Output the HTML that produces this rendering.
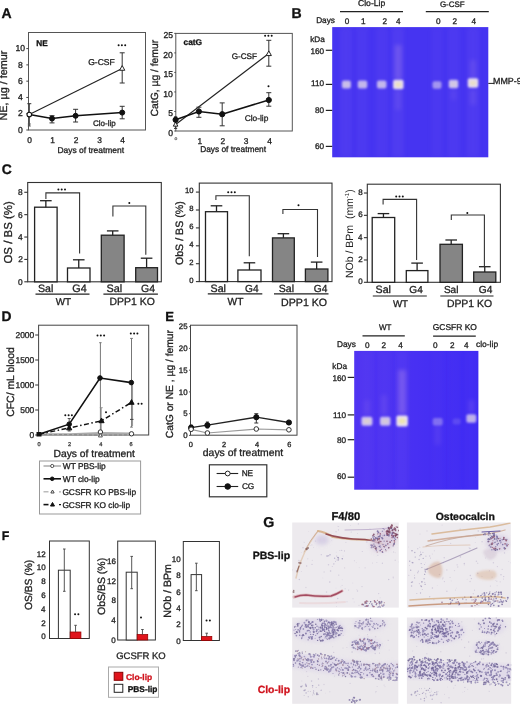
<!DOCTYPE html>
<html><head><meta charset="utf-8"><title>Figure</title>
<style>
html,body{margin:0;padding:0;background:#fff;}
body{width:520px;height:707px;overflow:hidden;}
svg{display:block;font-family:"Liberation Sans", sans-serif;text-rendering:geometricPrecision;will-change:transform;filter:blur(0.35px);}
</style></head><body>
<svg width="520" height="707" viewBox="0 0 520 707">
<defs>
<filter id="blur1" x="-50%" y="-50%" width="200%" height="200%"><feGaussianBlur stdDeviation="1.2"/></filter>
<filter id="blur2" x="-50%" y="-50%" width="200%" height="200%"><feGaussianBlur stdDeviation="2"/></filter>
<filter id="blur05" x="-20%" y="-20%" width="140%" height="140%"><feGaussianBlur stdDeviation="0.5"/></filter>
<filter id="blur06" x="-5%" y="-5%" width="110%" height="110%"><feGaussianBlur stdDeviation="0.45"/></filter>
<linearGradient id="g2grad" x1="0" y1="0" x2="1" y2="0"><stop offset="0" stop-color="#5034f2"/><stop offset="0.5" stop-color="#4830f3"/><stop offset="1" stop-color="#3e2af4"/></linearGradient>
</defs>
<rect width="520" height="707" fill="#fff"/>
<text x="1.45" y="17.94" font-size="14.03" text-anchor="start" font-weight="bold" fill="#111" stroke="#111" stroke-width="0.3">A</text>
<text x="291.48" y="17.86" font-size="14.1" text-anchor="start" font-weight="bold" fill="#111" stroke="#111" stroke-width="0.3">B</text>
<text x="1.85" y="174.49" font-size="13.89" text-anchor="start" font-weight="bold" fill="#111" stroke="#111" stroke-width="0.3">C</text>
<text x="1.5" y="320.57" font-size="13.82" text-anchor="start" font-weight="bold" fill="#111" stroke="#111" stroke-width="0.3">D</text>
<text x="165.35" y="320.62" font-size="13.1" text-anchor="start" font-weight="bold" fill="#111" stroke="#111" stroke-width="0.3">E</text>
<text x="1.8" y="539.66" font-size="12.35" text-anchor="start" font-weight="bold" fill="#111" stroke="#111" stroke-width="0.3">F</text>
<text x="263.23" y="527.41" font-size="14.22" text-anchor="start" font-weight="bold" fill="#111" stroke="#111" stroke-width="0.3">G</text>
<rect x="28.5" y="32.5" width="117" height="97.5" fill="none" stroke="#555" stroke-width="1"/>
<line x1="26.3" y1="130.0" x2="28.5" y2="130.0" stroke="#444" stroke-width="1"/>
<text x="17.99" y="132.67" font-size="8.6" text-anchor="start" font-weight="normal" fill="#222" stroke="#222" stroke-width="0.3">0</text>
<line x1="26.3" y1="113.72" x2="28.5" y2="113.72" stroke="#444" stroke-width="1"/>
<text x="18.01" y="116.43" font-size="8.6" text-anchor="start" font-weight="normal" fill="#222" stroke="#222" stroke-width="0.3">2</text>
<line x1="26.3" y1="97.44" x2="28.5" y2="97.44" stroke="#444" stroke-width="1"/>
<text x="18.06" y="100.11" font-size="8.6" text-anchor="start" font-weight="normal" fill="#222" stroke="#222" stroke-width="0.3">4</text>
<line x1="26.3" y1="81.16" x2="28.5" y2="81.16" stroke="#444" stroke-width="1"/>
<text x="17.97" y="83.83" font-size="8.6" text-anchor="start" font-weight="normal" fill="#222" stroke="#222" stroke-width="0.3">6</text>
<line x1="26.3" y1="64.88" x2="28.5" y2="64.88" stroke="#444" stroke-width="1"/>
<text x="17.99" y="67.55" font-size="8.6" text-anchor="start" font-weight="normal" fill="#222" stroke="#222" stroke-width="0.3">8</text>
<line x1="26.3" y1="48.599999999999994" x2="28.5" y2="48.599999999999994" stroke="#444" stroke-width="1"/>
<text x="15.45" y="51.27" font-size="8.6" text-anchor="start" font-weight="normal" fill="#222" stroke="#222" stroke-width="0.3">10</text>
<text x="27.15" y="142.9" font-size="8.4" text-anchor="start" font-weight="normal" fill="#222" stroke="#222" stroke-width="0.3">0</text>
<text x="50.14" y="142.9" font-size="8.4" text-anchor="start" font-weight="normal" fill="#222" stroke="#222" stroke-width="0.3">1</text>
<text x="73.87" y="142.94" font-size="8.4" text-anchor="start" font-weight="normal" fill="#222" stroke="#222" stroke-width="0.3">2</text>
<text x="97.17" y="142.9" font-size="8.4" text-anchor="start" font-weight="normal" fill="#222" stroke="#222" stroke-width="0.3">3</text>
<text x="120.31" y="142.9" font-size="8.4" text-anchor="start" font-weight="normal" fill="#222" stroke="#222" stroke-width="0.3">4</text>
<text x="57.45" y="152.88" font-size="8.45" text-anchor="start" font-weight="normal" fill="#222" stroke="#222" stroke-width="0.3">Days of treatment</text>
<text x="7.44" y="120.53" font-size="10.82" text-anchor="start" font-weight="normal" fill="#222" stroke="#222" stroke-width="0.3" transform="rotate(-90 7.44 120.53)">NE, µg / femur</text>
<text x="36.29" y="45.98" font-size="8.21" text-anchor="start" font-weight="bold" fill="#111" stroke="#111" stroke-width="0.3">NE</text>
<polyline points="29.3,114.6 122.7,68.2" fill="none" stroke="#222" stroke-width="1.1"/>
<line x1="122.2" y1="52.8" x2="122.2" y2="83" stroke="#333" stroke-width="1"/>
<line x1="119.7" y1="52.8" x2="124.7" y2="52.8" stroke="#333" stroke-width="1"/>
<line x1="119.7" y1="83" x2="124.7" y2="83" stroke="#333" stroke-width="1"/>
<polygon points="122.2,65.592 119.60000000000001,70.272 124.8,70.272" fill="#fff" stroke="#222" stroke-width="1"/>
<text x="88.2" y="64.5" font-size="8.56" text-anchor="start" font-weight="normal" fill="#222" stroke="#222" stroke-width="0.3">G-CSF</text>
<circle cx="118.60" cy="45.2" r="1.0" fill="#111"/>
<circle cx="121.90" cy="45.2" r="1.0" fill="#111"/>
<circle cx="125.20" cy="45.2" r="1.0" fill="#111"/>
<polyline points="29.3,114.6 52.0,118.6 75.6,115.8 122.2,112.6" fill="none" stroke="#111" stroke-width="1.5"/>
<line x1="52" y1="115.7" x2="52" y2="122.9" stroke="#333" stroke-width="1"/>
<line x1="49.5" y1="115.7" x2="54.5" y2="115.7" stroke="#333" stroke-width="1"/>
<line x1="49.5" y1="122.9" x2="54.5" y2="122.9" stroke="#333" stroke-width="1"/>
<line x1="75.6" y1="109.3" x2="75.6" y2="122.0" stroke="#333" stroke-width="1"/>
<line x1="73.1" y1="109.3" x2="78.1" y2="109.3" stroke="#333" stroke-width="1"/>
<line x1="73.1" y1="122.0" x2="78.1" y2="122.0" stroke="#333" stroke-width="1"/>
<line x1="122.2" y1="106.3" x2="122.2" y2="118.8" stroke="#333" stroke-width="1"/>
<line x1="119.7" y1="106.3" x2="124.7" y2="106.3" stroke="#333" stroke-width="1"/>
<line x1="119.7" y1="118.8" x2="124.7" y2="118.8" stroke="#333" stroke-width="1"/>
<line x1="29.3" y1="103.7" x2="29.3" y2="126" stroke="#333" stroke-width="1"/>
<line x1="27.3" y1="103.7" x2="31.3" y2="103.7" stroke="#333" stroke-width="1"/>
<line x1="27.8" y1="124" x2="30.8" y2="124" stroke="#555" stroke-width="1"/>
<line x1="27.8" y1="126" x2="30.8" y2="126" stroke="#555" stroke-width="1"/>
<circle cx="52" cy="118.6" r="2.5" fill="#111" stroke="#111" stroke-width="1"/>
<circle cx="75.6" cy="115.8" r="2.5" fill="#111" stroke="#111" stroke-width="1"/>
<circle cx="122.2" cy="112.6" r="2.5" fill="#111" stroke="#111" stroke-width="1"/>
<circle cx="29.3" cy="114.6" r="2.3" fill="#fff" stroke="#111" stroke-width="1.1"/>
<text x="93.03" y="125.77" font-size="8.03" text-anchor="start" font-weight="normal" fill="#222" stroke="#222" stroke-width="0.3">Clo-lip</text>
<rect x="175.8" y="33.4" width="116.5" height="97.6" fill="none" stroke="#555" stroke-width="1"/>
<line x1="174.3" y1="131.0" x2="175.8" y2="131.0" stroke="#444" stroke-width="1"/>
<line x1="174.3" y1="111.475" x2="175.8" y2="111.475" stroke="#444" stroke-width="1"/>
<line x1="174.3" y1="91.95" x2="175.8" y2="91.95" stroke="#444" stroke-width="1"/>
<line x1="174.3" y1="72.42500000000001" x2="175.8" y2="72.42500000000001" stroke="#444" stroke-width="1"/>
<line x1="174.3" y1="52.900000000000006" x2="175.8" y2="52.900000000000006" stroke="#444" stroke-width="1"/>
<line x1="174.3" y1="33.375" x2="175.8" y2="33.375" stroke="#444" stroke-width="1"/>
<text x="168.13" y="135.77" font-size="8.6" text-anchor="start" font-weight="normal" fill="#222" stroke="#222" stroke-width="0.3">0</text>
<text x="168.17" y="116.2" font-size="8.6" text-anchor="start" font-weight="normal" fill="#222" stroke="#222" stroke-width="0.3">5</text>
<text x="163.35" y="96.72" font-size="8.6" text-anchor="start" font-weight="normal" fill="#222" stroke="#222" stroke-width="0.3">10</text>
<text x="163.4" y="77.15" font-size="8.6" text-anchor="start" font-weight="normal" fill="#222" stroke="#222" stroke-width="0.3">15</text>
<text x="163.35" y="57.67" font-size="8.6" text-anchor="start" font-weight="normal" fill="#222" stroke="#222" stroke-width="0.3">20</text>
<text x="163.4" y="38.14" font-size="8.6" text-anchor="start" font-weight="normal" fill="#222" stroke="#222" stroke-width="0.3">25</text>
<text x="174.51" y="140.32" font-size="5" text-anchor="start" font-weight="normal" fill="#666" stroke="#666" stroke-width="0.3">o</text>
<text x="197.54" y="143.5" font-size="8.4" text-anchor="start" font-weight="normal" fill="#222" stroke="#222" stroke-width="0.3">1</text>
<text x="220.57" y="143.54" font-size="8.4" text-anchor="start" font-weight="normal" fill="#222" stroke="#222" stroke-width="0.3">2</text>
<text x="243.87" y="143.5" font-size="8.4" text-anchor="start" font-weight="normal" fill="#222" stroke="#222" stroke-width="0.3">3</text>
<text x="267.31" y="143.5" font-size="8.4" text-anchor="start" font-weight="normal" fill="#222" stroke="#222" stroke-width="0.3">4</text>
<text x="200.16" y="152.3" font-size="8.36" text-anchor="start" font-weight="normal" fill="#222" stroke="#222" stroke-width="0.3">Days of treatment</text>
<text x="158.16" y="116.39" font-size="10.34" text-anchor="start" font-weight="normal" fill="#222" stroke="#222" stroke-width="0.3" transform="rotate(-90 158.16 116.39)">CatG, µg / femur</text>
<text x="183.49" y="45.39" font-size="8.37" text-anchor="start" font-weight="bold" fill="#111" stroke="#111" stroke-width="0.3">catG</text>
<polyline points="175.6,124.5 268.8,53.5" fill="none" stroke="#222" stroke-width="1.1"/>
<line x1="268.8" y1="40.3" x2="268.8" y2="66.2" stroke="#333" stroke-width="1"/>
<line x1="266.3" y1="40.3" x2="271.3" y2="40.3" stroke="#333" stroke-width="1"/>
<line x1="266.3" y1="66.2" x2="271.3" y2="66.2" stroke="#333" stroke-width="1"/>
<line x1="175.6" y1="116.8" x2="175.6" y2="128.4" stroke="#333" stroke-width="1"/>
<line x1="174" y1="116.8" x2="177.2" y2="116.8" stroke="#333" stroke-width="1"/>
<line x1="174" y1="128.4" x2="177.2" y2="128.4" stroke="#333" stroke-width="1"/>
<polygon points="268.8,50.892 266.2,55.572 271.40000000000003,55.572" fill="#fff" stroke="#222" stroke-width="1"/>
<polygon points="175.6,122.016 173.29999999999998,126.156 177.9,126.156" fill="#fff" stroke="#222" stroke-width="1"/>
<text x="231.72" y="59.2" font-size="8.13" text-anchor="start" font-weight="normal" fill="#222" stroke="#222" stroke-width="0.3">G-CSF</text>
<circle cx="265.10" cy="35.8" r="1.0" fill="#111"/>
<circle cx="268.40" cy="35.8" r="1.0" fill="#111"/>
<circle cx="271.70" cy="35.8" r="1.0" fill="#111"/>
<polyline points="175.6,119.8 198.9,111.5 222.2,114.2 268.8,100.0" fill="none" stroke="#111" stroke-width="1.5"/>
<line x1="198.9" y1="107.2" x2="198.9" y2="117.3" stroke="#333" stroke-width="1"/>
<line x1="196.4" y1="107.2" x2="201.4" y2="107.2" stroke="#333" stroke-width="1"/>
<line x1="196.4" y1="117.3" x2="201.4" y2="117.3" stroke="#333" stroke-width="1"/>
<line x1="222.2" y1="102.9" x2="222.2" y2="125.8" stroke="#333" stroke-width="1"/>
<line x1="219.7" y1="102.9" x2="224.7" y2="102.9" stroke="#333" stroke-width="1"/>
<line x1="219.7" y1="125.8" x2="224.7" y2="125.8" stroke="#333" stroke-width="1"/>
<line x1="268.8" y1="92.7" x2="268.8" y2="106.2" stroke="#333" stroke-width="1"/>
<line x1="266.3" y1="92.7" x2="271.3" y2="92.7" stroke="#333" stroke-width="1"/>
<line x1="266.3" y1="106.2" x2="271.3" y2="106.2" stroke="#333" stroke-width="1"/>
<circle cx="175.6" cy="119.8" r="2.6" fill="#111" stroke="#111" stroke-width="1"/>
<circle cx="198.9" cy="111.5" r="2.6" fill="#111" stroke="#111" stroke-width="1"/>
<circle cx="222.2" cy="114.2" r="2.6" fill="#111" stroke="#111" stroke-width="1"/>
<circle cx="268.8" cy="100.0" r="2.6" fill="#111" stroke="#111" stroke-width="1"/>
<circle cx="268.50" cy="86.2" r="1.0" fill="#111"/>
<text x="244.71" y="120.84" font-size="8.32" text-anchor="start" font-weight="normal" fill="#222" stroke="#222" stroke-width="0.3">Clo-lip</text>
<rect x="332.2" y="27.1" width="156.10000000000002" height="130.20000000000002" fill="#4634f1"/>
<clipPath id="clipb1"><rect x="332.2" y="27.1" width="156.10000000000002" height="130.20000000000002"/></clipPath>
<g clip-path="url(#clipb1)">

<rect x="340.0" y="27.1" width="12" height="130.20000000000002" fill="#8a70f0" opacity="0.12" filter="url(#blur2)"/>
<rect x="356.0" y="27.1" width="12" height="130.20000000000002" fill="#8a70f0" opacity="0.1" filter="url(#blur2)"/>
<rect x="375.6" y="27.1" width="12" height="130.20000000000002" fill="#8a70f0" opacity="0.1" filter="url(#blur2)"/>
<rect x="392.0" y="27.1" width="12" height="130.20000000000002" fill="#8a70f0" opacity="0.14" filter="url(#blur2)"/>
<rect x="431.0" y="27.1" width="12" height="130.20000000000002" fill="#8a70f0" opacity="0.08" filter="url(#blur2)"/>
<rect x="447.5" y="27.1" width="12" height="130.20000000000002" fill="#8a70f0" opacity="0.1" filter="url(#blur2)"/>
<rect x="467.0" y="27.1" width="12" height="130.20000000000002" fill="#8a70f0" opacity="0.12" filter="url(#blur2)"/>
<rect x="394.7" y="45" width="7" height="35" fill="#c9a0e8" opacity="0.25" filter="url(#blur2)"/>
<rect x="470.0" y="60" width="6" height="20" fill="#c9a0e8" opacity="0.15" filter="url(#blur2)"/>
<rect x="395.0" y="90" width="6" height="20" fill="#c9a0e8" opacity="0.12" filter="url(#blur2)"/>
<rect x="470.0" y="90" width="6" height="15" fill="#c9a0e8" opacity="0.12" filter="url(#blur2)"/>
<rect x="451.0" y="90" width="5" height="10" fill="#c9a0e8" opacity="0.1" filter="url(#blur2)"/>
<rect x="341.9" y="80.6" width="9" height="8" rx="2" fill="#ece2f0" opacity="0.75" filter="url(#blur1)"/>
<ellipse cx="346.4" cy="84.6" rx="2.6999999999999997" ry="2.0" fill="#f0e6a0" opacity="0.15" filter="url(#blur1)"/>
<rect x="357.75" y="80.6" width="9.5" height="8" rx="2" fill="#ece2f0" opacity="0.72" filter="url(#blur1)"/>
<ellipse cx="362.5" cy="84.6" rx="2.85" ry="2.0" fill="#f0e6a0" opacity="0.1" filter="url(#blur1)"/>
<rect x="376.95" y="80.6" width="9.5" height="8" rx="2" fill="#ece2f0" opacity="0.72" filter="url(#blur1)"/>
<ellipse cx="381.7" cy="84.6" rx="2.85" ry="2.0" fill="#f0e6a0" opacity="0.1" filter="url(#blur1)"/>
<rect x="393.05" y="79.75" width="10.5" height="9.5" rx="2" fill="#ece2f0" opacity="0.95" filter="url(#blur1)"/>
<ellipse cx="398.3" cy="84.5" rx="3.15" ry="2.375" fill="#f0e6a0" opacity="0.6" filter="url(#blur1)"/>
<rect x="432.5" y="81.25" width="9" height="7.5" rx="2" fill="#ece2f0" opacity="0.55" filter="url(#blur1)"/>
<rect x="448.75" y="79.75" width="9.5" height="8.5" rx="2" fill="#ece2f0" opacity="0.8" filter="url(#blur1)"/>
<ellipse cx="453.5" cy="84" rx="2.85" ry="2.125" fill="#f0e6a0" opacity="0.2" filter="url(#blur1)"/>
<rect x="467.75" y="78.25" width="10.5" height="9.5" rx="2" fill="#ece2f0" opacity="0.95" filter="url(#blur1)"/>
<ellipse cx="473" cy="83" rx="3.15" ry="2.375" fill="#f0e6a0" opacity="0.5" filter="url(#blur1)"/>
</g>
<text x="358.0" y="6.46" font-size="8.6" text-anchor="start" font-weight="normal" fill="#222" stroke="#222" stroke-width="0.3">Clo-Lip</text>
<line x1="340" y1="11.7" x2="403" y2="11.7" stroke="#222" stroke-width="1.2"/>
<text x="439.93" y="6.75" font-size="7.96" text-anchor="start" font-weight="normal" fill="#222" stroke="#222" stroke-width="0.3">G-CSF</text>
<line x1="425.8" y1="11.7" x2="488.8" y2="11.7" stroke="#222" stroke-width="1.2"/>
<text x="316.17" y="23.48" font-size="8.24" text-anchor="start" font-weight="normal" fill="#222" stroke="#222" stroke-width="0.3">Days</text>
<text x="344.7" y="24.03" font-size="8.2" text-anchor="start" font-weight="normal" fill="#222" stroke="#222" stroke-width="0.3">0</text>
<text x="361.1" y="24.03" font-size="8.2" text-anchor="start" font-weight="normal" fill="#222" stroke="#222" stroke-width="0.3">1</text>
<text x="382.42" y="24.07" font-size="8.2" text-anchor="start" font-weight="normal" fill="#222" stroke="#222" stroke-width="0.3">2</text>
<text x="395.97" y="24.03" font-size="8.2" text-anchor="start" font-weight="normal" fill="#222" stroke="#222" stroke-width="0.3">4</text>
<text x="436.1" y="24.03" font-size="8.2" text-anchor="start" font-weight="normal" fill="#222" stroke="#222" stroke-width="0.3">0</text>
<text x="452.42" y="24.07" font-size="8.2" text-anchor="start" font-weight="normal" fill="#222" stroke="#222" stroke-width="0.3">2</text>
<text x="471.47" y="24.03" font-size="8.2" text-anchor="start" font-weight="normal" fill="#222" stroke="#222" stroke-width="0.3">4</text>
<text x="310.19" y="42.12" font-size="8.16" text-anchor="start" font-weight="normal" fill="#222" stroke="#222" stroke-width="0.3">kDa</text>
<text x="310.43" y="53.63" font-size="8.2" text-anchor="start" font-weight="normal" fill="#222" stroke="#222" stroke-width="0.3">160</text>
<line x1="325.8" y1="50.3" x2="332.2" y2="50.3" stroke="#222" stroke-width="1.2"/>
<text x="311.01" y="86.43" font-size="8.2" text-anchor="start" font-weight="normal" fill="#222" stroke="#222" stroke-width="0.3">110</text>
<line x1="325.8" y1="84.4" x2="332.2" y2="84.4" stroke="#222" stroke-width="1.2"/>
<text x="314.98" y="113.33" font-size="8.2" text-anchor="start" font-weight="normal" fill="#222" stroke="#222" stroke-width="0.3">80</text>
<line x1="325.8" y1="110.4" x2="332.2" y2="110.4" stroke="#222" stroke-width="1.2"/>
<text x="314.98" y="149.03" font-size="8.2" text-anchor="start" font-weight="normal" fill="#222" stroke="#222" stroke-width="0.3">60</text>
<line x1="325.8" y1="146.4" x2="332.2" y2="146.4" stroke="#222" stroke-width="1.2"/>
<line x1="488.3" y1="83.4" x2="494" y2="83.4" stroke="#222" stroke-width="1"/>
<text x="493.09" y="84.37" font-size="8.9" text-anchor="start" font-weight="normal" fill="#222" stroke="#222" stroke-width="0.3">MMP-9</text>
<rect x="27.7" y="182.5" width="133.60000000000002" height="99.30000000000001" fill="none" stroke="#333" stroke-width="1.1"/>
<line x1="24.3" y1="281.8" x2="27.7" y2="281.8" stroke="#333" stroke-width="1.1"/>
<text x="18.03" y="284.8" font-size="8.4" text-anchor="start" font-weight="normal" fill="#222" stroke="#222" stroke-width="0.3">0</text>
<line x1="24.3" y1="259.42" x2="27.7" y2="259.42" stroke="#333" stroke-width="1.1"/>
<text x="18.16" y="262.46" font-size="8.4" text-anchor="start" font-weight="normal" fill="#222" stroke="#222" stroke-width="0.3">2</text>
<line x1="24.3" y1="237.04000000000002" x2="27.7" y2="237.04000000000002" stroke="#333" stroke-width="1.1"/>
<text x="17.99" y="240.04" font-size="8.4" text-anchor="start" font-weight="normal" fill="#222" stroke="#222" stroke-width="0.3">4</text>
<line x1="24.3" y1="214.66000000000003" x2="27.7" y2="214.66000000000003" stroke="#333" stroke-width="1.1"/>
<text x="18.07" y="217.66" font-size="8.4" text-anchor="start" font-weight="normal" fill="#222" stroke="#222" stroke-width="0.3">6</text>
<line x1="24.3" y1="192.28000000000003" x2="27.7" y2="192.28000000000003" stroke="#333" stroke-width="1.1"/>
<text x="18.07" y="195.28" font-size="8.4" text-anchor="start" font-weight="normal" fill="#222" stroke="#222" stroke-width="0.3">8</text>
<rect x="34.6" y="207.2" width="22.5" height="74.60000000000002" fill="#fff" stroke="#222" stroke-width="1.3"/>
<line x1="45.85" y1="207.2" x2="45.85" y2="200.7" stroke="#222" stroke-width="1.3"/>
<line x1="40.050000000000004" y1="200.7" x2="51.65" y2="200.7" stroke="#222" stroke-width="1.3"/>
<rect x="67.5" y="268" width="22.5" height="13.800000000000011" fill="#fff" stroke="#222" stroke-width="1.3"/>
<line x1="78.75" y1="268" x2="78.75" y2="259.8" stroke="#222" stroke-width="1.3"/>
<line x1="72.95" y1="259.8" x2="84.55" y2="259.8" stroke="#222" stroke-width="1.3"/>
<rect x="101.3" y="235.2" width="22.799999999999997" height="46.60000000000002" fill="#858585" stroke="#222" stroke-width="1.3"/>
<line x1="112.69999999999999" y1="235.2" x2="112.69999999999999" y2="230.9" stroke="#222" stroke-width="1.3"/>
<line x1="106.89999999999999" y1="230.9" x2="118.49999999999999" y2="230.9" stroke="#222" stroke-width="1.3"/>
<rect x="135.7" y="267.7" width="21.80000000000001" height="14.100000000000023" fill="#858585" stroke="#222" stroke-width="1.3"/>
<line x1="146.6" y1="267.7" x2="146.6" y2="258.2" stroke="#222" stroke-width="1.3"/>
<line x1="140.79999999999998" y1="258.2" x2="152.4" y2="258.2" stroke="#222" stroke-width="1.3"/>
<polyline points="45.9,199 45.9,192.9 79.6,192.9 79.6,253.4" fill="none" stroke="#333" stroke-width="1.1"/>
<circle cx="58.40" cy="189.5" r="1.0" fill="#111"/>
<circle cx="61.70" cy="189.5" r="1.0" fill="#111"/>
<circle cx="65.00" cy="189.5" r="1.0" fill="#111"/>
<polyline points="112.9,216.4 112.9,206 145.8,206 145.8,254.8" fill="none" stroke="#333" stroke-width="1.1"/>
<circle cx="129.30" cy="202.9" r="1.0" fill="#111"/>
<text x="11.9" y="263.59" font-size="11.46" text-anchor="start" font-weight="normal" fill="#222" stroke="#222" stroke-width="0.3" transform="rotate(-90 11.9 263.59)">OS / BS (%)</text>
<text x="38.05" y="292.29" font-size="10.6" text-anchor="start" font-weight="normal" fill="#222" stroke="#222" stroke-width="0.3">Sal</text>
<text x="72.28" y="292.23" font-size="10.8" text-anchor="start" font-weight="normal" fill="#222" stroke="#222" stroke-width="0.3">G4</text>
<text x="106.44" y="292.37" font-size="10.82" text-anchor="start" font-weight="normal" fill="#222" stroke="#222" stroke-width="0.3">Sal</text>
<text x="141.0" y="292.12" font-size="10.48" text-anchor="start" font-weight="normal" fill="#222" stroke="#222" stroke-width="0.3">G4</text>
<line x1="35.5" y1="294.1" x2="89.5" y2="294.1" stroke="#222" stroke-width="1.2"/>
<line x1="103.4" y1="294.1" x2="157.9" y2="294.1" stroke="#222" stroke-width="1.2"/>
<text x="55.77" y="305.24" font-size="9.84" text-anchor="start" font-weight="normal" fill="#222" stroke="#222" stroke-width="0.3">WT</text>
<text x="109.59" y="305.45" font-size="10.43" text-anchor="start" font-weight="normal" fill="#222" stroke="#222" stroke-width="0.3">DPP1 KO</text>
<rect x="199.3" y="183.1" width="132.7" height="98.50000000000003" fill="none" stroke="#333" stroke-width="1.1"/>
<line x1="195.9" y1="281.6" x2="199.3" y2="281.6" stroke="#333" stroke-width="1.1"/>
<text x="189.2" y="282.96" font-size="7.7" text-anchor="start" font-weight="normal" fill="#222" stroke="#222" stroke-width="0.3">0</text>
<line x1="195.9" y1="263.70000000000005" x2="199.3" y2="263.70000000000005" stroke="#333" stroke-width="1.1"/>
<text x="189.31" y="265.1" font-size="7.7" text-anchor="start" font-weight="normal" fill="#222" stroke="#222" stroke-width="0.3">2</text>
<line x1="195.9" y1="245.8" x2="199.3" y2="245.8" stroke="#333" stroke-width="1.1"/>
<text x="189.16" y="247.16" font-size="7.7" text-anchor="start" font-weight="normal" fill="#222" stroke="#222" stroke-width="0.3">4</text>
<line x1="195.9" y1="227.90000000000003" x2="199.3" y2="227.90000000000003" stroke="#333" stroke-width="1.1"/>
<text x="189.23" y="229.26" font-size="7.7" text-anchor="start" font-weight="normal" fill="#222" stroke="#222" stroke-width="0.3">6</text>
<line x1="195.9" y1="210.00000000000003" x2="199.3" y2="210.00000000000003" stroke="#333" stroke-width="1.1"/>
<text x="189.23" y="211.36" font-size="7.7" text-anchor="start" font-weight="normal" fill="#222" stroke="#222" stroke-width="0.3">8</text>
<line x1="195.9" y1="192.10000000000002" x2="199.3" y2="192.10000000000002" stroke="#333" stroke-width="1.1"/>
<text x="184.92" y="193.46" font-size="7.7" text-anchor="start" font-weight="normal" fill="#222" stroke="#222" stroke-width="0.3">10</text>
<rect x="205.5" y="211.7" width="22.0" height="69.90000000000003" fill="#fff" stroke="#222" stroke-width="1.3"/>
<line x1="216.5" y1="211.7" x2="216.5" y2="205.8" stroke="#222" stroke-width="1.3"/>
<line x1="210.7" y1="205.8" x2="222.3" y2="205.8" stroke="#222" stroke-width="1.3"/>
<rect x="237.9" y="270" width="23.099999999999994" height="11.600000000000023" fill="#fff" stroke="#222" stroke-width="1.3"/>
<line x1="249.45" y1="270" x2="249.45" y2="262.8" stroke="#222" stroke-width="1.3"/>
<line x1="243.64999999999998" y1="262.8" x2="255.25" y2="262.8" stroke="#222" stroke-width="1.3"/>
<rect x="272.5" y="237.9" width="21.80000000000001" height="43.70000000000002" fill="#858585" stroke="#222" stroke-width="1.3"/>
<line x1="283.4" y1="237.9" x2="283.4" y2="233.7" stroke="#222" stroke-width="1.3"/>
<line x1="277.59999999999997" y1="233.7" x2="289.2" y2="233.7" stroke="#222" stroke-width="1.3"/>
<rect x="305.4" y="269" width="22.5" height="12.600000000000023" fill="#858585" stroke="#222" stroke-width="1.3"/>
<line x1="316.65" y1="269" x2="316.65" y2="262.1" stroke="#222" stroke-width="1.3"/>
<line x1="310.84999999999997" y1="262.1" x2="322.45" y2="262.1" stroke="#222" stroke-width="1.3"/>
<polyline points="215.9,200 215.9,195.8 249.3,195.8 249.3,256.3" fill="none" stroke="#333" stroke-width="1.1"/>
<circle cx="228.20" cy="192.3" r="1.0" fill="#111"/>
<circle cx="231.50" cy="192.3" r="1.0" fill="#111"/>
<circle cx="234.80" cy="192.3" r="1.0" fill="#111"/>
<polyline points="282.9,214 282.9,209.5 317.5,209.5 317.5,257" fill="none" stroke="#333" stroke-width="1.1"/>
<circle cx="298.50" cy="205.2" r="1.0" fill="#111"/>
<text x="183.29" y="265.06" font-size="10.63" text-anchor="start" font-weight="normal" fill="#222" stroke="#222" stroke-width="0.3" transform="rotate(-90 183.29 265.06)">ObS / BS (%)</text>
<text x="210.55" y="292.01" font-size="10.67" text-anchor="start" font-weight="normal" fill="#222" stroke="#222" stroke-width="0.3">Sal</text>
<text x="245.02" y="291.71" font-size="10.16" text-anchor="start" font-weight="normal" fill="#222" stroke="#222" stroke-width="0.3">G4</text>
<text x="278.85" y="291.96" font-size="10.52" text-anchor="start" font-weight="normal" fill="#222" stroke="#222" stroke-width="0.3">Sal</text>
<text x="313.82" y="291.71" font-size="10.16" text-anchor="start" font-weight="normal" fill="#222" stroke="#222" stroke-width="0.3">G4</text>
<line x1="207.8" y1="293.9" x2="262.3" y2="293.9" stroke="#222" stroke-width="1.2"/>
<line x1="274" y1="293.9" x2="328.5" y2="293.9" stroke="#222" stroke-width="1.2"/>
<text x="227.58" y="305.41" font-size="10.16" text-anchor="start" font-weight="normal" fill="#222" stroke="#222" stroke-width="0.3">WT</text>
<text x="281.07" y="306.41" font-size="10.62" text-anchor="start" font-weight="normal" fill="#222" stroke="#222" stroke-width="0.3">DPP1 KO</text>
<rect x="367.3" y="184.2" width="133.09999999999997" height="98.10000000000002" fill="none" stroke="#333" stroke-width="1.1"/>
<line x1="363.90000000000003" y1="282.3" x2="367.3" y2="282.3" stroke="#333" stroke-width="1.1"/>
<text x="358.14" y="284.26" font-size="8.0" text-anchor="start" font-weight="normal" fill="#222" stroke="#222" stroke-width="0.3">0</text>
<line x1="363.90000000000003" y1="259.98" x2="367.3" y2="259.98" stroke="#333" stroke-width="1.1"/>
<text x="358.26" y="261.98" font-size="8.0" text-anchor="start" font-weight="normal" fill="#222" stroke="#222" stroke-width="0.3">2</text>
<line x1="363.90000000000003" y1="237.66000000000003" x2="367.3" y2="237.66000000000003" stroke="#333" stroke-width="1.1"/>
<text x="358.1" y="239.62" font-size="8.0" text-anchor="start" font-weight="normal" fill="#222" stroke="#222" stroke-width="0.3">4</text>
<line x1="363.90000000000003" y1="215.34" x2="367.3" y2="215.34" stroke="#333" stroke-width="1.1"/>
<text x="358.18" y="217.3" font-size="8.0" text-anchor="start" font-weight="normal" fill="#222" stroke="#222" stroke-width="0.3">6</text>
<line x1="363.90000000000003" y1="193.02" x2="367.3" y2="193.02" stroke="#333" stroke-width="1.1"/>
<text x="358.18" y="194.98" font-size="8.0" text-anchor="start" font-weight="normal" fill="#222" stroke="#222" stroke-width="0.3">8</text>
<rect x="372.2" y="217.5" width="22.5" height="64.80000000000001" fill="#fff" stroke="#222" stroke-width="1.3"/>
<line x1="383.45" y1="217.5" x2="383.45" y2="213.6" stroke="#222" stroke-width="1.3"/>
<line x1="377.65" y1="213.6" x2="389.25" y2="213.6" stroke="#222" stroke-width="1.3"/>
<rect x="406.3" y="270.6" width="21.599999999999966" height="11.699999999999989" fill="#fff" stroke="#222" stroke-width="1.3"/>
<line x1="417.1" y1="270.6" x2="417.1" y2="263.1" stroke="#222" stroke-width="1.3"/>
<line x1="411.3" y1="263.1" x2="422.90000000000003" y2="263.1" stroke="#222" stroke-width="1.3"/>
<rect x="440" y="244.3" width="22.399999999999977" height="38.0" fill="#858585" stroke="#222" stroke-width="1.3"/>
<line x1="451.2" y1="244.3" x2="451.2" y2="240" stroke="#222" stroke-width="1.3"/>
<line x1="445.4" y1="240" x2="457.0" y2="240" stroke="#222" stroke-width="1.3"/>
<rect x="473.7" y="272" width="22.100000000000023" height="10.300000000000011" fill="#858585" stroke="#222" stroke-width="1.3"/>
<line x1="484.75" y1="272" x2="484.75" y2="266.7" stroke="#222" stroke-width="1.3"/>
<line x1="478.95" y1="266.7" x2="490.55" y2="266.7" stroke="#222" stroke-width="1.3"/>
<polyline points="383.1,204.5 383.1,199.4 416.6,199.4 416.6,260" fill="none" stroke="#333" stroke-width="1.1"/>
<circle cx="396.20" cy="196.4" r="1.0" fill="#111"/>
<circle cx="399.50" cy="196.4" r="1.0" fill="#111"/>
<circle cx="402.80" cy="196.4" r="1.0" fill="#111"/>
<polyline points="451.3,220 451.3,215 484.4,215 484.4,266" fill="none" stroke="#333" stroke-width="1.1"/>
<circle cx="467.30" cy="213" r="1.0" fill="#111"/>
<text x="352.90" y="278.04" font-size="10.5" fill="#222" transform="rotate(-90 352.90 278.04)" xml:space="preserve">NOb / BPm  (mm<tspan font-size="6" dy="-3.6">-1</tspan><tspan dy="3.6">)</tspan></text>
<text x="375.55" y="293.16" font-size="10.67" text-anchor="start" font-weight="normal" fill="#222" stroke="#222" stroke-width="0.3">Sal</text>
<text x="409.32" y="292.83" font-size="10.08" text-anchor="start" font-weight="normal" fill="#222" stroke="#222" stroke-width="0.3">G4</text>
<text x="443.88" y="292.95" font-size="10.07" text-anchor="start" font-weight="normal" fill="#222" stroke="#222" stroke-width="0.3">Sal</text>
<text x="478.82" y="292.86" font-size="10.16" text-anchor="start" font-weight="normal" fill="#222" stroke="#222" stroke-width="0.3">G4</text>
<line x1="372.8" y1="296" x2="426.8" y2="296" stroke="#222" stroke-width="1.2"/>
<line x1="440.3" y1="296" x2="493.5" y2="296" stroke="#222" stroke-width="1.2"/>
<text x="392.88" y="307.02" font-size="9.77" text-anchor="start" font-weight="normal" fill="#222" stroke="#222" stroke-width="0.3">WT</text>
<text x="446.89" y="307.35" font-size="10.43" text-anchor="start" font-weight="normal" fill="#222" stroke="#222" stroke-width="0.3">DPP1 KO</text>
<rect x="38.6" y="325.2" width="110.1" height="109.8" fill="none" stroke="#444" stroke-width="1"/>
<line x1="35.2" y1="435.0" x2="38.6" y2="435.0" stroke="#333" stroke-width="1"/>
<text x="29.59" y="437.73" font-size="8.48" text-anchor="start" font-weight="normal" fill="#222" stroke="#222" stroke-width="0.3">0</text>
<line x1="35.2" y1="410.0" x2="38.6" y2="410.0" stroke="#333" stroke-width="1"/>
<text x="20.18" y="412.73" font-size="8.48" text-anchor="start" font-weight="normal" fill="#222" stroke="#222" stroke-width="0.3">500</text>
<line x1="35.2" y1="385.0" x2="38.6" y2="385.0" stroke="#333" stroke-width="1"/>
<text x="15.43" y="387.73" font-size="8.48" text-anchor="start" font-weight="normal" fill="#222" stroke="#222" stroke-width="0.3">1000</text>
<line x1="35.2" y1="360.0" x2="38.6" y2="360.0" stroke="#333" stroke-width="1"/>
<text x="15.43" y="362.73" font-size="8.48" text-anchor="start" font-weight="normal" fill="#222" stroke="#222" stroke-width="0.3">1500</text>
<line x1="35.2" y1="335.0" x2="38.6" y2="335.0" stroke="#333" stroke-width="1"/>
<text x="15.43" y="337.73" font-size="8.48" text-anchor="start" font-weight="normal" fill="#222" stroke="#222" stroke-width="0.3">2000</text>
<text x="37.43" y="445.73" font-size="5.6" text-anchor="start" font-weight="normal" fill="#444" stroke="#444" stroke-width="0.3">0</text>
<text x="68.05" y="445.76" font-size="5.6" text-anchor="start" font-weight="normal" fill="#444" stroke="#444" stroke-width="0.3">2</text>
<text x="99.17" y="445.73" font-size="5.6" text-anchor="start" font-weight="normal" fill="#444" stroke="#444" stroke-width="0.3">4</text>
<text x="129.62" y="445.73" font-size="5.6" text-anchor="start" font-weight="normal" fill="#444" stroke="#444" stroke-width="0.3">6</text>
<text x="53.5" y="456.66" font-size="10.32" text-anchor="start" font-weight="normal" fill="#222" stroke="#222" stroke-width="0.3">Days of treatment</text>
<text x="14.08" y="416.78" font-size="10.43" text-anchor="start" font-weight="normal" fill="#222" stroke="#222" stroke-width="0.3" transform="rotate(-90 14.08 416.78)">CFC/ mL blood</text>
<line x1="100.4" y1="342.7" x2="100.4" y2="432.5" stroke="#777" stroke-width="1"/>
<line x1="99.2" y1="342.7" x2="101.60000000000001" y2="342.7" stroke="#777" stroke-width="1"/>
<line x1="99.2" y1="432.5" x2="101.60000000000001" y2="432.5" stroke="#777" stroke-width="1"/>
<line x1="131.5" y1="338.4" x2="131.5" y2="427.1" stroke="#777" stroke-width="1"/>
<line x1="130.1" y1="338.4" x2="132.9" y2="338.4" stroke="#777" stroke-width="1"/>
<line x1="130.1" y1="427.1" x2="132.9" y2="427.1" stroke="#777" stroke-width="1"/>
<line x1="132.3" y1="383" x2="132.3" y2="426" stroke="#999" stroke-width="1.5"/>
<line x1="69.2" y1="418.5" x2="69.2" y2="431" stroke="#555" stroke-width="1"/>
<line x1="67.7" y1="418.5" x2="70.7" y2="418.5" stroke="#555" stroke-width="1"/>
<line x1="67.7" y1="431" x2="70.7" y2="431" stroke="#555" stroke-width="1"/>
<line x1="101.3" y1="407.7" x2="101.3" y2="432" stroke="#888" stroke-width="0.8"/>
<line x1="99.8" y1="407.7" x2="102.8" y2="407.7" stroke="#888" stroke-width="0.8"/>
<line x1="99.8" y1="432" x2="102.8" y2="432" stroke="#888" stroke-width="0.8"/>
<line x1="130" y1="419.4" x2="133.5" y2="419.4" stroke="#444" stroke-width="1"/>
<polyline points="39.0,434.3 69.6,434.3 100.4,433.0 131.5,433.6" fill="none" stroke="#aaa" stroke-width="2.2"/>
<polyline points="39.0,434.6 69.6,434.6 100.4,435.2 131.5,434.8" fill="none" stroke="#888" stroke-width="1" stroke-dasharray="3,2"/>
<polyline points="39.0,434.2 69.2,428.0 101.5,420.8 131.5,402.4" fill="none" stroke="#111" stroke-width="1.5" stroke-dasharray="5,2.5,1.5,2.5"/>
<polyline points="39.0,434.2 69.2,424.2 100.0,378.0 131.3,382.6" fill="none" stroke="#111" stroke-width="1.6"/>
<circle cx="69.2" cy="424.2" r="2.3" fill="#111" stroke="#111" stroke-width="1"/>
<circle cx="100" cy="378" r="2.3" fill="#111" stroke="#111" stroke-width="1"/>
<circle cx="131.3" cy="382.6" r="2.3" fill="#111" stroke="#111" stroke-width="1"/>
<polygon points="69.2,425.192 66.60000000000001,429.872 71.8,429.872" fill="#111" stroke="#111" stroke-width="1"/>
<polygon points="101.5,417.992 98.9,422.672 104.1,422.672" fill="#111" stroke="#111" stroke-width="1"/>
<polygon points="131.5,399.592 128.9,404.272 134.1,404.272" fill="#111" stroke="#111" stroke-width="1"/>
<rect x="36.5" y="432" width="5" height="4.5" fill="#111"/>
<circle cx="100.4" cy="432" r="2.2" fill="#fff" stroke="#333" stroke-width="1"/>
<circle cx="131.5" cy="433.8" r="2.2" fill="#fff" stroke="#333" stroke-width="1"/>
<polygon points="100.4,433.34 98.4,436.94 102.4,436.94" fill="#fff" stroke="#555" stroke-width="1"/>
<circle cx="65.30" cy="415.2" r="1.0" fill="#111"/>
<circle cx="68.60" cy="415.2" r="1.0" fill="#111"/>
<circle cx="71.90" cy="415.2" r="1.0" fill="#111"/>
<circle cx="97.50" cy="335.4" r="1.0" fill="#111"/>
<circle cx="100.80" cy="335.4" r="1.0" fill="#111"/>
<circle cx="104.10" cy="335.4" r="1.0" fill="#111"/>
<circle cx="130.80" cy="333.4" r="1.0" fill="#111"/>
<circle cx="134.10" cy="333.4" r="1.0" fill="#111"/>
<circle cx="137.40" cy="333.4" r="1.0" fill="#111"/>
<circle cx="106.00" cy="412.3" r="1.0" fill="#111"/>
<circle cx="138.35" cy="403.8" r="1.0" fill="#111"/>
<circle cx="141.65" cy="403.8" r="1.0" fill="#111"/>
<rect x="39.5" y="461" width="101.1" height="53" fill="none" stroke="#999" stroke-width="1"/>
<line x1="43.5" y1="466.0" x2="61" y2="466.0" stroke="#aaa" stroke-width="1.5"/>
<circle cx="52.2" cy="466.0" r="1.6" fill="#fff" stroke="#444" stroke-width="0.9"/>
<line x1="43.5" y1="478.8" x2="61" y2="478.8" stroke="#111" stroke-width="1.6"/>
<circle cx="52.2" cy="478.8" r="1.8" fill="#111" stroke="#111" stroke-width="1"/>
<line x1="43.5" y1="491.8" x2="48.5" y2="491.8" stroke="#aaa" stroke-width="1.2"/>
<line x1="59" y1="491.8" x2="61" y2="491.8" stroke="#aaa" stroke-width="1.2"/>
<polygon points="52.5,490.01800000000003 50.85,492.988 54.15,492.988" fill="#fff" stroke="#444" stroke-width="1"/>
<line x1="43.5" y1="504.6" x2="48.5" y2="504.6" stroke="#111" stroke-width="1.6"/>
<line x1="59" y1="504.6" x2="61" y2="504.6" stroke="#111" stroke-width="1.2"/>
<polygon points="52.5,502.44 50.5,506.04 54.5,506.04" fill="#111" stroke="#111" stroke-width="1"/>
<text x="62.76" y="469" font-size="8.36" text-anchor="start" font-weight="normal" fill="#222" stroke="#222" stroke-width="0.3">WT PBS-lip</text>
<text x="62.76" y="481.7" font-size="8.36" text-anchor="start" font-weight="normal" fill="#222" stroke="#222" stroke-width="0.3">WT clo-lip</text>
<text x="62.38" y="494.9" font-size="8.36" text-anchor="start" font-weight="normal" fill="#222" stroke="#222" stroke-width="0.3">GCSFR KO PBS-lip</text>
<text x="62.38" y="507.6" font-size="8.36" text-anchor="start" font-weight="normal" fill="#222" stroke="#222" stroke-width="0.3">GCSFR KO clo-lip</text>
<rect x="190.5" y="325.2" width="106.5" height="110" fill="none" stroke="#444" stroke-width="1"/>
<line x1="189.0" y1="435.4" x2="190.5" y2="435.4" stroke="#555" stroke-width="1"/>
<text x="183.19" y="438.23" font-size="7.9" text-anchor="start" font-weight="normal" fill="#222" stroke="#222" stroke-width="0.3">0</text>
<line x1="189.0" y1="413.65" x2="190.5" y2="413.65" stroke="#555" stroke-width="1"/>
<text x="183.23" y="416.44" font-size="7.9" text-anchor="start" font-weight="normal" fill="#222" stroke="#222" stroke-width="0.3">5</text>
<line x1="189.0" y1="391.9" x2="190.5" y2="391.9" stroke="#555" stroke-width="1"/>
<text x="178.81" y="394.73" font-size="7.9" text-anchor="start" font-weight="normal" fill="#222" stroke="#222" stroke-width="0.3">10</text>
<line x1="189.0" y1="370.15" x2="190.5" y2="370.15" stroke="#555" stroke-width="1"/>
<text x="178.85" y="372.94" font-size="7.9" text-anchor="start" font-weight="normal" fill="#222" stroke="#222" stroke-width="0.3">15</text>
<line x1="189.0" y1="348.4" x2="190.5" y2="348.4" stroke="#555" stroke-width="1"/>
<text x="178.81" y="351.23" font-size="7.9" text-anchor="start" font-weight="normal" fill="#222" stroke="#222" stroke-width="0.3">20</text>
<line x1="189.0" y1="326.65" x2="190.5" y2="326.65" stroke="#555" stroke-width="1"/>
<text x="178.85" y="329.48" font-size="7.9" text-anchor="start" font-weight="normal" fill="#222" stroke="#222" stroke-width="0.3">25</text>
<text x="188.68" y="447.35" font-size="7.4" text-anchor="start" font-weight="normal" fill="#222" stroke="#222" stroke-width="0.3">0</text>
<text x="221.9" y="447.39" font-size="7.4" text-anchor="start" font-weight="normal" fill="#222" stroke="#222" stroke-width="0.3">2</text>
<text x="255.08" y="447.35" font-size="7.4" text-anchor="start" font-weight="normal" fill="#222" stroke="#222" stroke-width="0.3">4</text>
<text x="287.16" y="447.35" font-size="7.4" text-anchor="start" font-weight="normal" fill="#222" stroke="#222" stroke-width="0.3">6</text>
<text x="202.82" y="456.38" font-size="10.42" text-anchor="start" font-weight="normal" fill="#222" stroke="#222" stroke-width="0.3">days of treatment</text>
<text x="173.2" y="438.21" font-size="10.29" text-anchor="start" font-weight="normal" fill="#222" stroke="#222" stroke-width="0.3" transform="rotate(-90 173.2 438.21)">CatG or NE , µg / femur</text>
<polyline points="191.1,429.3 207.4,433.0 256.3,429.0 288.9,429.8" fill="none" stroke="#999" stroke-width="1.2"/>
<polyline points="191.1,427.7 207.4,425.2 256.3,417.2 288.9,422.5" fill="none" stroke="#222" stroke-width="1.3"/>
<line x1="256.3" y1="413.7" x2="256.3" y2="423" stroke="#333" stroke-width="1"/>
<line x1="254.3" y1="413.7" x2="258.3" y2="413.7" stroke="#333" stroke-width="1"/>
<line x1="254.3" y1="423" x2="258.3" y2="423" stroke="#333" stroke-width="1"/>
<line x1="207.4" y1="422" x2="207.4" y2="428" stroke="#333" stroke-width="1"/>
<line x1="205.9" y1="422" x2="208.9" y2="422" stroke="#333" stroke-width="1"/>
<line x1="205.9" y1="428" x2="208.9" y2="428" stroke="#333" stroke-width="1"/>
<line x1="191.1" y1="425" x2="191.1" y2="431" stroke="#333" stroke-width="1"/>
<line x1="189.6" y1="425" x2="192.6" y2="425" stroke="#333" stroke-width="1"/>
<line x1="189.6" y1="431" x2="192.6" y2="431" stroke="#333" stroke-width="1"/>
<circle cx="191.1" cy="427.7" r="2.6" fill="#111" stroke="#111" stroke-width="1"/>
<circle cx="207.4" cy="425.2" r="2.6" fill="#111" stroke="#111" stroke-width="1"/>
<circle cx="256.3" cy="417.2" r="2.6" fill="#111" stroke="#111" stroke-width="1"/>
<circle cx="288.9" cy="422.5" r="2.6" fill="#111" stroke="#111" stroke-width="1"/>
<circle cx="191.1" cy="429.3" r="2.3" fill="#fff" stroke="#333" stroke-width="1"/>
<circle cx="207.4" cy="433" r="2.3" fill="#fff" stroke="#333" stroke-width="1"/>
<circle cx="256.3" cy="429" r="2.3" fill="#fff" stroke="#333" stroke-width="1"/>
<circle cx="288.9" cy="429.8" r="2.3" fill="#fff" stroke="#333" stroke-width="1"/>
<rect x="209.4" y="464.8" width="57.4" height="32" fill="none" stroke="#333" stroke-width="1.2"/>
<line x1="216.6" y1="473.5" x2="238.2" y2="473.5" stroke="#222" stroke-width="1.1"/>
<circle cx="227.7" cy="473.5" r="2.4" fill="#fff" stroke="#222" stroke-width="1"/>
<line x1="216.6" y1="486.5" x2="238.2" y2="486.5" stroke="#222" stroke-width="1.1"/>
<circle cx="227.7" cy="486.5" r="2.8" fill="#111" stroke="#111" stroke-width="1"/>
<text x="241.64" y="476.46" font-size="8.3" text-anchor="start" font-weight="normal" fill="#222" stroke="#222" stroke-width="0.3">NE</text>
<text x="241.89" y="489.46" font-size="8.3" text-anchor="start" font-weight="normal" fill="#222" stroke="#222" stroke-width="0.3">CG</text>
<rect x="354.2" y="350.9" width="124.19999999999999" height="138.8" fill="url(#g2grad)"/>
<clipPath id="clipb2"><rect x="354.2" y="350.9" width="124.19999999999999" height="138.8"/></clipPath>
<g clip-path="url(#clipb2)">

<rect x="360.5" y="350.9" width="13" height="138.8" fill="#8a70f0" opacity="0.07" filter="url(#blur2)"/>
<rect x="378.5" y="350.9" width="13" height="138.8" fill="#8a70f0" opacity="0.07" filter="url(#blur2)"/>
<rect x="395.5" y="350.9" width="13" height="138.8" fill="#8a70f0" opacity="0.1" filter="url(#blur2)"/>
<rect x="431.5" y="350.9" width="13" height="138.8" fill="#8a70f0" opacity="0.04" filter="url(#blur2)"/>
<rect x="448.5" y="350.9" width="13" height="138.8" fill="#8a70f0" opacity="0.04" filter="url(#blur2)"/>
<rect x="464.5" y="350.9" width="13" height="138.8" fill="#8a70f0" opacity="0.05" filter="url(#blur2)"/>
<rect x="398.1" y="370" width="8" height="44" fill="#c9a0e8" opacity="0.3" filter="url(#blur2)"/>
<rect x="381.0" y="395" width="6" height="20" fill="#c9a0e8" opacity="0.12" filter="url(#blur2)"/>
<rect x="364.0" y="400" width="6" height="15" fill="#c9a0e8" opacity="0.1" filter="url(#blur2)"/>
<rect x="468.5" y="400" width="6" height="13" fill="#c9a0e8" opacity="0.15" filter="url(#blur2)"/>
<rect x="434.7" y="425" width="6" height="20" fill="#c9a0e8" opacity="0.1" filter="url(#blur2)"/>
<rect x="361.4" y="416.8" width="11" height="9" rx="2" fill="#ece2f0" opacity="0.8" filter="url(#blur1)"/>
<ellipse cx="366.9" cy="421.3" rx="3.3" ry="2.25" fill="#f0e6a0" opacity="0.4" filter="url(#blur1)"/>
<rect x="379.95" y="416.8" width="10.5" height="9" rx="2" fill="#ece2f0" opacity="0.78" filter="url(#blur1)"/>
<ellipse cx="385.2" cy="421.3" rx="3.15" ry="2.25" fill="#f0e6a0" opacity="0.3" filter="url(#blur1)"/>
<rect x="396.35" y="415.5" width="11.5" height="11" rx="2" fill="#ece2f0" opacity="0.98" filter="url(#blur1)"/>
<ellipse cx="402.1" cy="421" rx="3.4499999999999997" ry="2.75" fill="#f0e6a0" opacity="0.8" filter="url(#blur1)"/>
<rect x="432.7" y="418.05" width="10" height="7.5" rx="2" fill="#ece2f0" opacity="0.35" filter="url(#blur1)"/>
<rect x="452.7" y="418.5" width="8" height="6" rx="2" fill="#ece2f0" opacity="0.15" filter="url(#blur1)"/>
<rect x="466.3" y="414.15" width="10" height="8.5" rx="2" fill="#ece2f0" opacity="0.7" filter="url(#blur1)"/>
<ellipse cx="471.3" cy="418.4" rx="3.0" ry="2.125" fill="#f0e6a0" opacity="0.15" filter="url(#blur1)"/>
</g>
<text x="378.88" y="329.86" font-size="8.01" text-anchor="start" font-weight="normal" fill="#222" stroke="#222" stroke-width="0.3">WT</text>
<line x1="362.5" y1="335.8" x2="404.8" y2="335.8" stroke="#222" stroke-width="1.2"/>
<text x="432.8" y="330.02" font-size="8.46" text-anchor="start" font-weight="normal" fill="#222" stroke="#222" stroke-width="0.3">GCSFR KO</text>
<line x1="433.1" y1="336.1" x2="475.8" y2="336.1" stroke="#222" stroke-width="1.2"/>
<text x="336.95" y="347.4" font-size="8.34" text-anchor="start" font-weight="normal" fill="#222" stroke="#222" stroke-width="0.3">Days</text>
<text x="365.0" y="347.63" font-size="8.2" text-anchor="start" font-weight="normal" fill="#222" stroke="#222" stroke-width="0.3">0</text>
<text x="381.42" y="347.67" font-size="8.2" text-anchor="start" font-weight="normal" fill="#222" stroke="#222" stroke-width="0.3">2</text>
<text x="398.17" y="347.63" font-size="8.2" text-anchor="start" font-weight="normal" fill="#222" stroke="#222" stroke-width="0.3">4</text>
<text x="433.1" y="347.63" font-size="8.2" text-anchor="start" font-weight="normal" fill="#222" stroke="#222" stroke-width="0.3">0</text>
<text x="450.02" y="347.67" font-size="8.2" text-anchor="start" font-weight="normal" fill="#222" stroke="#222" stroke-width="0.3">2</text>
<text x="463.97" y="347.63" font-size="8.2" text-anchor="start" font-weight="normal" fill="#222" stroke="#222" stroke-width="0.3">4</text>
<text x="475.98" y="347.4" font-size="8.48" text-anchor="start" font-weight="normal" fill="#222" stroke="#222" stroke-width="0.3">clo-lip</text>
<text x="332.29" y="369.46" font-size="8.27" text-anchor="start" font-weight="normal" fill="#222" stroke="#222" stroke-width="0.3">kDa</text>
<text x="332.43" y="380.53" font-size="8.2" text-anchor="start" font-weight="normal" fill="#222" stroke="#222" stroke-width="0.3">160</text>
<line x1="347.7" y1="377.4" x2="354.2" y2="377.4" stroke="#222" stroke-width="1.2"/>
<text x="333.01" y="417.53" font-size="8.2" text-anchor="start" font-weight="normal" fill="#222" stroke="#222" stroke-width="0.3">110</text>
<line x1="347.7" y1="414.9" x2="354.2" y2="414.9" stroke="#222" stroke-width="1.2"/>
<text x="336.98" y="442.63" font-size="8.2" text-anchor="start" font-weight="normal" fill="#222" stroke="#222" stroke-width="0.3">80</text>
<line x1="347.7" y1="439.7" x2="354.2" y2="439.7" stroke="#222" stroke-width="1.2"/>
<text x="336.98" y="479.23" font-size="8.2" text-anchor="start" font-weight="normal" fill="#222" stroke="#222" stroke-width="0.3">60</text>
<line x1="347.7" y1="477.2" x2="354.2" y2="477.2" stroke="#222" stroke-width="1.2"/>
<rect x="49.5" y="541" width="39.8" height="97.5" fill="none" stroke="#333" stroke-width="1"/>
<text x="41.14" y="639.46" font-size="8.0" text-anchor="start" font-weight="normal" fill="#222" stroke="#222" stroke-width="0.3">0</text>
<text x="41.26" y="625.7" font-size="8.0" text-anchor="start" font-weight="normal" fill="#222" stroke="#222" stroke-width="0.3">2</text>
<text x="41.1" y="611.86" font-size="8.0" text-anchor="start" font-weight="normal" fill="#222" stroke="#222" stroke-width="0.3">4</text>
<text x="41.18" y="598.06" font-size="8.0" text-anchor="start" font-weight="normal" fill="#222" stroke="#222" stroke-width="0.3">6</text>
<text x="41.18" y="584.26" font-size="8.0" text-anchor="start" font-weight="normal" fill="#222" stroke="#222" stroke-width="0.3">8</text>
<text x="36.7" y="570.46" font-size="8.0" text-anchor="start" font-weight="normal" fill="#222" stroke="#222" stroke-width="0.3">10</text>
<text x="36.82" y="556.7" font-size="8.0" text-anchor="start" font-weight="normal" fill="#222" stroke="#222" stroke-width="0.3">12</text>
<rect x="58.4" y="570.2" width="11.800000000000004" height="68.29999999999995" fill="#fff" stroke="#333" stroke-width="1"/>
<line x1="64.3" y1="549" x2="64.3" y2="591.3" stroke="#444" stroke-width="0.9"/>
<line x1="63.0" y1="549" x2="65.6" y2="549" stroke="#444" stroke-width="0.9"/>
<line x1="63.0" y1="591.3" x2="65.6" y2="591.3" stroke="#444" stroke-width="0.9"/>
<rect x="70.2" y="632" width="10.700000000000003" height="6.5" fill="#e0141c" stroke="#900" stroke-width="0.8"/>
<line x1="75.55000000000001" y1="625.3" x2="75.55000000000001" y2="632" stroke="#444" stroke-width="0.9"/>
<line x1="74.25000000000001" y1="625.3" x2="76.85000000000001" y2="625.3" stroke="#444" stroke-width="0.9"/>
<circle cx="75.05" cy="614.2" r="1.0" fill="#111"/>
<circle cx="78.35" cy="614.2" r="1.0" fill="#111"/>
<text x="32.05" y="609.93" font-size="10.28" text-anchor="start" font-weight="normal" fill="#222" stroke="#222" stroke-width="0.3" transform="rotate(-90 32.05 609.93)">OS/BS (%)</text>
<rect x="117.7" y="541.1" width="37.7" height="98.89999999999998" fill="none" stroke="#333" stroke-width="1"/>
<text x="111.34" y="643.26" font-size="8.0" text-anchor="start" font-weight="normal" fill="#222" stroke="#222" stroke-width="0.3">0</text>
<text x="111.3" y="623.34" font-size="8.0" text-anchor="start" font-weight="normal" fill="#222" stroke="#222" stroke-width="0.3">4</text>
<text x="111.38" y="603.42" font-size="8.0" text-anchor="start" font-weight="normal" fill="#222" stroke="#222" stroke-width="0.3">8</text>
<text x="107.02" y="583.54" font-size="8.0" text-anchor="start" font-weight="normal" fill="#222" stroke="#222" stroke-width="0.3">12</text>
<text x="106.94" y="563.58" font-size="8.0" text-anchor="start" font-weight="normal" fill="#222" stroke="#222" stroke-width="0.3">16</text>
<rect x="126.2" y="572.2" width="10.999999999999986" height="67.79999999999995" fill="#fff" stroke="#333" stroke-width="1"/>
<line x1="131.7" y1="556.4" x2="131.7" y2="588.7" stroke="#444" stroke-width="0.9"/>
<line x1="130.39999999999998" y1="556.4" x2="133.0" y2="556.4" stroke="#444" stroke-width="0.9"/>
<line x1="130.39999999999998" y1="588.7" x2="133.0" y2="588.7" stroke="#444" stroke-width="0.9"/>
<rect x="137.2" y="634.6" width="10.5" height="5.399999999999977" fill="#e0141c" stroke="#900" stroke-width="0.8"/>
<line x1="142.45" y1="629.5" x2="142.45" y2="634.6" stroke="#444" stroke-width="0.9"/>
<line x1="141.14999999999998" y1="629.5" x2="143.75" y2="629.5" stroke="#444" stroke-width="0.9"/>
<circle cx="141.00" cy="617.6" r="1.0" fill="#111"/>
<text x="104.71" y="615.03" font-size="10.51" text-anchor="start" font-weight="normal" fill="#222" stroke="#222" stroke-width="0.3" transform="rotate(-90 104.71 615.03)">ObS/BS (%)</text>
<rect x="183.3" y="541.5" width="36.099999999999994" height="99.0" fill="none" stroke="#333" stroke-width="1"/>
<text x="176.24" y="643.76" font-size="8.0" text-anchor="start" font-weight="normal" fill="#222" stroke="#222" stroke-width="0.3">0</text>
<text x="176.36" y="627.4" font-size="8.0" text-anchor="start" font-weight="normal" fill="#222" stroke="#222" stroke-width="0.3">2</text>
<text x="176.2" y="610.96" font-size="8.0" text-anchor="start" font-weight="normal" fill="#222" stroke="#222" stroke-width="0.3">4</text>
<text x="176.28" y="594.56" font-size="8.0" text-anchor="start" font-weight="normal" fill="#222" stroke="#222" stroke-width="0.3">6</text>
<text x="176.28" y="578.16" font-size="8.0" text-anchor="start" font-weight="normal" fill="#222" stroke="#222" stroke-width="0.3">8</text>
<text x="171.8" y="561.76" font-size="8.0" text-anchor="start" font-weight="normal" fill="#222" stroke="#222" stroke-width="0.3">10</text>
<rect x="191.1" y="574.6" width="10.5" height="65.89999999999998" fill="#fff" stroke="#333" stroke-width="1"/>
<line x1="196.35" y1="563.2" x2="196.35" y2="590.7" stroke="#444" stroke-width="0.9"/>
<line x1="195.04999999999998" y1="563.2" x2="197.65" y2="563.2" stroke="#444" stroke-width="0.9"/>
<line x1="195.04999999999998" y1="590.7" x2="197.65" y2="590.7" stroke="#444" stroke-width="0.9"/>
<rect x="201.6" y="636.6" width="10.200000000000017" height="3.8999999999999773" fill="#e0141c" stroke="#900" stroke-width="0.8"/>
<line x1="206.7" y1="633.2" x2="206.7" y2="636.6" stroke="#444" stroke-width="0.9"/>
<line x1="205.39999999999998" y1="633.2" x2="208.0" y2="633.2" stroke="#444" stroke-width="0.9"/>
<circle cx="206.55" cy="620.6" r="1.0" fill="#111"/>
<circle cx="209.85" cy="620.6" r="1.0" fill="#111"/>
<text x="170.99" y="617.62" font-size="10.59" text-anchor="start" font-weight="normal" fill="#222" stroke="#222" stroke-width="0.3" transform="rotate(-90 170.99 617.62)">NOb / BPm</text>
<text x="116.26" y="658.72" font-size="9.47" text-anchor="start" font-weight="normal" fill="#222" stroke="#222" stroke-width="0.3">GCSFR KO</text>
<rect x="108.5" y="667" width="50" height="30.3" fill="none" stroke="#aaa" stroke-width="1"/>
<rect x="114.2" y="672.3" width="8.6" height="8" fill="#e0141c" stroke="#800" stroke-width="1"/>
<rect x="114.2" y="684.3" width="8.6" height="8" fill="#fff" stroke="#222" stroke-width="1"/>
<text x="125.99" y="679.6" font-size="8.43" text-anchor="start" font-weight="bold" fill="#d0141e" stroke="#d0141e" stroke-width="0.3">Clo-lip</text>
<text x="127.79" y="691.6" font-size="8.33" text-anchor="start" font-weight="bold" fill="#111" stroke="#111" stroke-width="0.3">PBS-lip</text>
<text x="331.5" y="520.36" font-size="11.24" text-anchor="start" font-weight="bold" fill="#111" stroke="#111" stroke-width="0.3">F4/80</text>
<text x="435.71" y="519.88" font-size="10.44" text-anchor="start" font-weight="bold" fill="#111" stroke="#111" stroke-width="0.3">Osteocalcin</text>
<text x="252.63" y="558.5" font-size="10.54" text-anchor="start" font-weight="bold" fill="#111" stroke="#111" stroke-width="0.3">PBS-lip</text>
<text x="257.71" y="692.5" font-size="10.41" text-anchor="start" font-weight="bold" fill="#d0141e" stroke="#d0141e" stroke-width="0.3">Clo-lip</text>
<clipPath id="cg1"><rect x="292.2" y="522.5" width="106.60000000000002" height="85.10000000000002"/></clipPath>
<rect x="292.2" y="522.5" width="106.60000000000002" height="85.10000000000002" fill="#edeaee"/>
<g clip-path="url(#cg1)"><g filter="url(#blur06)">
<g opacity="0.5"><circle cx="325.6" cy="533.6" r="0.66" fill="#b8aecb"/><circle cx="354.1" cy="601.9" r="0.49" fill="#b8aecb"/><circle cx="337.7" cy="526.3" r="0.44" fill="#c4bccf"/><circle cx="296.5" cy="570.9" r="0.78" fill="#aea4c4"/><circle cx="359.0" cy="605.3" r="0.63" fill="#c4bccf"/><circle cx="351.2" cy="532.0" r="0.57" fill="#aea4c4"/><circle cx="303.0" cy="547.8" r="0.73" fill="#b8aecb"/><circle cx="301.3" cy="571.4" r="0.48" fill="#b8aecb"/><circle cx="350.3" cy="525.7" r="0.42" fill="#b8aecb"/><circle cx="344.6" cy="567.9" r="0.71" fill="#c4bccf"/><circle cx="354.4" cy="560.8" r="0.52" fill="#b8aecb"/><circle cx="366.9" cy="542.0" r="0.63" fill="#aea4c4"/><circle cx="344.5" cy="550.9" r="0.58" fill="#aea4c4"/><circle cx="336.0" cy="588.1" r="0.46" fill="#c4bccf"/><circle cx="336.4" cy="606.6" r="0.43" fill="#aea4c4"/><circle cx="353.0" cy="598.8" r="0.53" fill="#aea4c4"/><circle cx="328.5" cy="564.7" r="0.72" fill="#b8aecb"/><circle cx="342.2" cy="579.8" r="0.42" fill="#aea4c4"/><circle cx="324.1" cy="572.0" r="0.67" fill="#c4bccf"/><circle cx="321.3" cy="554.7" r="0.67" fill="#b8aecb"/><circle cx="393.5" cy="552.0" r="0.64" fill="#c4bccf"/><circle cx="304.2" cy="542.3" r="0.56" fill="#c4bccf"/><circle cx="298.9" cy="560.4" r="0.62" fill="#b8aecb"/><circle cx="380.1" cy="597.8" r="0.51" fill="#c4bccf"/><circle cx="331.8" cy="540.8" r="0.43" fill="#b8aecb"/><circle cx="315.5" cy="541.0" r="0.59" fill="#aea4c4"/><circle cx="310.1" cy="545.4" r="0.46" fill="#aea4c4"/><circle cx="330.6" cy="571.0" r="0.78" fill="#aea4c4"/><circle cx="362.0" cy="586.6" r="0.58" fill="#aea4c4"/><circle cx="377.8" cy="555.3" r="0.56" fill="#b8aecb"/><circle cx="343.0" cy="556.0" r="0.48" fill="#b8aecb"/><circle cx="338.5" cy="529.9" r="0.64" fill="#b8aecb"/><circle cx="301.2" cy="552.7" r="0.41" fill="#b8aecb"/><circle cx="357.5" cy="533.4" r="0.50" fill="#c4bccf"/><circle cx="356.3" cy="562.7" r="0.45" fill="#c4bccf"/><circle cx="399.2" cy="561.9" r="0.59" fill="#b8aecb"/><circle cx="305.9" cy="587.5" r="0.70" fill="#c4bccf"/><circle cx="381.2" cy="534.5" r="0.41" fill="#aea4c4"/><circle cx="329.8" cy="582.1" r="0.77" fill="#aea4c4"/><circle cx="322.8" cy="577.9" r="0.44" fill="#c4bccf"/><circle cx="347.0" cy="601.7" r="0.54" fill="#b8aecb"/><circle cx="348.6" cy="590.1" r="0.53" fill="#b8aecb"/><circle cx="357.5" cy="591.0" r="0.70" fill="#b8aecb"/><circle cx="378.7" cy="593.6" r="0.70" fill="#b8aecb"/><circle cx="312.0" cy="564.4" r="0.69" fill="#b8aecb"/><circle cx="376.9" cy="562.5" r="0.48" fill="#aea4c4"/><circle cx="395.2" cy="560.3" r="0.77" fill="#c4bccf"/><circle cx="395.1" cy="552.8" r="0.49" fill="#b8aecb"/><circle cx="341.7" cy="550.4" r="0.59" fill="#aea4c4"/><circle cx="382.4" cy="563.2" r="0.66" fill="#aea4c4"/><circle cx="299.3" cy="579.5" r="0.76" fill="#aea4c4"/><circle cx="372.5" cy="563.0" r="0.47" fill="#aea4c4"/><circle cx="326.6" cy="592.1" r="0.79" fill="#c4bccf"/><circle cx="340.9" cy="586.9" r="0.43" fill="#b8aecb"/><circle cx="308.7" cy="531.4" r="0.46" fill="#c4bccf"/><circle cx="378.7" cy="533.2" r="0.73" fill="#c4bccf"/><circle cx="362.3" cy="551.5" r="0.62" fill="#b8aecb"/><circle cx="369.9" cy="529.2" r="0.70" fill="#b8aecb"/><circle cx="337.7" cy="598.5" r="0.73" fill="#b8aecb"/><circle cx="345.1" cy="588.7" r="0.53" fill="#aea4c4"/><circle cx="336.1" cy="531.8" r="0.76" fill="#c4bccf"/><circle cx="388.7" cy="579.6" r="0.73" fill="#aea4c4"/><circle cx="336.3" cy="602.6" r="0.60" fill="#aea4c4"/><circle cx="306.7" cy="565.9" r="0.75" fill="#b8aecb"/><circle cx="356.9" cy="589.8" r="0.46" fill="#b8aecb"/><circle cx="342.1" cy="585.3" r="0.62" fill="#c4bccf"/><circle cx="365.1" cy="567.8" r="0.59" fill="#b8aecb"/><circle cx="300.8" cy="560.7" r="0.41" fill="#b8aecb"/><circle cx="338.8" cy="575.1" r="0.60" fill="#aea4c4"/><circle cx="311.9" cy="544.9" r="0.60" fill="#c4bccf"/><circle cx="345.9" cy="542.3" r="0.61" fill="#c4bccf"/><circle cx="312.3" cy="560.3" r="0.57" fill="#c4bccf"/><circle cx="338.6" cy="526.5" r="0.50" fill="#b8aecb"/><circle cx="313.4" cy="547.3" r="0.45" fill="#b8aecb"/><circle cx="393.3" cy="577.9" r="0.55" fill="#c4bccf"/><circle cx="333.8" cy="563.9" r="0.80" fill="#b8aecb"/><circle cx="307.8" cy="558.8" r="0.61" fill="#c4bccf"/><circle cx="336.3" cy="552.1" r="0.44" fill="#c4bccf"/><circle cx="292.1" cy="569.9" r="0.58" fill="#b8aecb"/><circle cx="332.3" cy="566.6" r="0.52" fill="#b8aecb"/><circle cx="315.1" cy="598.9" r="0.43" fill="#c4bccf"/><circle cx="319.7" cy="531.7" r="0.57" fill="#aea4c4"/><circle cx="380.1" cy="543.3" r="0.46" fill="#aea4c4"/><circle cx="352.8" cy="583.0" r="0.44" fill="#b8aecb"/><circle cx="378.0" cy="536.5" r="0.76" fill="#c4bccf"/><circle cx="393.2" cy="577.1" r="0.72" fill="#b8aecb"/><circle cx="356.9" cy="540.0" r="0.51" fill="#b8aecb"/><circle cx="339.9" cy="550.5" r="0.62" fill="#c4bccf"/><circle cx="358.4" cy="523.9" r="0.68" fill="#b8aecb"/><circle cx="359.2" cy="567.8" r="0.48" fill="#c4bccf"/></g>
<ellipse cx="322" cy="540" rx="7" ry="5" fill="#d4cce4" opacity="0.9" transform="rotate(0 322 540)" filter="url(#blur2)"/>
<path d="M296 578 Q300 560 308 546 Q314 536 318 531" fill="none" stroke="#dcbc9c" stroke-width="1.5" stroke-linecap="round" stroke-linejoin="round" opacity="0.6"/>
<g opacity="0.7"><circle cx="308.0" cy="548.0" r="0.94" fill="#6a4040"/><circle cx="306.6" cy="549.0" r="1.19" fill="#6a4040"/></g>
<g opacity="0.6"><circle cx="299.2" cy="562.8" r="1.06" fill="#7a5050"/><circle cx="300.5" cy="563.1" r="1.16" fill="#7a5050"/></g>
<g opacity="0.6"><circle cx="293.5" cy="592.0" r="1.08" fill="#6a4040"/><circle cx="293.7" cy="590.5" r="0.82" fill="#6a4040"/></g>
<path d="M304 552 Q310 540 318 531" fill="none" stroke="#a8704e" stroke-width="0.7" stroke-linecap="round" stroke-linejoin="round" opacity="0.45"/>
<path d="M297 572 L299 566" fill="none" stroke="#7a4a40" stroke-width="1.2" stroke-linecap="round" stroke-linejoin="round" opacity="0.7"/>
<path d="M318 531 Q325 532 333 537 Q350 540 372 540 Q380 542 385 546" fill="none" stroke="#d6b08a" stroke-width="2.2" stroke-linecap="round" stroke-linejoin="round" opacity="0.9"/>
<path d="M326 534 Q340 539 365 539.5 Q372 540 378 543" fill="none" stroke="#8a3a48" stroke-width="1.5" stroke-linecap="round" stroke-linejoin="round" opacity="0.85"/>
<path d="M345 530 Q370 530 392 528" fill="none" stroke="#b8a8c8" stroke-width="1.0" stroke-linecap="round" stroke-linejoin="round" opacity="0.8"/>
<path d="M294 597 Q300 595 306 595 Q320 597 331 596 Q337 594 342 591" fill="none" stroke="#dcb4b8" stroke-width="3.2" stroke-linecap="round" stroke-linejoin="round" opacity="0.8"/>
<path d="M295 597 Q300 595 306 595 Q320 597 331 596 Q337 594 342 591" fill="none" stroke="#9a3a52" stroke-width="1.5" stroke-linecap="round" stroke-linejoin="round" opacity="0.85"/>
<path d="M300 603 Q320 604 345 602" fill="none" stroke="#ead0d4" stroke-width="2.0" stroke-linecap="round" stroke-linejoin="round" opacity="0.6"/>
<ellipse cx="384" cy="540" rx="15" ry="10" fill="#d8c8dc" opacity="0.8" transform="rotate(-35 384 540)" filter="url(#blur2)"/>
<g opacity="0.75"><circle cx="392.5" cy="532.3" r="0.53" fill="#5c5088"/><circle cx="395.3" cy="536.8" r="0.64" fill="#6e3a5a"/><circle cx="383.1" cy="528.5" r="0.59" fill="#6b5f98"/><circle cx="379.7" cy="536.6" r="0.98" fill="#675a94"/><circle cx="373.8" cy="534.5" r="0.94" fill="#6e3a5a"/><circle cx="380.8" cy="541.5" r="0.75" fill="#6e3a5a"/><circle cx="381.2" cy="549.3" r="0.55" fill="#90506c"/><circle cx="376.3" cy="547.6" r="0.70" fill="#6b5f98"/><circle cx="375.8" cy="538.5" r="0.79" fill="#675a94"/><circle cx="388.5" cy="527.8" r="0.95" fill="#54487e"/><circle cx="379.1" cy="538.7" r="0.99" fill="#74384f"/><circle cx="380.1" cy="545.8" r="0.57" fill="#675a94"/><circle cx="390.1" cy="542.1" r="0.91" fill="#74384f"/><circle cx="397.3" cy="537.6" r="0.78" fill="#84405e"/><circle cx="393.1" cy="536.0" r="0.95" fill="#6e3a5a"/><circle cx="393.1" cy="546.0" r="0.69" fill="#8a80b0"/><circle cx="387.0" cy="541.3" r="0.81" fill="#6e3a5a"/><circle cx="377.6" cy="531.2" r="0.90" fill="#675a94"/><circle cx="387.7" cy="544.0" r="0.74" fill="#90506c"/><circle cx="389.3" cy="529.3" r="0.88" fill="#6e3a5a"/><circle cx="382.4" cy="538.0" r="0.74" fill="#6b5f98"/><circle cx="392.1" cy="537.6" r="0.82" fill="#90506c"/><circle cx="384.4" cy="535.3" r="0.83" fill="#6b5f98"/><circle cx="382.4" cy="531.3" r="0.74" fill="#8a80b0"/><circle cx="380.4" cy="547.0" r="0.85" fill="#8a80b0"/><circle cx="379.0" cy="543.8" r="0.73" fill="#8a80b0"/><circle cx="382.9" cy="535.7" r="0.54" fill="#8a80b0"/><circle cx="371.5" cy="547.4" r="0.91" fill="#8a80b0"/><circle cx="387.2" cy="531.5" r="0.68" fill="#54487e"/><circle cx="392.0" cy="534.7" r="0.94" fill="#7a6ea6"/><circle cx="382.3" cy="551.8" r="0.74" fill="#84405e"/><circle cx="387.3" cy="535.2" r="0.86" fill="#5c5088"/><circle cx="377.9" cy="539.3" r="0.92" fill="#84405e"/><circle cx="377.6" cy="540.0" r="0.70" fill="#6e3a5a"/><circle cx="394.3" cy="543.7" r="0.64" fill="#7a6ea6"/><circle cx="371.9" cy="545.4" r="0.93" fill="#90506c"/><circle cx="379.7" cy="541.1" r="0.64" fill="#84405e"/><circle cx="373.0" cy="535.6" r="0.83" fill="#74384f"/><circle cx="374.9" cy="540.0" r="0.76" fill="#6e3a5a"/><circle cx="394.3" cy="540.5" r="0.71" fill="#84405e"/><circle cx="393.4" cy="537.1" r="0.96" fill="#675a94"/><circle cx="387.9" cy="543.2" r="0.52" fill="#5c5088"/><circle cx="385.9" cy="545.4" r="0.82" fill="#6b5f98"/><circle cx="388.8" cy="547.7" r="0.78" fill="#74384f"/><circle cx="381.4" cy="537.6" r="0.65" fill="#6b5f98"/><circle cx="378.4" cy="536.8" r="0.74" fill="#5c5088"/><circle cx="376.4" cy="549.0" r="0.54" fill="#675a94"/><circle cx="394.0" cy="533.1" r="0.61" fill="#7a6ea6"/><circle cx="395.7" cy="530.7" r="0.57" fill="#6e3a5a"/><circle cx="373.6" cy="538.4" r="0.78" fill="#7a6ea6"/><circle cx="374.5" cy="540.0" r="0.78" fill="#84405e"/><circle cx="389.1" cy="534.2" r="0.71" fill="#675a94"/><circle cx="374.0" cy="540.7" r="0.88" fill="#8a80b0"/><circle cx="374.8" cy="546.4" r="0.81" fill="#6e3a5a"/><circle cx="383.0" cy="544.6" r="0.72" fill="#6b5f98"/><circle cx="394.1" cy="543.6" r="0.74" fill="#54487e"/><circle cx="378.4" cy="532.4" r="0.97" fill="#675a94"/><circle cx="372.9" cy="537.2" r="0.58" fill="#675a94"/><circle cx="394.6" cy="538.1" r="0.92" fill="#8a80b0"/><circle cx="377.2" cy="552.1" r="0.50" fill="#74384f"/><circle cx="382.6" cy="552.2" r="0.82" fill="#6b5f98"/><circle cx="397.0" cy="534.5" r="0.76" fill="#5c5088"/><circle cx="384.1" cy="529.6" r="0.54" fill="#675a94"/><circle cx="381.7" cy="549.3" r="0.50" fill="#675a94"/><circle cx="378.6" cy="542.6" r="0.98" fill="#6e3a5a"/><circle cx="380.1" cy="535.6" r="0.62" fill="#5c5088"/><circle cx="386.7" cy="533.0" r="0.51" fill="#8a80b0"/><circle cx="395.4" cy="536.2" r="0.54" fill="#6e3a5a"/><circle cx="393.4" cy="544.9" r="0.61" fill="#84405e"/><circle cx="391.6" cy="540.6" r="0.68" fill="#5c5088"/><circle cx="380.2" cy="550.5" r="0.87" fill="#675a94"/><circle cx="373.2" cy="547.2" r="0.60" fill="#6e3a5a"/><circle cx="373.9" cy="539.5" r="0.88" fill="#6b5f98"/><circle cx="375.9" cy="548.9" r="0.81" fill="#6e3a5a"/><circle cx="388.7" cy="547.7" r="0.53" fill="#54487e"/><circle cx="373.9" cy="544.1" r="0.61" fill="#54487e"/><circle cx="371.8" cy="545.5" r="0.95" fill="#7a6ea6"/><circle cx="392.6" cy="529.6" r="0.59" fill="#675a94"/><circle cx="386.6" cy="535.0" r="0.69" fill="#7a6ea6"/><circle cx="377.7" cy="533.9" r="0.54" fill="#90506c"/><circle cx="386.0" cy="550.8" r="0.56" fill="#6e3a5a"/><circle cx="384.4" cy="546.9" r="0.65" fill="#5c5088"/><circle cx="376.3" cy="550.7" r="0.60" fill="#675a94"/><circle cx="385.6" cy="549.5" r="0.52" fill="#5c5088"/><circle cx="379.3" cy="546.5" r="0.70" fill="#5c5088"/><circle cx="391.4" cy="528.5" r="0.87" fill="#54487e"/><circle cx="377.2" cy="538.6" r="0.98" fill="#54487e"/><circle cx="394.0" cy="544.5" r="0.65" fill="#54487e"/><circle cx="396.0" cy="535.4" r="0.97" fill="#84405e"/><circle cx="388.9" cy="535.7" r="0.89" fill="#6b5f98"/><circle cx="374.9" cy="546.2" r="0.50" fill="#6b5f98"/><circle cx="395.4" cy="539.5" r="0.80" fill="#7a6ea6"/><circle cx="392.5" cy="533.2" r="0.89" fill="#54487e"/><circle cx="387.1" cy="531.1" r="0.53" fill="#84405e"/><circle cx="384.1" cy="541.1" r="0.58" fill="#5c5088"/><circle cx="373.0" cy="536.4" r="0.55" fill="#8a80b0"/><circle cx="371.3" cy="538.9" r="0.73" fill="#6e3a5a"/><circle cx="394.5" cy="542.1" r="0.83" fill="#90506c"/><circle cx="388.4" cy="531.5" r="0.64" fill="#6b5f98"/><circle cx="383.8" cy="546.5" r="0.60" fill="#6e3a5a"/><circle cx="372.9" cy="540.5" r="0.64" fill="#54487e"/><circle cx="374.7" cy="539.6" r="0.76" fill="#90506c"/><circle cx="373.8" cy="546.3" r="0.91" fill="#8a80b0"/><circle cx="374.2" cy="536.6" r="0.59" fill="#54487e"/><circle cx="380.3" cy="533.9" r="0.80" fill="#84405e"/><circle cx="375.4" cy="548.4" r="0.81" fill="#6e3a5a"/><circle cx="370.6" cy="544.9" r="0.52" fill="#6b5f98"/><circle cx="390.8" cy="532.9" r="0.69" fill="#54487e"/><circle cx="375.7" cy="537.8" r="0.90" fill="#675a94"/><circle cx="382.5" cy="538.6" r="0.90" fill="#675a94"/></g>
<g opacity="0.8"><circle cx="388.2" cy="531.4" r="0.93" fill="#6e3a5a"/><circle cx="395.7" cy="529.9" r="0.74" fill="#74384f"/><circle cx="391.8" cy="525.6" r="0.97" fill="#74384f"/><circle cx="391.8" cy="525.2" r="0.98" fill="#74384f"/><circle cx="395.0" cy="529.7" r="0.80" fill="#84405e"/><circle cx="392.1" cy="526.9" r="0.66" fill="#84405e"/><circle cx="391.7" cy="535.6" r="0.83" fill="#90506c"/><circle cx="388.0" cy="534.7" r="0.80" fill="#74384f"/><circle cx="396.3" cy="527.1" r="0.77" fill="#90506c"/><circle cx="393.3" cy="536.1" r="0.65" fill="#6e3a5a"/><circle cx="396.5" cy="534.5" r="1.00" fill="#74384f"/><circle cx="399.7" cy="530.8" r="0.63" fill="#6e3a5a"/><circle cx="387.2" cy="533.5" r="0.94" fill="#90506c"/><circle cx="395.0" cy="535.3" r="0.91" fill="#90506c"/><circle cx="397.6" cy="527.2" r="0.71" fill="#6e3a5a"/><circle cx="391.0" cy="526.8" r="1.09" fill="#90506c"/><circle cx="386.6" cy="531.7" r="0.98" fill="#84405e"/><circle cx="395.4" cy="528.9" r="0.79" fill="#6e3a5a"/><circle cx="393.7" cy="532.5" r="0.75" fill="#6e3a5a"/><circle cx="390.3" cy="528.0" r="0.79" fill="#74384f"/><circle cx="392.3" cy="530.3" r="0.61" fill="#6e3a5a"/><circle cx="392.5" cy="530.4" r="0.91" fill="#6e3a5a"/><circle cx="397.7" cy="534.7" r="0.80" fill="#84405e"/><circle cx="387.8" cy="530.2" r="0.65" fill="#6e3a5a"/><circle cx="393.1" cy="532.9" r="0.62" fill="#90506c"/><circle cx="387.2" cy="533.8" r="0.99" fill="#84405e"/><circle cx="386.8" cy="531.0" r="0.79" fill="#90506c"/><circle cx="394.6" cy="533.3" r="0.65" fill="#90506c"/><circle cx="399.7" cy="530.9" r="1.08" fill="#90506c"/><circle cx="395.6" cy="533.7" r="0.71" fill="#74384f"/><circle cx="394.5" cy="528.0" r="0.76" fill="#74384f"/><circle cx="398.7" cy="530.5" r="0.73" fill="#6e3a5a"/><circle cx="388.9" cy="528.2" r="0.85" fill="#74384f"/><circle cx="391.2" cy="527.4" r="0.80" fill="#74384f"/><circle cx="395.5" cy="535.7" r="0.68" fill="#74384f"/><circle cx="387.6" cy="531.4" r="0.92" fill="#74384f"/><circle cx="399.5" cy="530.4" r="0.86" fill="#84405e"/><circle cx="389.5" cy="531.4" r="1.03" fill="#74384f"/><circle cx="394.1" cy="529.3" r="0.98" fill="#6e3a5a"/><circle cx="389.2" cy="532.4" r="1.08" fill="#74384f"/></g>
<g opacity="0.7"><circle cx="381.7" cy="602.0" r="0.82" fill="#54487e"/><circle cx="379.6" cy="606.0" r="0.61" fill="#6b5f98"/><circle cx="376.8" cy="603.5" r="0.76" fill="#84405e"/><circle cx="365.2" cy="601.8" r="0.83" fill="#84405e"/><circle cx="363.3" cy="604.5" r="0.65" fill="#675a94"/><circle cx="370.6" cy="601.8" r="0.79" fill="#54487e"/><circle cx="365.2" cy="602.9" r="0.91" fill="#74384f"/><circle cx="367.8" cy="601.2" r="0.55" fill="#74384f"/><circle cx="382.9" cy="606.3" r="0.70" fill="#6b5f98"/><circle cx="376.3" cy="604.6" r="0.80" fill="#675a94"/><circle cx="379.6" cy="602.0" r="0.95" fill="#84405e"/><circle cx="366.5" cy="601.3" r="0.96" fill="#90506c"/><circle cx="362.3" cy="604.4" r="0.97" fill="#74384f"/><circle cx="371.9" cy="604.1" r="0.82" fill="#5c5088"/><circle cx="381.5" cy="601.4" r="0.65" fill="#6b5f98"/><circle cx="379.4" cy="603.8" r="0.77" fill="#5c5088"/><circle cx="382.3" cy="606.0" r="0.73" fill="#8a80b0"/><circle cx="368.3" cy="605.2" r="0.56" fill="#6b5f98"/><circle cx="379.1" cy="602.1" r="0.78" fill="#5c5088"/><circle cx="378.5" cy="607.3" r="0.99" fill="#6b5f98"/><circle cx="377.4" cy="607.7" r="0.61" fill="#675a94"/><circle cx="367.7" cy="606.0" r="0.97" fill="#7a6ea6"/><circle cx="366.6" cy="603.1" r="0.80" fill="#5c5088"/><circle cx="383.8" cy="605.0" r="0.85" fill="#675a94"/><circle cx="373.3" cy="606.7" r="0.85" fill="#84405e"/><circle cx="372.5" cy="605.8" r="0.79" fill="#6b5f98"/><circle cx="380.9" cy="603.1" r="0.79" fill="#54487e"/><circle cx="384.3" cy="602.8" r="0.57" fill="#84405e"/><circle cx="377.4" cy="600.3" r="0.53" fill="#84405e"/><circle cx="363.6" cy="604.7" r="0.68" fill="#675a94"/><circle cx="366.9" cy="600.9" r="0.52" fill="#90506c"/><circle cx="381.8" cy="605.1" r="0.64" fill="#90506c"/><circle cx="365.2" cy="606.3" r="0.82" fill="#6b5f98"/><circle cx="369.7" cy="603.4" r="0.51" fill="#6b5f98"/><circle cx="380.2" cy="607.3" r="0.88" fill="#54487e"/><circle cx="374.1" cy="606.8" r="0.81" fill="#84405e"/><circle cx="374.4" cy="600.8" r="0.73" fill="#84405e"/><circle cx="374.9" cy="601.7" r="0.93" fill="#90506c"/><circle cx="375.8" cy="602.3" r="0.72" fill="#675a94"/><circle cx="366.8" cy="606.1" r="0.99" fill="#84405e"/></g>
<g opacity="0.5"><circle cx="330.0" cy="554.8" r="0.68" fill="#7a6ea6"/><circle cx="342.3" cy="558.7" r="0.78" fill="#675a94"/><circle cx="328.7" cy="555.7" r="0.68" fill="#8a80b0"/><circle cx="338.3" cy="557.9" r="0.80" fill="#675a94"/><circle cx="338.7" cy="559.0" r="0.54" fill="#8a80b0"/><circle cx="337.9" cy="557.4" r="0.66" fill="#5c5088"/><circle cx="327.1" cy="556.1" r="0.76" fill="#675a94"/><circle cx="335.6" cy="561.6" r="0.45" fill="#675a94"/><circle cx="338.1" cy="560.0" r="0.66" fill="#5c5088"/><circle cx="334.6" cy="558.2" r="0.75" fill="#8a80b0"/><circle cx="336.2" cy="559.9" r="0.47" fill="#8a80b0"/><circle cx="336.8" cy="556.1" r="0.49" fill="#5c5088"/></g>
</g></g>
<clipPath id="cg2"><rect x="406.9" y="522.5" width="103.90000000000003" height="85.10000000000002"/></clipPath>
<rect x="406.9" y="522.5" width="103.90000000000003" height="85.10000000000002" fill="#edeaee"/>
<g clip-path="url(#cg2)"><g filter="url(#blur06)">
<g opacity="0.5"><circle cx="453.8" cy="599.7" r="0.50" fill="#b8aecb"/><circle cx="432.4" cy="587.9" r="0.73" fill="#aea4c4"/><circle cx="420.0" cy="534.0" r="0.50" fill="#c4bccf"/><circle cx="469.3" cy="551.4" r="0.49" fill="#b8aecb"/><circle cx="475.4" cy="537.6" r="0.46" fill="#b8aecb"/><circle cx="490.4" cy="586.0" r="0.57" fill="#b8aecb"/><circle cx="433.9" cy="599.7" r="0.59" fill="#b8aecb"/><circle cx="446.9" cy="591.2" r="0.68" fill="#aea4c4"/><circle cx="429.7" cy="596.8" r="0.68" fill="#aea4c4"/><circle cx="485.4" cy="557.9" r="0.49" fill="#aea4c4"/><circle cx="474.8" cy="599.0" r="0.66" fill="#aea4c4"/><circle cx="496.8" cy="581.2" r="0.66" fill="#c4bccf"/><circle cx="450.6" cy="543.4" r="0.68" fill="#c4bccf"/><circle cx="429.7" cy="556.0" r="0.69" fill="#b8aecb"/><circle cx="430.5" cy="558.1" r="0.58" fill="#aea4c4"/><circle cx="497.4" cy="566.6" r="0.66" fill="#b8aecb"/><circle cx="501.4" cy="549.5" r="0.40" fill="#c4bccf"/><circle cx="430.6" cy="539.6" r="0.69" fill="#b8aecb"/><circle cx="460.1" cy="529.1" r="0.63" fill="#aea4c4"/><circle cx="425.5" cy="562.8" r="0.41" fill="#c4bccf"/><circle cx="460.4" cy="556.9" r="0.78" fill="#b8aecb"/><circle cx="459.5" cy="603.9" r="0.69" fill="#aea4c4"/><circle cx="442.1" cy="525.1" r="0.51" fill="#c4bccf"/><circle cx="503.7" cy="576.6" r="0.67" fill="#aea4c4"/><circle cx="432.2" cy="540.2" r="0.70" fill="#aea4c4"/><circle cx="508.7" cy="561.6" r="0.47" fill="#b8aecb"/><circle cx="492.1" cy="577.1" r="0.59" fill="#aea4c4"/><circle cx="482.3" cy="593.3" r="0.46" fill="#aea4c4"/><circle cx="473.3" cy="593.7" r="0.73" fill="#c4bccf"/><circle cx="474.5" cy="590.2" r="0.59" fill="#b8aecb"/><circle cx="432.4" cy="553.9" r="0.50" fill="#c4bccf"/><circle cx="477.7" cy="563.3" r="0.72" fill="#c4bccf"/><circle cx="442.4" cy="578.9" r="0.53" fill="#c4bccf"/><circle cx="450.1" cy="577.4" r="0.66" fill="#c4bccf"/><circle cx="419.8" cy="547.3" r="0.55" fill="#b8aecb"/><circle cx="489.2" cy="532.6" r="0.73" fill="#aea4c4"/><circle cx="467.1" cy="579.2" r="0.48" fill="#b8aecb"/><circle cx="475.2" cy="542.5" r="0.44" fill="#b8aecb"/><circle cx="497.0" cy="536.7" r="0.58" fill="#b8aecb"/><circle cx="425.9" cy="556.2" r="0.61" fill="#aea4c4"/><circle cx="501.0" cy="574.8" r="0.71" fill="#aea4c4"/><circle cx="502.2" cy="569.4" r="0.65" fill="#c4bccf"/><circle cx="424.7" cy="582.4" r="0.61" fill="#aea4c4"/><circle cx="495.3" cy="580.4" r="0.45" fill="#b8aecb"/><circle cx="432.1" cy="541.1" r="0.46" fill="#c4bccf"/><circle cx="464.3" cy="563.6" r="0.76" fill="#aea4c4"/><circle cx="457.1" cy="564.8" r="0.62" fill="#aea4c4"/><circle cx="454.5" cy="570.6" r="0.67" fill="#c4bccf"/><circle cx="444.2" cy="557.7" r="0.78" fill="#b8aecb"/><circle cx="422.9" cy="552.4" r="0.66" fill="#b8aecb"/><circle cx="470.1" cy="581.4" r="0.77" fill="#c4bccf"/><circle cx="456.3" cy="588.1" r="0.46" fill="#b8aecb"/><circle cx="482.0" cy="576.3" r="0.54" fill="#aea4c4"/><circle cx="443.3" cy="562.7" r="0.61" fill="#b8aecb"/><circle cx="434.3" cy="550.8" r="0.50" fill="#b8aecb"/><circle cx="493.9" cy="546.4" r="0.73" fill="#c4bccf"/><circle cx="499.0" cy="551.0" r="0.48" fill="#c4bccf"/><circle cx="490.1" cy="549.8" r="0.53" fill="#c4bccf"/><circle cx="446.9" cy="569.9" r="0.56" fill="#aea4c4"/><circle cx="408.5" cy="547.0" r="0.40" fill="#b8aecb"/><circle cx="493.4" cy="562.8" r="0.71" fill="#b8aecb"/><circle cx="470.3" cy="575.5" r="0.65" fill="#aea4c4"/><circle cx="478.8" cy="598.9" r="0.43" fill="#b8aecb"/><circle cx="476.4" cy="561.2" r="0.71" fill="#b8aecb"/><circle cx="476.0" cy="598.2" r="0.57" fill="#b8aecb"/><circle cx="503.5" cy="579.0" r="0.55" fill="#b8aecb"/><circle cx="489.5" cy="570.6" r="0.50" fill="#c4bccf"/><circle cx="405.2" cy="571.0" r="0.63" fill="#b8aecb"/><circle cx="457.8" cy="567.0" r="0.73" fill="#c4bccf"/><circle cx="466.3" cy="602.7" r="0.58" fill="#b8aecb"/><circle cx="477.8" cy="573.4" r="0.80" fill="#aea4c4"/><circle cx="510.9" cy="562.8" r="0.56" fill="#b8aecb"/><circle cx="412.1" cy="562.5" r="0.76" fill="#aea4c4"/><circle cx="478.2" cy="531.0" r="0.79" fill="#b8aecb"/><circle cx="427.0" cy="530.9" r="0.59" fill="#c4bccf"/><circle cx="482.1" cy="541.8" r="0.69" fill="#b8aecb"/><circle cx="504.5" cy="552.9" r="0.70" fill="#aea4c4"/><circle cx="497.1" cy="585.7" r="0.43" fill="#aea4c4"/><circle cx="464.3" cy="564.8" r="0.67" fill="#c4bccf"/><circle cx="500.2" cy="581.8" r="0.65" fill="#c4bccf"/><circle cx="437.2" cy="585.6" r="0.47" fill="#c4bccf"/><circle cx="470.0" cy="548.5" r="0.78" fill="#aea4c4"/><circle cx="451.3" cy="580.9" r="0.46" fill="#b8aecb"/><circle cx="443.0" cy="578.0" r="0.65" fill="#c4bccf"/><circle cx="455.5" cy="590.0" r="0.58" fill="#c4bccf"/><circle cx="489.3" cy="571.0" r="0.52" fill="#b8aecb"/><circle cx="471.4" cy="578.6" r="0.72" fill="#aea4c4"/><circle cx="439.5" cy="574.5" r="0.79" fill="#b8aecb"/><circle cx="469.1" cy="547.8" r="0.57" fill="#b8aecb"/><circle cx="444.4" cy="581.6" r="0.64" fill="#b8aecb"/></g>
<path d="M432 534 Q460 530 490 527 Q502 525 510 523" fill="none" stroke="#d6b08a" stroke-width="1.6" stroke-linecap="round" stroke-linejoin="round" opacity="0.8"/>
<path d="M428 541 Q455 537 480 535 Q495 533 505 530" fill="none" stroke="#c89a80" stroke-width="1.3" stroke-linecap="round" stroke-linejoin="round" opacity="0.7"/>
<path d="M423 547 Q440 545 470 545" fill="none" stroke="#d8b8a0" stroke-width="1.2" stroke-linecap="round" stroke-linejoin="round" opacity="0.6"/>
<path d="M425 570 Q450 560 477 548" fill="none" stroke="#9a8cae" stroke-width="1.1" stroke-linecap="round" stroke-linejoin="round" opacity="0.75"/>
<path d="M426 546 Q450 538 475 535 Q485 534 490 534" fill="none" stroke="#c0a090" stroke-width="1.2" stroke-linecap="round" stroke-linejoin="round" opacity="0.7"/>
<path d="M482 532 L500 531" fill="none" stroke="#4a3a90" stroke-width="1.0" stroke-linecap="round" stroke-linejoin="round" opacity="0.8"/>
<path d="M410 600 Q440 598 480 597 Q495 596 505 598" fill="none" stroke="#d6b08a" stroke-width="1.6" stroke-linecap="round" stroke-linejoin="round" opacity="0.8"/>
<path d="M409 606 Q445 603 490 603" fill="none" stroke="#c08868" stroke-width="1.6" stroke-linecap="round" stroke-linejoin="round" opacity="0.8"/>
<path d="M428 568 Q434 560 440 562 Q445 572 440 578 Q432 578 428 572 Z" fill="#d0a080" opacity="0.45" filter="url(#blur1)"/>
<path d="M476 573 Q485 568 495 571 Q500 578 490 580 Q480 580 476 576 Z" fill="#d8b090" opacity="0.45" filter="url(#blur1)"/>
<path d="M483 551 Q490 546 497 550 Q498 558 490 560 Q484 558 483 551 Z" fill="#cfc0d0" opacity="0.5" filter="url(#blur1)"/>
<ellipse cx="498" cy="543" rx="12" ry="8" fill="#d6cce2" opacity="0.8" transform="rotate(0 498 543)" filter="url(#blur2)"/>
<g opacity="0.75"><circle cx="505.4" cy="539.5" r="0.50" fill="#675a94"/><circle cx="492.4" cy="537.5" r="0.96" fill="#6b5f98"/><circle cx="492.9" cy="537.3" r="0.95" fill="#6e3a5a"/><circle cx="505.1" cy="543.8" r="0.89" fill="#90506c"/><circle cx="494.3" cy="536.4" r="0.78" fill="#84405e"/><circle cx="490.8" cy="547.0" r="0.97" fill="#8a80b0"/><circle cx="493.4" cy="535.9" r="0.70" fill="#8a80b0"/><circle cx="508.2" cy="544.4" r="0.50" fill="#84405e"/><circle cx="497.0" cy="536.4" r="0.90" fill="#7a6ea6"/><circle cx="491.6" cy="544.3" r="0.95" fill="#74384f"/><circle cx="493.7" cy="543.1" r="0.60" fill="#8a80b0"/><circle cx="490.6" cy="537.9" r="0.85" fill="#54487e"/><circle cx="499.9" cy="540.7" r="0.89" fill="#5c5088"/><circle cx="491.9" cy="549.8" r="0.75" fill="#7a6ea6"/><circle cx="494.9" cy="542.4" r="0.54" fill="#54487e"/><circle cx="500.3" cy="540.5" r="0.76" fill="#6b5f98"/><circle cx="506.9" cy="544.0" r="0.79" fill="#8a80b0"/><circle cx="492.3" cy="547.5" r="0.71" fill="#90506c"/><circle cx="504.4" cy="548.1" r="0.98" fill="#675a94"/><circle cx="506.2" cy="540.4" r="1.00" fill="#84405e"/><circle cx="499.4" cy="548.9" r="0.73" fill="#7a6ea6"/><circle cx="506.7" cy="545.2" r="0.96" fill="#7a6ea6"/><circle cx="492.2" cy="544.0" r="0.82" fill="#74384f"/><circle cx="495.4" cy="542.2" r="0.58" fill="#8a80b0"/><circle cx="494.4" cy="549.4" r="0.95" fill="#6b5f98"/><circle cx="492.2" cy="543.2" r="0.87" fill="#90506c"/><circle cx="502.2" cy="539.8" r="0.80" fill="#7a6ea6"/><circle cx="497.3" cy="540.9" r="0.70" fill="#54487e"/><circle cx="497.6" cy="537.7" r="0.62" fill="#5c5088"/><circle cx="497.2" cy="549.6" r="0.90" fill="#5c5088"/><circle cx="496.7" cy="536.6" r="0.96" fill="#6b5f98"/><circle cx="501.1" cy="542.2" r="0.67" fill="#8a80b0"/><circle cx="497.5" cy="545.1" r="0.57" fill="#8a80b0"/><circle cx="503.7" cy="537.9" r="0.73" fill="#5c5088"/><circle cx="496.5" cy="537.4" r="0.71" fill="#8a80b0"/><circle cx="489.7" cy="539.3" r="0.92" fill="#54487e"/><circle cx="505.3" cy="539.2" r="0.55" fill="#90506c"/><circle cx="507.5" cy="545.7" r="0.61" fill="#90506c"/><circle cx="496.4" cy="539.2" r="0.62" fill="#8a80b0"/><circle cx="488.3" cy="539.6" r="0.95" fill="#6b5f98"/><circle cx="489.5" cy="545.2" r="0.72" fill="#74384f"/><circle cx="494.2" cy="537.2" r="0.50" fill="#74384f"/><circle cx="492.9" cy="540.8" r="0.52" fill="#84405e"/><circle cx="491.2" cy="544.1" r="0.57" fill="#5c5088"/><circle cx="498.5" cy="538.7" r="0.59" fill="#6e3a5a"/><circle cx="500.6" cy="542.9" r="0.64" fill="#8a80b0"/><circle cx="489.3" cy="545.7" r="0.81" fill="#8a80b0"/><circle cx="500.0" cy="538.2" r="0.53" fill="#74384f"/><circle cx="495.8" cy="546.5" r="0.53" fill="#54487e"/><circle cx="494.0" cy="548.5" r="0.93" fill="#90506c"/><circle cx="488.2" cy="541.6" r="0.88" fill="#5c5088"/><circle cx="506.9" cy="539.3" r="0.59" fill="#54487e"/><circle cx="499.8" cy="548.7" r="0.68" fill="#90506c"/><circle cx="494.6" cy="538.9" r="0.92" fill="#54487e"/><circle cx="504.7" cy="548.9" r="0.79" fill="#6b5f98"/><circle cx="493.0" cy="536.7" r="0.87" fill="#90506c"/><circle cx="498.3" cy="543.5" r="0.77" fill="#6b5f98"/><circle cx="491.8" cy="536.4" r="0.81" fill="#5c5088"/><circle cx="488.5" cy="539.0" r="0.91" fill="#6b5f98"/><circle cx="503.7" cy="539.2" r="0.92" fill="#6e3a5a"/><circle cx="497.1" cy="538.8" r="0.72" fill="#54487e"/><circle cx="506.9" cy="546.5" r="0.52" fill="#7a6ea6"/><circle cx="497.2" cy="544.4" r="0.88" fill="#7a6ea6"/><circle cx="488.9" cy="541.5" r="0.57" fill="#6e3a5a"/><circle cx="491.5" cy="538.6" r="0.83" fill="#90506c"/><circle cx="503.9" cy="537.6" r="0.91" fill="#84405e"/><circle cx="502.7" cy="544.6" r="0.80" fill="#6b5f98"/><circle cx="495.5" cy="550.1" r="0.89" fill="#54487e"/><circle cx="495.6" cy="548.4" r="0.86" fill="#6e3a5a"/><circle cx="505.6" cy="548.6" r="0.53" fill="#74384f"/></g>
<g opacity="0.8"><circle cx="485.6" cy="534.7" r="0.64" fill="#8a80b0"/><circle cx="488.8" cy="532.8" r="0.77" fill="#7a6ea6"/><circle cx="494.4" cy="535.2" r="0.85" fill="#6b5f98"/><circle cx="483.6" cy="534.6" r="0.61" fill="#54487e"/><circle cx="494.2" cy="534.5" r="0.82" fill="#6b5f98"/><circle cx="494.2" cy="533.0" r="0.71" fill="#8a80b0"/><circle cx="485.0" cy="533.4" r="0.57" fill="#6b5f98"/><circle cx="493.7" cy="535.8" r="0.71" fill="#5c5088"/><circle cx="484.5" cy="534.4" r="0.87" fill="#8a80b0"/><circle cx="488.3" cy="533.6" r="0.62" fill="#7a6ea6"/><circle cx="496.2" cy="535.0" r="0.61" fill="#8a80b0"/><circle cx="494.0" cy="534.3" r="0.76" fill="#7a6ea6"/><circle cx="492.9" cy="533.5" r="0.86" fill="#5c5088"/><circle cx="494.0" cy="533.9" r="0.62" fill="#7a6ea6"/><circle cx="489.0" cy="532.8" r="0.72" fill="#675a94"/><circle cx="490.1" cy="535.7" r="0.56" fill="#7a6ea6"/><circle cx="488.8" cy="533.3" r="0.61" fill="#7a6ea6"/><circle cx="488.3" cy="535.1" r="0.56" fill="#6b5f98"/><circle cx="493.9" cy="533.4" r="0.76" fill="#675a94"/><circle cx="490.0" cy="533.8" r="0.79" fill="#6b5f98"/></g>
<g opacity="0.6"><circle cx="471.3" cy="605.9" r="0.74" fill="#5c5088"/><circle cx="465.0" cy="602.7" r="0.47" fill="#8a80b0"/><circle cx="477.0" cy="604.5" r="0.81" fill="#74384f"/><circle cx="456.1" cy="602.3" r="0.72" fill="#5c5088"/><circle cx="464.8" cy="597.0" r="0.61" fill="#74384f"/><circle cx="475.2" cy="601.0" r="0.88" fill="#6e3a5a"/><circle cx="449.0" cy="604.5" r="0.54" fill="#6e3a5a"/><circle cx="476.4" cy="599.8" r="0.63" fill="#90506c"/><circle cx="457.3" cy="599.5" r="0.58" fill="#74384f"/><circle cx="473.3" cy="599.8" r="0.56" fill="#90506c"/><circle cx="462.8" cy="599.0" r="0.67" fill="#5c5088"/><circle cx="466.1" cy="599.8" r="0.52" fill="#54487e"/><circle cx="459.4" cy="604.4" r="0.82" fill="#54487e"/><circle cx="452.3" cy="600.3" r="0.86" fill="#6b5f98"/><circle cx="493.8" cy="599.0" r="0.67" fill="#675a94"/><circle cx="472.3" cy="606.0" r="0.66" fill="#74384f"/><circle cx="483.6" cy="600.3" r="0.63" fill="#6b5f98"/><circle cx="475.7" cy="599.5" r="0.87" fill="#7a6ea6"/><circle cx="471.5" cy="597.0" r="0.59" fill="#84405e"/><circle cx="478.9" cy="605.3" r="0.48" fill="#8a80b0"/><circle cx="497.9" cy="600.9" r="0.62" fill="#6e3a5a"/><circle cx="493.9" cy="601.9" r="0.75" fill="#7a6ea6"/><circle cx="450.2" cy="599.2" r="0.89" fill="#675a94"/><circle cx="470.8" cy="597.1" r="0.85" fill="#54487e"/><circle cx="493.3" cy="600.2" r="0.48" fill="#675a94"/><circle cx="489.0" cy="598.1" r="0.85" fill="#84405e"/><circle cx="450.9" cy="602.3" r="0.70" fill="#54487e"/><circle cx="474.2" cy="602.3" r="0.76" fill="#84405e"/><circle cx="482.6" cy="601.5" r="0.86" fill="#84405e"/><circle cx="490.5" cy="601.9" r="0.73" fill="#8a80b0"/><circle cx="450.5" cy="603.7" r="0.68" fill="#74384f"/><circle cx="470.9" cy="597.4" r="0.50" fill="#6e3a5a"/><circle cx="485.6" cy="597.1" r="0.45" fill="#5c5088"/><circle cx="496.9" cy="600.9" r="0.63" fill="#84405e"/><circle cx="459.4" cy="603.2" r="0.58" fill="#5c5088"/><circle cx="442.0" cy="602.3" r="0.83" fill="#6e3a5a"/><circle cx="477.4" cy="596.2" r="0.51" fill="#84405e"/><circle cx="475.0" cy="605.6" r="0.62" fill="#6e3a5a"/><circle cx="454.3" cy="598.2" r="0.48" fill="#6e3a5a"/><circle cx="491.3" cy="599.1" r="0.85" fill="#90506c"/><circle cx="458.2" cy="602.0" r="0.88" fill="#90506c"/><circle cx="480.6" cy="602.7" r="0.69" fill="#84405e"/><circle cx="458.5" cy="604.8" r="0.64" fill="#8a80b0"/><circle cx="492.9" cy="600.0" r="0.58" fill="#54487e"/><circle cx="472.0" cy="599.9" r="0.60" fill="#7a6ea6"/></g>
<g opacity="0.7"><circle cx="507.8" cy="597.8" r="0.96" fill="#675a94"/><circle cx="484.8" cy="594.1" r="0.64" fill="#7a6ea6"/><circle cx="490.9" cy="595.5" r="0.51" fill="#7a6ea6"/><circle cx="484.7" cy="593.1" r="0.60" fill="#675a94"/><circle cx="491.2" cy="604.4" r="0.90" fill="#7a6ea6"/><circle cx="488.8" cy="594.5" r="0.70" fill="#54487e"/><circle cx="507.4" cy="599.1" r="0.61" fill="#8a80b0"/><circle cx="498.6" cy="606.1" r="1.00" fill="#675a94"/><circle cx="505.8" cy="600.4" r="0.68" fill="#7a6ea6"/><circle cx="489.9" cy="599.2" r="0.56" fill="#6b5f98"/><circle cx="498.7" cy="592.5" r="0.93" fill="#54487e"/><circle cx="501.7" cy="597.2" r="0.83" fill="#675a94"/><circle cx="499.7" cy="602.1" r="0.89" fill="#7a6ea6"/><circle cx="487.3" cy="601.6" r="0.55" fill="#675a94"/><circle cx="501.3" cy="594.1" r="0.86" fill="#6b5f98"/><circle cx="484.2" cy="593.0" r="0.86" fill="#5c5088"/><circle cx="488.4" cy="604.5" r="0.73" fill="#54487e"/><circle cx="481.2" cy="595.4" r="0.51" fill="#54487e"/><circle cx="502.6" cy="602.1" r="0.95" fill="#6b5f98"/><circle cx="498.1" cy="602.2" r="0.62" fill="#8a80b0"/><circle cx="488.3" cy="601.1" r="0.59" fill="#6b5f98"/><circle cx="485.7" cy="600.7" r="0.61" fill="#54487e"/><circle cx="482.2" cy="594.2" r="0.65" fill="#8a80b0"/><circle cx="500.6" cy="599.8" r="0.81" fill="#7a6ea6"/><circle cx="495.1" cy="594.6" r="0.75" fill="#675a94"/><circle cx="485.2" cy="598.0" r="0.84" fill="#5c5088"/><circle cx="501.4" cy="601.5" r="0.95" fill="#675a94"/><circle cx="496.4" cy="591.8" r="0.62" fill="#6b5f98"/><circle cx="478.2" cy="596.1" r="0.89" fill="#5c5088"/><circle cx="501.0" cy="592.4" r="0.85" fill="#8a80b0"/><circle cx="484.1" cy="599.4" r="0.67" fill="#8a80b0"/><circle cx="491.2" cy="596.4" r="0.75" fill="#54487e"/><circle cx="503.6" cy="601.0" r="0.73" fill="#6b5f98"/><circle cx="498.7" cy="594.3" r="0.84" fill="#7a6ea6"/><circle cx="492.7" cy="594.0" r="0.98" fill="#675a94"/><circle cx="485.4" cy="599.7" r="0.98" fill="#54487e"/><circle cx="484.6" cy="595.2" r="0.98" fill="#7a6ea6"/><circle cx="488.5" cy="597.6" r="0.60" fill="#5c5088"/><circle cx="481.4" cy="602.0" r="0.74" fill="#8a80b0"/><circle cx="484.6" cy="594.9" r="0.76" fill="#8a80b0"/><circle cx="481.3" cy="601.3" r="0.85" fill="#7a6ea6"/><circle cx="495.0" cy="596.3" r="0.91" fill="#675a94"/><circle cx="490.6" cy="606.1" r="0.84" fill="#7a6ea6"/><circle cx="496.2" cy="598.4" r="0.88" fill="#7a6ea6"/><circle cx="480.7" cy="595.6" r="0.68" fill="#7a6ea6"/><circle cx="486.7" cy="592.8" r="0.65" fill="#6b5f98"/><circle cx="482.2" cy="598.1" r="0.78" fill="#5c5088"/><circle cx="501.0" cy="592.3" r="0.86" fill="#54487e"/><circle cx="495.0" cy="592.7" r="0.74" fill="#8a80b0"/><circle cx="492.6" cy="603.5" r="0.66" fill="#5c5088"/><circle cx="506.4" cy="601.3" r="0.81" fill="#54487e"/><circle cx="497.9" cy="595.0" r="0.62" fill="#7a6ea6"/><circle cx="489.6" cy="593.3" r="0.68" fill="#54487e"/><circle cx="493.8" cy="605.3" r="0.84" fill="#6b5f98"/><circle cx="502.1" cy="604.3" r="0.87" fill="#5c5088"/><circle cx="489.1" cy="601.4" r="0.68" fill="#7a6ea6"/><circle cx="488.8" cy="599.8" r="0.68" fill="#5c5088"/><circle cx="495.1" cy="601.1" r="0.91" fill="#54487e"/><circle cx="489.9" cy="591.8" r="0.61" fill="#8a80b0"/><circle cx="493.0" cy="593.5" r="0.65" fill="#675a94"/></g>
<g opacity="0.45"><circle cx="420.5" cy="552.1" r="0.51" fill="#7a6ea6"/><circle cx="416.9" cy="593.5" r="0.44" fill="#6b5f98"/><circle cx="425.0" cy="569.0" r="0.51" fill="#5c5088"/><circle cx="425.1" cy="584.3" r="0.61" fill="#5c5088"/><circle cx="422.2" cy="589.5" r="0.43" fill="#6b5f98"/><circle cx="421.3" cy="586.3" r="0.85" fill="#7a6ea6"/><circle cx="424.1" cy="578.8" r="0.68" fill="#8a80b0"/><circle cx="409.7" cy="561.2" r="0.63" fill="#675a94"/><circle cx="420.4" cy="585.6" r="0.43" fill="#54487e"/><circle cx="414.6" cy="577.9" r="0.68" fill="#8a80b0"/><circle cx="427.1" cy="569.0" r="0.72" fill="#5c5088"/><circle cx="425.3" cy="571.5" r="0.72" fill="#7a6ea6"/><circle cx="412.4" cy="582.0" r="0.75" fill="#7a6ea6"/><circle cx="421.2" cy="563.6" r="0.69" fill="#8a80b0"/><circle cx="415.2" cy="557.0" r="0.62" fill="#5c5088"/><circle cx="425.8" cy="572.4" r="0.46" fill="#5c5088"/><circle cx="421.0" cy="554.4" r="0.74" fill="#54487e"/><circle cx="417.8" cy="572.7" r="0.51" fill="#675a94"/><circle cx="421.9" cy="581.8" r="0.85" fill="#675a94"/><circle cx="409.6" cy="565.4" r="0.44" fill="#8a80b0"/><circle cx="410.7" cy="570.2" r="0.65" fill="#6b5f98"/><circle cx="420.5" cy="593.0" r="0.66" fill="#8a80b0"/><circle cx="424.6" cy="564.6" r="0.49" fill="#7a6ea6"/><circle cx="419.3" cy="583.7" r="0.47" fill="#675a94"/><circle cx="419.9" cy="555.7" r="0.55" fill="#54487e"/><circle cx="412.0" cy="550.7" r="0.76" fill="#5c5088"/><circle cx="411.4" cy="582.3" r="0.57" fill="#54487e"/><circle cx="421.6" cy="586.3" r="0.46" fill="#5c5088"/><circle cx="418.3" cy="571.2" r="0.58" fill="#8a80b0"/><circle cx="408.9" cy="575.2" r="0.45" fill="#675a94"/><circle cx="414.5" cy="575.2" r="0.42" fill="#54487e"/><circle cx="412.8" cy="562.7" r="0.75" fill="#6b5f98"/><circle cx="424.8" cy="574.1" r="0.46" fill="#6b5f98"/><circle cx="417.8" cy="548.7" r="0.53" fill="#7a6ea6"/><circle cx="419.1" cy="559.5" r="0.74" fill="#8a80b0"/><circle cx="424.7" cy="574.4" r="0.53" fill="#54487e"/><circle cx="423.2" cy="558.4" r="0.62" fill="#6b5f98"/><circle cx="414.8" cy="552.5" r="0.65" fill="#6b5f98"/><circle cx="411.6" cy="585.9" r="0.74" fill="#8a80b0"/><circle cx="421.9" cy="567.4" r="0.51" fill="#675a94"/></g>
</g></g>
<clipPath id="cg3"><rect x="292.2" y="617.5" width="106.10000000000002" height="86.29999999999995"/></clipPath>
<rect x="292.2" y="617.5" width="106.10000000000002" height="86.29999999999995" fill="#ebe8ec"/>
<g clip-path="url(#cg3)"><g filter="url(#blur06)">
<g opacity="0.5"><circle cx="346.9" cy="647.5" r="0.61" fill="#c4bccf"/><circle cx="388.3" cy="668.0" r="0.42" fill="#b8aecb"/><circle cx="380.1" cy="680.5" r="0.53" fill="#c4bccf"/><circle cx="332.7" cy="646.8" r="0.40" fill="#aea4c4"/><circle cx="343.2" cy="635.4" r="0.50" fill="#aea4c4"/><circle cx="363.8" cy="639.5" r="0.51" fill="#aea4c4"/><circle cx="353.1" cy="667.6" r="0.46" fill="#aea4c4"/><circle cx="293.8" cy="665.5" r="0.71" fill="#b8aecb"/><circle cx="375.2" cy="672.0" r="0.65" fill="#c4bccf"/><circle cx="377.1" cy="686.4" r="0.50" fill="#b8aecb"/><circle cx="364.9" cy="642.4" r="0.71" fill="#aea4c4"/><circle cx="329.9" cy="691.8" r="0.50" fill="#aea4c4"/><circle cx="368.7" cy="645.1" r="0.68" fill="#aea4c4"/><circle cx="343.0" cy="648.1" r="0.50" fill="#b8aecb"/><circle cx="312.6" cy="695.0" r="0.67" fill="#c4bccf"/><circle cx="339.0" cy="666.2" r="0.52" fill="#b8aecb"/><circle cx="354.5" cy="627.9" r="0.69" fill="#c4bccf"/><circle cx="369.9" cy="664.6" r="0.77" fill="#c4bccf"/><circle cx="391.7" cy="667.6" r="0.52" fill="#c4bccf"/><circle cx="375.2" cy="653.5" r="0.75" fill="#b8aecb"/><circle cx="382.2" cy="643.7" r="0.47" fill="#c4bccf"/><circle cx="350.1" cy="683.3" r="0.65" fill="#b8aecb"/><circle cx="367.5" cy="634.6" r="0.56" fill="#b8aecb"/><circle cx="388.2" cy="640.4" r="0.60" fill="#b8aecb"/><circle cx="311.6" cy="681.1" r="0.79" fill="#aea4c4"/><circle cx="379.8" cy="666.8" r="0.69" fill="#b8aecb"/><circle cx="310.7" cy="663.3" r="0.75" fill="#aea4c4"/><circle cx="325.4" cy="693.1" r="0.41" fill="#c4bccf"/><circle cx="334.6" cy="676.1" r="0.54" fill="#b8aecb"/><circle cx="385.0" cy="686.7" r="0.43" fill="#aea4c4"/><circle cx="326.8" cy="659.5" r="0.64" fill="#c4bccf"/><circle cx="362.0" cy="643.2" r="0.57" fill="#aea4c4"/><circle cx="369.7" cy="644.6" r="0.44" fill="#b8aecb"/><circle cx="313.2" cy="662.7" r="0.74" fill="#c4bccf"/><circle cx="379.5" cy="653.1" r="0.62" fill="#aea4c4"/><circle cx="398.0" cy="666.7" r="0.49" fill="#aea4c4"/><circle cx="318.4" cy="679.0" r="0.71" fill="#aea4c4"/><circle cx="324.0" cy="684.5" r="0.79" fill="#c4bccf"/><circle cx="351.5" cy="647.5" r="0.61" fill="#c4bccf"/><circle cx="342.3" cy="674.0" r="0.71" fill="#c4bccf"/><circle cx="306.6" cy="671.6" r="0.56" fill="#b8aecb"/><circle cx="393.1" cy="671.2" r="0.45" fill="#aea4c4"/><circle cx="345.2" cy="665.0" r="0.47" fill="#aea4c4"/><circle cx="330.2" cy="628.4" r="0.47" fill="#aea4c4"/><circle cx="384.1" cy="685.1" r="0.61" fill="#c4bccf"/><circle cx="375.6" cy="636.8" r="0.79" fill="#c4bccf"/><circle cx="389.1" cy="650.0" r="0.48" fill="#b8aecb"/><circle cx="301.9" cy="681.0" r="0.43" fill="#aea4c4"/><circle cx="390.5" cy="675.7" r="0.54" fill="#b8aecb"/><circle cx="352.1" cy="651.9" r="0.77" fill="#aea4c4"/><circle cx="359.0" cy="635.2" r="0.50" fill="#c4bccf"/><circle cx="368.0" cy="636.8" r="0.54" fill="#c4bccf"/><circle cx="373.5" cy="672.8" r="0.52" fill="#c4bccf"/><circle cx="313.8" cy="666.3" r="0.46" fill="#c4bccf"/><circle cx="323.0" cy="623.0" r="0.40" fill="#b8aecb"/><circle cx="307.8" cy="676.4" r="0.64" fill="#c4bccf"/><circle cx="376.0" cy="691.6" r="0.69" fill="#b8aecb"/><circle cx="375.8" cy="692.7" r="0.47" fill="#b8aecb"/><circle cx="371.0" cy="623.8" r="0.47" fill="#aea4c4"/><circle cx="333.7" cy="652.3" r="0.66" fill="#aea4c4"/></g>
<ellipse cx="318" cy="630" rx="27" ry="12" fill="#dcd4e8" opacity="0.7" transform="rotate(0 318 630)" filter="url(#blur2)"/>
<ellipse cx="370" cy="624" rx="17" ry="7" fill="#dcd4e8" opacity="0.6" transform="rotate(0 370 624)" filter="url(#blur2)"/>
<ellipse cx="366" cy="645" rx="16" ry="7" fill="#dcd4e8" opacity="0.7" transform="rotate(0 366 645)" filter="url(#blur2)"/>
<polyline points="294,660 320,664 345,668 375,672 398,670" fill="none" stroke="#dcd4e8" stroke-width="16" stroke-linecap="round" opacity="0.7" filter="url(#blur2)"/>
<g opacity="0.72"><circle cx="329.3" cy="638.4" r="1.04" fill="#6b5f98"/><circle cx="322.4" cy="623.4" r="0.85" fill="#6b5f98"/><circle cx="294.0" cy="630.1" r="0.63" fill="#8a80b0"/><circle cx="328.3" cy="635.0" r="0.53" fill="#5c5088"/><circle cx="319.3" cy="619.1" r="0.62" fill="#675a94"/><circle cx="299.7" cy="635.2" r="0.78" fill="#6b5f98"/><circle cx="319.6" cy="637.5" r="1.03" fill="#6b5f98"/><circle cx="310.2" cy="623.7" r="1.03" fill="#7a6ea6"/><circle cx="330.0" cy="625.0" r="0.60" fill="#5c5088"/><circle cx="305.9" cy="626.2" r="0.52" fill="#8a80b0"/><circle cx="320.3" cy="631.1" r="0.88" fill="#54487e"/><circle cx="329.3" cy="627.8" r="0.68" fill="#8a80b0"/><circle cx="311.9" cy="622.3" r="0.92" fill="#8a80b0"/><circle cx="325.0" cy="624.3" r="0.78" fill="#5c5088"/><circle cx="328.1" cy="635.1" r="1.05" fill="#7a6ea6"/><circle cx="326.5" cy="620.9" r="0.84" fill="#6b5f98"/><circle cx="328.1" cy="626.1" r="0.86" fill="#675a94"/><circle cx="326.7" cy="629.0" r="0.82" fill="#8a80b0"/><circle cx="330.8" cy="637.8" r="0.78" fill="#675a94"/><circle cx="320.4" cy="627.4" r="0.95" fill="#54487e"/><circle cx="337.2" cy="626.8" r="0.54" fill="#675a94"/><circle cx="305.9" cy="633.5" r="0.95" fill="#6b5f98"/><circle cx="324.7" cy="630.9" r="0.62" fill="#675a94"/><circle cx="331.8" cy="624.8" r="0.96" fill="#54487e"/><circle cx="310.1" cy="632.0" r="0.81" fill="#7a6ea6"/><circle cx="310.9" cy="623.5" r="0.59" fill="#5c5088"/><circle cx="304.4" cy="622.8" r="0.95" fill="#8a80b0"/><circle cx="336.5" cy="633.3" r="1.00" fill="#5c5088"/><circle cx="311.8" cy="637.3" r="0.95" fill="#6b5f98"/><circle cx="313.3" cy="634.5" r="0.71" fill="#5c5088"/><circle cx="310.5" cy="636.7" r="0.79" fill="#8a80b0"/><circle cx="326.4" cy="625.1" r="0.66" fill="#8a80b0"/><circle cx="328.1" cy="628.9" r="0.76" fill="#7a6ea6"/><circle cx="331.5" cy="622.3" r="0.87" fill="#5c5088"/><circle cx="317.4" cy="633.5" r="0.84" fill="#675a94"/><circle cx="309.7" cy="627.4" r="0.51" fill="#7a6ea6"/><circle cx="322.7" cy="625.7" r="0.80" fill="#5c5088"/><circle cx="305.3" cy="624.8" r="0.74" fill="#675a94"/><circle cx="325.1" cy="637.9" r="0.61" fill="#8a80b0"/><circle cx="329.3" cy="627.3" r="0.52" fill="#5c5088"/><circle cx="342.4" cy="628.5" r="0.83" fill="#5c5088"/><circle cx="310.3" cy="627.5" r="0.82" fill="#675a94"/><circle cx="329.0" cy="627.2" r="0.87" fill="#5c5088"/><circle cx="315.2" cy="627.7" r="0.73" fill="#54487e"/><circle cx="322.8" cy="629.2" r="0.75" fill="#8a80b0"/><circle cx="313.6" cy="629.4" r="0.99" fill="#8a80b0"/><circle cx="312.7" cy="622.0" r="0.91" fill="#6b5f98"/><circle cx="326.9" cy="635.3" r="0.72" fill="#6b5f98"/><circle cx="340.1" cy="625.5" r="0.68" fill="#8a80b0"/><circle cx="332.0" cy="621.6" r="0.62" fill="#6b5f98"/><circle cx="321.7" cy="619.3" r="0.77" fill="#7a6ea6"/><circle cx="321.3" cy="620.2" r="0.87" fill="#54487e"/><circle cx="309.5" cy="638.0" r="0.80" fill="#54487e"/><circle cx="313.7" cy="631.8" r="1.05" fill="#6b5f98"/><circle cx="309.4" cy="630.4" r="0.50" fill="#675a94"/><circle cx="306.3" cy="624.8" r="0.67" fill="#5c5088"/><circle cx="326.5" cy="625.6" r="0.72" fill="#8a80b0"/><circle cx="327.4" cy="625.8" r="0.64" fill="#8a80b0"/><circle cx="333.7" cy="637.8" r="0.64" fill="#7a6ea6"/><circle cx="298.9" cy="623.6" r="0.86" fill="#8a80b0"/><circle cx="326.1" cy="634.6" r="0.58" fill="#5c5088"/><circle cx="320.9" cy="620.1" r="0.67" fill="#675a94"/><circle cx="303.4" cy="628.7" r="0.61" fill="#7a6ea6"/><circle cx="333.7" cy="632.0" r="0.75" fill="#54487e"/><circle cx="315.1" cy="638.3" r="0.53" fill="#8a80b0"/><circle cx="334.3" cy="629.9" r="0.51" fill="#54487e"/><circle cx="321.2" cy="636.6" r="0.77" fill="#54487e"/><circle cx="329.5" cy="635.5" r="0.94" fill="#675a94"/><circle cx="335.6" cy="622.2" r="1.00" fill="#7a6ea6"/><circle cx="318.8" cy="629.2" r="0.61" fill="#6b5f98"/><circle cx="341.4" cy="628.1" r="0.86" fill="#5c5088"/><circle cx="328.7" cy="628.7" r="0.73" fill="#6b5f98"/><circle cx="300.3" cy="628.8" r="0.92" fill="#675a94"/><circle cx="333.5" cy="634.6" r="0.90" fill="#5c5088"/><circle cx="339.4" cy="626.1" r="0.96" fill="#7a6ea6"/><circle cx="341.2" cy="633.6" r="0.63" fill="#6b5f98"/><circle cx="309.0" cy="622.4" r="0.66" fill="#54487e"/><circle cx="320.4" cy="621.1" r="0.76" fill="#54487e"/><circle cx="301.6" cy="626.3" r="0.72" fill="#6b5f98"/><circle cx="340.9" cy="630.6" r="0.66" fill="#5c5088"/><circle cx="302.4" cy="625.2" r="0.67" fill="#675a94"/><circle cx="320.1" cy="620.9" r="0.58" fill="#5c5088"/><circle cx="331.9" cy="635.8" r="1.00" fill="#675a94"/><circle cx="323.1" cy="640.3" r="0.69" fill="#7a6ea6"/><circle cx="326.1" cy="620.1" r="0.68" fill="#8a80b0"/><circle cx="317.0" cy="626.3" r="0.70" fill="#6b5f98"/><circle cx="333.0" cy="625.6" r="0.54" fill="#675a94"/><circle cx="315.7" cy="635.4" r="0.56" fill="#7a6ea6"/><circle cx="323.0" cy="629.2" r="0.52" fill="#675a94"/><circle cx="322.1" cy="628.1" r="0.88" fill="#8a80b0"/><circle cx="322.1" cy="626.8" r="0.71" fill="#54487e"/><circle cx="330.2" cy="626.9" r="0.86" fill="#6b5f98"/><circle cx="309.2" cy="637.5" r="0.98" fill="#8a80b0"/><circle cx="307.8" cy="624.7" r="0.56" fill="#7a6ea6"/><circle cx="298.1" cy="629.9" r="0.79" fill="#6b5f98"/><circle cx="308.9" cy="624.4" r="0.81" fill="#6b5f98"/><circle cx="318.4" cy="627.1" r="0.61" fill="#8a80b0"/><circle cx="320.9" cy="640.7" r="1.00" fill="#54487e"/><circle cx="337.3" cy="630.0" r="0.99" fill="#6b5f98"/><circle cx="333.2" cy="634.4" r="0.62" fill="#54487e"/><circle cx="303.9" cy="635.5" r="0.58" fill="#5c5088"/><circle cx="324.5" cy="621.4" r="0.81" fill="#6b5f98"/><circle cx="296.4" cy="631.7" r="0.63" fill="#675a94"/><circle cx="332.3" cy="630.3" r="0.95" fill="#7a6ea6"/><circle cx="295.8" cy="626.4" r="0.55" fill="#7a6ea6"/><circle cx="324.1" cy="634.2" r="0.95" fill="#5c5088"/><circle cx="296.4" cy="635.7" r="0.83" fill="#7a6ea6"/><circle cx="313.4" cy="628.0" r="0.55" fill="#7a6ea6"/><circle cx="299.7" cy="630.3" r="0.59" fill="#5c5088"/><circle cx="332.0" cy="623.5" r="1.01" fill="#54487e"/><circle cx="316.9" cy="629.9" r="0.93" fill="#6b5f98"/><circle cx="331.1" cy="633.0" r="0.61" fill="#54487e"/><circle cx="294.6" cy="627.0" r="0.73" fill="#54487e"/><circle cx="329.3" cy="626.7" r="0.59" fill="#8a80b0"/><circle cx="327.0" cy="635.4" r="0.57" fill="#54487e"/><circle cx="330.7" cy="637.3" r="0.94" fill="#675a94"/><circle cx="300.6" cy="627.5" r="0.85" fill="#675a94"/><circle cx="319.6" cy="639.8" r="0.56" fill="#5c5088"/><circle cx="331.0" cy="637.6" r="0.63" fill="#675a94"/><circle cx="315.8" cy="624.2" r="0.77" fill="#54487e"/><circle cx="326.5" cy="627.7" r="0.84" fill="#5c5088"/><circle cx="334.9" cy="627.9" r="0.55" fill="#54487e"/><circle cx="326.9" cy="636.4" r="0.86" fill="#8a80b0"/><circle cx="317.4" cy="619.4" r="0.56" fill="#8a80b0"/><circle cx="313.8" cy="632.3" r="0.75" fill="#5c5088"/><circle cx="320.4" cy="620.8" r="0.72" fill="#8a80b0"/><circle cx="324.2" cy="625.4" r="0.55" fill="#5c5088"/><circle cx="301.7" cy="638.6" r="0.72" fill="#675a94"/><circle cx="334.0" cy="621.7" r="0.88" fill="#6b5f98"/><circle cx="311.5" cy="638.7" r="0.71" fill="#5c5088"/><circle cx="341.8" cy="627.0" r="0.62" fill="#675a94"/><circle cx="308.0" cy="626.0" r="0.98" fill="#675a94"/><circle cx="301.9" cy="637.3" r="0.59" fill="#675a94"/><circle cx="297.4" cy="624.4" r="0.81" fill="#54487e"/><circle cx="305.0" cy="626.8" r="0.56" fill="#675a94"/><circle cx="330.2" cy="635.6" r="0.87" fill="#7a6ea6"/><circle cx="326.6" cy="620.7" r="0.84" fill="#8a80b0"/><circle cx="305.8" cy="625.5" r="0.67" fill="#54487e"/><circle cx="324.9" cy="627.3" r="0.79" fill="#54487e"/><circle cx="295.1" cy="633.4" r="0.77" fill="#54487e"/><circle cx="335.4" cy="634.0" r="0.81" fill="#8a80b0"/><circle cx="308.2" cy="630.3" r="0.58" fill="#675a94"/><circle cx="308.9" cy="622.0" r="1.02" fill="#5c5088"/><circle cx="299.5" cy="631.9" r="0.82" fill="#6b5f98"/><circle cx="322.7" cy="640.6" r="0.85" fill="#7a6ea6"/><circle cx="307.1" cy="631.0" r="0.73" fill="#8a80b0"/><circle cx="325.7" cy="636.7" r="0.87" fill="#8a80b0"/><circle cx="317.6" cy="640.4" r="0.70" fill="#5c5088"/><circle cx="308.9" cy="637.3" r="0.77" fill="#6b5f98"/><circle cx="333.3" cy="626.6" r="0.58" fill="#675a94"/><circle cx="308.0" cy="630.5" r="0.87" fill="#6b5f98"/><circle cx="322.5" cy="640.4" r="0.93" fill="#5c5088"/><circle cx="308.1" cy="639.8" r="0.61" fill="#5c5088"/><circle cx="340.3" cy="627.9" r="0.87" fill="#5c5088"/><circle cx="312.5" cy="627.5" r="1.03" fill="#5c5088"/><circle cx="324.4" cy="630.0" r="0.72" fill="#7a6ea6"/><circle cx="332.5" cy="625.9" r="0.58" fill="#675a94"/><circle cx="316.5" cy="631.3" r="0.87" fill="#6b5f98"/><circle cx="306.3" cy="627.0" r="1.00" fill="#675a94"/><circle cx="334.2" cy="637.7" r="0.57" fill="#8a80b0"/><circle cx="335.0" cy="631.5" r="0.69" fill="#5c5088"/><circle cx="305.8" cy="624.4" r="0.54" fill="#675a94"/><circle cx="297.0" cy="632.3" r="0.96" fill="#54487e"/><circle cx="297.8" cy="625.8" r="0.85" fill="#54487e"/><circle cx="325.0" cy="634.2" r="0.93" fill="#8a80b0"/><circle cx="335.8" cy="636.4" r="0.96" fill="#8a80b0"/><circle cx="312.4" cy="636.7" r="0.69" fill="#7a6ea6"/><circle cx="329.0" cy="622.2" r="0.90" fill="#8a80b0"/><circle cx="326.8" cy="638.8" r="0.57" fill="#5c5088"/><circle cx="327.5" cy="639.3" r="0.54" fill="#6b5f98"/><circle cx="336.3" cy="633.7" r="0.82" fill="#8a80b0"/><circle cx="303.1" cy="635.0" r="0.93" fill="#54487e"/><circle cx="333.0" cy="637.4" r="0.58" fill="#54487e"/><circle cx="336.2" cy="624.3" r="0.57" fill="#5c5088"/><circle cx="338.7" cy="635.3" r="0.95" fill="#54487e"/><circle cx="311.8" cy="625.3" r="0.86" fill="#54487e"/><circle cx="312.0" cy="638.7" r="0.89" fill="#675a94"/><circle cx="323.5" cy="630.2" r="0.83" fill="#7a6ea6"/><circle cx="308.1" cy="626.9" r="0.81" fill="#6b5f98"/><circle cx="310.7" cy="634.4" r="0.54" fill="#5c5088"/><circle cx="303.4" cy="629.1" r="0.92" fill="#8a80b0"/><circle cx="306.3" cy="620.3" r="0.75" fill="#675a94"/><circle cx="323.0" cy="619.7" r="0.80" fill="#8a80b0"/><circle cx="297.7" cy="623.9" r="0.85" fill="#5c5088"/><circle cx="342.2" cy="630.7" r="0.63" fill="#675a94"/><circle cx="333.3" cy="623.6" r="0.96" fill="#675a94"/><circle cx="319.9" cy="619.7" r="0.93" fill="#6b5f98"/><circle cx="334.2" cy="624.9" r="0.71" fill="#54487e"/><circle cx="306.2" cy="621.0" r="0.56" fill="#8a80b0"/><circle cx="318.6" cy="632.0" r="0.62" fill="#6b5f98"/><circle cx="295.7" cy="629.5" r="0.57" fill="#8a80b0"/><circle cx="324.1" cy="623.2" r="0.84" fill="#6b5f98"/><circle cx="312.9" cy="625.2" r="0.61" fill="#54487e"/><circle cx="332.4" cy="636.4" r="0.91" fill="#5c5088"/><circle cx="302.5" cy="635.6" r="0.96" fill="#5c5088"/><circle cx="339.8" cy="634.9" r="0.90" fill="#6b5f98"/><circle cx="310.4" cy="628.2" r="0.96" fill="#54487e"/><circle cx="329.5" cy="632.9" r="0.65" fill="#5c5088"/><circle cx="324.6" cy="631.4" r="0.67" fill="#5c5088"/><circle cx="307.9" cy="620.0" r="0.60" fill="#5c5088"/></g>
<g opacity="0.7"><circle cx="328.4" cy="622.4" r="0.86" fill="#6b5f98"/><circle cx="326.9" cy="632.3" r="0.68" fill="#8a80b0"/><circle cx="329.7" cy="623.0" r="0.67" fill="#5c5088"/><circle cx="329.5" cy="631.9" r="0.56" fill="#6b5f98"/><circle cx="330.6" cy="625.0" r="0.69" fill="#5c5088"/><circle cx="338.2" cy="630.5" r="0.97" fill="#675a94"/><circle cx="328.7" cy="630.8" r="0.69" fill="#8a80b0"/><circle cx="324.3" cy="629.0" r="0.69" fill="#6b5f98"/><circle cx="321.7" cy="631.4" r="0.60" fill="#675a94"/><circle cx="330.7" cy="622.9" r="0.66" fill="#675a94"/><circle cx="331.2" cy="627.5" r="0.88" fill="#7a6ea6"/><circle cx="327.1" cy="632.6" r="0.55" fill="#7a6ea6"/><circle cx="338.9" cy="627.3" r="0.79" fill="#54487e"/><circle cx="333.7" cy="633.0" r="0.88" fill="#675a94"/><circle cx="334.5" cy="622.6" r="0.74" fill="#8a80b0"/><circle cx="333.0" cy="632.3" r="0.99" fill="#54487e"/><circle cx="333.0" cy="630.3" r="0.74" fill="#7a6ea6"/><circle cx="322.4" cy="628.0" r="0.69" fill="#54487e"/><circle cx="324.6" cy="626.7" r="0.89" fill="#7a6ea6"/><circle cx="332.7" cy="630.9" r="0.52" fill="#6b5f98"/><circle cx="328.0" cy="633.3" r="0.98" fill="#54487e"/><circle cx="320.9" cy="628.7" r="0.79" fill="#8a80b0"/><circle cx="325.3" cy="623.8" r="0.51" fill="#6b5f98"/><circle cx="335.2" cy="632.6" r="0.55" fill="#7a6ea6"/><circle cx="336.1" cy="624.0" r="0.76" fill="#6b5f98"/><circle cx="330.2" cy="633.5" r="0.69" fill="#6b5f98"/><circle cx="333.0" cy="623.0" r="0.78" fill="#675a94"/><circle cx="331.9" cy="631.6" r="0.54" fill="#6b5f98"/><circle cx="333.2" cy="629.4" r="0.73" fill="#54487e"/><circle cx="336.2" cy="627.5" r="0.56" fill="#54487e"/><circle cx="334.7" cy="630.1" r="0.99" fill="#675a94"/><circle cx="339.5" cy="628.6" r="0.68" fill="#6b5f98"/><circle cx="321.8" cy="624.9" r="0.94" fill="#6b5f98"/><circle cx="321.8" cy="625.3" r="0.65" fill="#5c5088"/><circle cx="323.0" cy="629.3" r="0.99" fill="#7a6ea6"/><circle cx="322.3" cy="630.3" r="0.80" fill="#675a94"/><circle cx="327.7" cy="633.8" r="0.96" fill="#675a94"/><circle cx="333.0" cy="633.0" r="0.87" fill="#6b5f98"/><circle cx="333.6" cy="632.2" r="0.72" fill="#6b5f98"/><circle cx="328.8" cy="630.5" r="0.63" fill="#5c5088"/><circle cx="327.6" cy="623.9" r="0.58" fill="#54487e"/><circle cx="333.1" cy="627.7" r="0.81" fill="#5c5088"/><circle cx="325.5" cy="625.0" r="0.71" fill="#6b5f98"/><circle cx="326.8" cy="628.5" r="0.68" fill="#5c5088"/><circle cx="324.8" cy="626.1" r="0.54" fill="#7a6ea6"/><circle cx="326.3" cy="629.5" r="0.68" fill="#675a94"/><circle cx="322.4" cy="627.5" r="0.61" fill="#6b5f98"/><circle cx="333.0" cy="628.5" r="0.97" fill="#8a80b0"/><circle cx="338.6" cy="628.2" r="0.89" fill="#54487e"/><circle cx="325.7" cy="632.9" r="0.51" fill="#5c5088"/></g>
<g opacity="0.7"><circle cx="354.2" cy="697.7" r="0.97" fill="#675a94"/><circle cx="354.3" cy="701.1" r="0.85" fill="#54487e"/><circle cx="352.4" cy="699.3" r="0.67" fill="#6b5f98"/><circle cx="356.7" cy="700.7" r="0.83" fill="#54487e"/><circle cx="356.1" cy="700.9" r="0.80" fill="#54487e"/><circle cx="353.7" cy="697.5" r="0.86" fill="#675a94"/><circle cx="354.9" cy="702.8" r="0.84" fill="#5c5088"/><circle cx="360.0" cy="699.7" r="0.95" fill="#5c5088"/><circle cx="352.6" cy="699.5" r="0.84" fill="#8a80b0"/><circle cx="359.3" cy="699.8" r="0.66" fill="#7a6ea6"/><circle cx="351.7" cy="702.1" r="0.90" fill="#54487e"/><circle cx="353.0" cy="700.7" r="0.92" fill="#6b5f98"/><circle cx="356.9" cy="700.5" r="0.83" fill="#7a6ea6"/><circle cx="349.5" cy="699.9" r="0.92" fill="#6b5f98"/><circle cx="353.6" cy="700.9" r="0.78" fill="#7a6ea6"/></g>
<g opacity="0.6"><circle cx="356.0" cy="621.6" r="0.63" fill="#7a6ea6"/><circle cx="384.0" cy="622.3" r="0.77" fill="#7a6ea6"/><circle cx="358.4" cy="627.5" r="0.63" fill="#5c5088"/><circle cx="359.3" cy="626.0" r="0.94" fill="#7a6ea6"/><circle cx="363.1" cy="622.6" r="0.88" fill="#7a6ea6"/><circle cx="374.8" cy="628.6" r="0.88" fill="#5c5088"/><circle cx="361.7" cy="628.7" r="0.63" fill="#6b5f98"/><circle cx="355.6" cy="626.0" r="0.92" fill="#7a6ea6"/><circle cx="363.0" cy="623.7" r="0.74" fill="#6b5f98"/><circle cx="368.7" cy="626.5" r="0.55" fill="#6b5f98"/><circle cx="369.5" cy="629.1" r="0.95" fill="#8a80b0"/><circle cx="368.1" cy="619.4" r="0.53" fill="#5c5088"/><circle cx="368.2" cy="620.9" r="0.67" fill="#6b5f98"/><circle cx="377.8" cy="624.8" r="0.94" fill="#8a80b0"/><circle cx="370.8" cy="620.9" r="0.59" fill="#5c5088"/><circle cx="362.5" cy="629.1" r="0.73" fill="#54487e"/><circle cx="358.2" cy="627.7" r="0.82" fill="#6b5f98"/><circle cx="360.6" cy="626.0" r="0.68" fill="#6b5f98"/><circle cx="376.5" cy="623.7" r="0.63" fill="#675a94"/><circle cx="370.5" cy="618.3" r="0.74" fill="#54487e"/><circle cx="355.0" cy="625.8" r="0.89" fill="#54487e"/><circle cx="373.4" cy="625.8" r="0.57" fill="#5c5088"/><circle cx="377.7" cy="628.3" r="0.68" fill="#54487e"/><circle cx="359.8" cy="620.7" r="0.80" fill="#54487e"/><circle cx="355.1" cy="623.3" r="0.57" fill="#7a6ea6"/><circle cx="363.7" cy="621.8" r="0.60" fill="#6b5f98"/><circle cx="366.9" cy="626.1" r="0.51" fill="#8a80b0"/><circle cx="361.5" cy="623.7" r="0.76" fill="#54487e"/><circle cx="369.7" cy="629.9" r="0.81" fill="#7a6ea6"/><circle cx="360.2" cy="623.6" r="0.65" fill="#8a80b0"/><circle cx="359.7" cy="623.0" r="0.85" fill="#675a94"/><circle cx="366.0" cy="619.9" r="0.91" fill="#6b5f98"/><circle cx="359.0" cy="627.7" r="0.80" fill="#8a80b0"/><circle cx="372.0" cy="626.5" r="0.57" fill="#7a6ea6"/><circle cx="372.0" cy="621.3" r="0.71" fill="#7a6ea6"/><circle cx="364.3" cy="627.0" r="0.58" fill="#8a80b0"/><circle cx="359.4" cy="625.0" r="0.73" fill="#8a80b0"/><circle cx="362.1" cy="624.8" r="0.61" fill="#7a6ea6"/><circle cx="384.1" cy="622.9" r="0.53" fill="#6b5f98"/><circle cx="356.3" cy="627.0" r="0.59" fill="#7a6ea6"/><circle cx="367.4" cy="624.4" r="0.92" fill="#54487e"/><circle cx="374.9" cy="624.2" r="0.56" fill="#7a6ea6"/><circle cx="370.0" cy="624.4" r="0.84" fill="#5c5088"/><circle cx="382.7" cy="624.8" r="0.59" fill="#54487e"/><circle cx="384.6" cy="625.7" r="0.71" fill="#675a94"/><circle cx="362.2" cy="627.9" r="0.85" fill="#6b5f98"/><circle cx="374.0" cy="623.7" r="0.84" fill="#6b5f98"/><circle cx="368.2" cy="622.1" r="0.88" fill="#54487e"/><circle cx="382.5" cy="623.6" r="0.66" fill="#7a6ea6"/><circle cx="385.1" cy="624.5" r="0.70" fill="#7a6ea6"/><circle cx="382.8" cy="620.8" r="0.87" fill="#5c5088"/><circle cx="366.2" cy="623.9" r="0.68" fill="#7a6ea6"/><circle cx="374.5" cy="628.5" r="0.56" fill="#675a94"/><circle cx="358.4" cy="622.9" r="0.71" fill="#6b5f98"/><circle cx="369.0" cy="623.4" r="0.67" fill="#675a94"/><circle cx="365.4" cy="626.5" r="0.72" fill="#7a6ea6"/><circle cx="380.0" cy="626.3" r="0.84" fill="#7a6ea6"/><circle cx="366.6" cy="619.4" r="0.81" fill="#5c5088"/><circle cx="380.7" cy="625.7" r="0.82" fill="#54487e"/><circle cx="372.9" cy="627.2" r="0.68" fill="#5c5088"/></g>
<g opacity="0.7"><circle cx="370.5" cy="640.6" r="0.53" fill="#8a80b0"/><circle cx="368.7" cy="641.1" r="0.51" fill="#675a94"/><circle cx="363.4" cy="645.8" r="0.51" fill="#84405e"/><circle cx="357.9" cy="641.9" r="0.86" fill="#7a6ea6"/><circle cx="355.5" cy="642.9" r="0.76" fill="#5c5088"/><circle cx="359.8" cy="648.2" r="0.94" fill="#5c5088"/><circle cx="369.7" cy="647.6" r="0.63" fill="#84405e"/><circle cx="377.0" cy="642.8" r="0.75" fill="#7a6ea6"/><circle cx="367.8" cy="639.2" r="0.58" fill="#54487e"/><circle cx="363.7" cy="642.3" r="0.51" fill="#5c5088"/><circle cx="374.9" cy="648.9" r="0.55" fill="#675a94"/><circle cx="355.6" cy="648.8" r="0.73" fill="#8a80b0"/><circle cx="374.7" cy="641.5" r="0.55" fill="#54487e"/><circle cx="365.2" cy="644.2" r="0.51" fill="#675a94"/><circle cx="357.5" cy="649.4" r="0.73" fill="#84405e"/><circle cx="358.8" cy="644.0" r="0.77" fill="#54487e"/><circle cx="351.7" cy="645.2" r="0.61" fill="#54487e"/><circle cx="371.7" cy="646.5" r="0.95" fill="#7a6ea6"/><circle cx="352.9" cy="644.5" r="0.67" fill="#54487e"/><circle cx="374.8" cy="642.5" r="0.66" fill="#54487e"/><circle cx="360.2" cy="648.6" r="0.66" fill="#5c5088"/><circle cx="352.5" cy="645.2" r="0.58" fill="#54487e"/><circle cx="377.3" cy="644.5" r="0.60" fill="#6b5f98"/><circle cx="374.6" cy="647.8" r="0.93" fill="#54487e"/><circle cx="372.5" cy="645.4" r="0.89" fill="#6b5f98"/><circle cx="370.8" cy="646.6" r="0.72" fill="#6b5f98"/><circle cx="358.6" cy="647.2" r="0.61" fill="#5c5088"/><circle cx="363.6" cy="647.7" r="0.77" fill="#84405e"/><circle cx="369.6" cy="639.9" r="0.73" fill="#54487e"/><circle cx="367.7" cy="639.3" r="0.84" fill="#6b5f98"/><circle cx="360.0" cy="639.4" r="0.88" fill="#84405e"/><circle cx="361.2" cy="645.3" r="0.57" fill="#54487e"/><circle cx="352.5" cy="642.2" r="0.88" fill="#7a6ea6"/><circle cx="366.9" cy="647.6" r="0.66" fill="#84405e"/><circle cx="367.0" cy="649.3" r="0.58" fill="#7a6ea6"/><circle cx="362.6" cy="649.0" r="0.85" fill="#5c5088"/><circle cx="354.7" cy="641.7" r="0.99" fill="#6b5f98"/><circle cx="379.2" cy="647.9" r="0.69" fill="#7a6ea6"/><circle cx="379.7" cy="646.4" r="0.64" fill="#8a80b0"/><circle cx="362.8" cy="641.1" r="0.89" fill="#54487e"/><circle cx="361.2" cy="641.7" r="0.63" fill="#8a80b0"/><circle cx="375.4" cy="647.5" r="0.99" fill="#675a94"/><circle cx="360.6" cy="640.7" r="0.87" fill="#5c5088"/><circle cx="371.5" cy="647.1" r="0.53" fill="#6b5f98"/><circle cx="376.9" cy="646.0" r="0.51" fill="#84405e"/><circle cx="357.8" cy="642.6" r="0.94" fill="#5c5088"/><circle cx="360.0" cy="646.5" r="0.70" fill="#5c5088"/><circle cx="354.3" cy="641.5" r="0.95" fill="#8a80b0"/><circle cx="373.7" cy="648.5" r="0.78" fill="#7a6ea6"/><circle cx="375.5" cy="646.9" r="0.53" fill="#54487e"/><circle cx="356.1" cy="640.5" r="0.65" fill="#675a94"/><circle cx="370.7" cy="643.4" r="0.92" fill="#7a6ea6"/><circle cx="358.2" cy="647.8" r="0.84" fill="#6b5f98"/><circle cx="361.4" cy="649.5" r="0.92" fill="#84405e"/><circle cx="373.3" cy="647.3" r="0.83" fill="#6b5f98"/><circle cx="374.8" cy="649.5" r="0.99" fill="#5c5088"/><circle cx="365.1" cy="644.5" r="0.87" fill="#84405e"/><circle cx="357.4" cy="642.9" r="0.62" fill="#6b5f98"/><circle cx="362.1" cy="646.5" r="0.75" fill="#6b5f98"/><circle cx="357.0" cy="644.5" r="0.70" fill="#84405e"/><circle cx="365.3" cy="643.4" r="0.82" fill="#675a94"/><circle cx="365.1" cy="650.2" r="0.87" fill="#5c5088"/><circle cx="373.2" cy="643.1" r="0.96" fill="#675a94"/><circle cx="368.6" cy="649.3" r="0.76" fill="#8a80b0"/><circle cx="364.4" cy="638.7" r="0.98" fill="#7a6ea6"/><circle cx="357.2" cy="643.2" r="0.68" fill="#54487e"/><circle cx="371.9" cy="640.1" r="0.96" fill="#6b5f98"/><circle cx="364.8" cy="645.9" r="0.51" fill="#7a6ea6"/><circle cx="363.9" cy="639.7" r="0.76" fill="#84405e"/><circle cx="366.5" cy="648.2" r="0.55" fill="#84405e"/><circle cx="373.3" cy="648.9" r="0.61" fill="#54487e"/><circle cx="364.0" cy="643.4" r="0.85" fill="#8a80b0"/><circle cx="357.1" cy="642.4" r="0.66" fill="#54487e"/><circle cx="380.2" cy="644.9" r="0.88" fill="#6b5f98"/><circle cx="371.1" cy="640.4" r="0.98" fill="#84405e"/><circle cx="367.8" cy="648.8" r="0.59" fill="#54487e"/><circle cx="367.5" cy="648.4" r="0.93" fill="#5c5088"/><circle cx="366.1" cy="650.2" r="0.93" fill="#54487e"/><circle cx="366.3" cy="650.6" r="0.78" fill="#7a6ea6"/><circle cx="355.6" cy="644.2" r="0.52" fill="#7a6ea6"/><circle cx="369.1" cy="641.9" r="0.64" fill="#8a80b0"/><circle cx="357.5" cy="646.7" r="0.53" fill="#84405e"/><circle cx="372.5" cy="648.2" r="0.62" fill="#5c5088"/><circle cx="358.0" cy="649.2" r="0.62" fill="#7a6ea6"/><circle cx="368.6" cy="647.9" r="0.87" fill="#54487e"/><circle cx="368.8" cy="641.3" r="0.92" fill="#8a80b0"/><circle cx="379.3" cy="644.3" r="0.54" fill="#6b5f98"/><circle cx="377.9" cy="645.8" r="0.71" fill="#5c5088"/><circle cx="364.8" cy="646.8" r="1.00" fill="#5c5088"/><circle cx="363.2" cy="647.9" r="1.00" fill="#7a6ea6"/><circle cx="355.8" cy="643.8" r="0.81" fill="#5c5088"/><circle cx="360.3" cy="646.8" r="0.72" fill="#7a6ea6"/><circle cx="356.8" cy="642.6" r="0.75" fill="#7a6ea6"/><circle cx="363.5" cy="649.4" r="0.88" fill="#675a94"/><circle cx="365.6" cy="650.8" r="0.74" fill="#7a6ea6"/><circle cx="365.2" cy="645.1" r="0.75" fill="#7a6ea6"/><circle cx="353.2" cy="647.6" r="0.98" fill="#8a80b0"/><circle cx="354.0" cy="648.0" r="0.67" fill="#54487e"/><circle cx="371.7" cy="643.6" r="0.58" fill="#84405e"/><circle cx="376.0" cy="645.6" r="0.52" fill="#84405e"/></g>
<g opacity="0.65"><circle cx="383.2" cy="674.2" r="0.96" fill="#8a80b0"/><circle cx="389.3" cy="666.2" r="0.83" fill="#54487e"/><circle cx="319.4" cy="655.8" r="0.68" fill="#8a6a80"/><circle cx="393.2" cy="673.5" r="0.84" fill="#5c5088"/><circle cx="334.1" cy="663.7" r="0.59" fill="#6b5f98"/><circle cx="341.2" cy="672.4" r="0.51" fill="#5c5088"/><circle cx="385.1" cy="668.2" r="0.76" fill="#6b5f98"/><circle cx="360.8" cy="675.1" r="0.66" fill="#8a80b0"/><circle cx="301.6" cy="657.4" r="0.80" fill="#8a6a80"/><circle cx="344.8" cy="673.1" r="0.53" fill="#8a6a80"/><circle cx="300.1" cy="656.3" r="0.91" fill="#7a6ea6"/><circle cx="375.5" cy="666.8" r="0.53" fill="#8a6a80"/><circle cx="324.8" cy="658.4" r="0.53" fill="#5c5088"/><circle cx="312.0" cy="664.6" r="0.96" fill="#7a6ea6"/><circle cx="314.5" cy="655.2" r="0.92" fill="#6b5f98"/><circle cx="394.7" cy="670.1" r="0.55" fill="#8a6a80"/><circle cx="333.0" cy="673.5" r="0.52" fill="#6b5f98"/><circle cx="325.0" cy="654.8" r="0.85" fill="#54487e"/><circle cx="324.1" cy="657.1" r="0.59" fill="#675a94"/><circle cx="364.1" cy="678.6" r="0.68" fill="#8a6a80"/><circle cx="382.5" cy="670.5" r="0.72" fill="#8a80b0"/><circle cx="319.4" cy="665.4" r="0.59" fill="#7a6ea6"/><circle cx="339.3" cy="668.8" r="0.83" fill="#8a80b0"/><circle cx="313.8" cy="661.9" r="0.94" fill="#6b5f98"/><circle cx="385.1" cy="663.9" r="0.82" fill="#54487e"/><circle cx="386.8" cy="666.0" r="0.52" fill="#8a6a80"/><circle cx="331.7" cy="668.1" r="0.58" fill="#54487e"/><circle cx="305.0" cy="667.1" r="0.85" fill="#6b5f98"/><circle cx="357.0" cy="672.5" r="0.78" fill="#54487e"/><circle cx="382.7" cy="671.7" r="0.79" fill="#675a94"/><circle cx="328.4" cy="661.9" r="0.63" fill="#7a6ea6"/><circle cx="319.3" cy="665.1" r="0.66" fill="#8a6a80"/><circle cx="369.4" cy="668.5" r="0.79" fill="#675a94"/><circle cx="396.9" cy="678.1" r="0.99" fill="#8a80b0"/><circle cx="295.5" cy="663.0" r="0.79" fill="#5c5088"/><circle cx="391.2" cy="663.6" r="0.79" fill="#7a6ea6"/><circle cx="301.6" cy="665.8" r="0.80" fill="#8a80b0"/><circle cx="395.3" cy="677.3" r="0.54" fill="#8a80b0"/><circle cx="347.9" cy="668.3" r="0.86" fill="#7a6ea6"/><circle cx="310.9" cy="656.9" r="0.69" fill="#675a94"/><circle cx="392.7" cy="675.3" r="0.82" fill="#5c5088"/><circle cx="389.8" cy="668.9" r="0.84" fill="#54487e"/><circle cx="397.0" cy="664.3" r="0.92" fill="#8a6a80"/><circle cx="345.5" cy="676.4" r="0.77" fill="#54487e"/><circle cx="327.4" cy="669.9" r="0.93" fill="#5c5088"/><circle cx="305.6" cy="651.8" r="0.54" fill="#8a6a80"/><circle cx="297.8" cy="660.6" r="0.94" fill="#6b5f98"/><circle cx="354.3" cy="676.7" r="0.59" fill="#7a6ea6"/><circle cx="309.2" cy="666.3" r="0.63" fill="#7a6ea6"/><circle cx="343.8" cy="662.9" r="0.93" fill="#7a6ea6"/><circle cx="353.8" cy="661.6" r="0.58" fill="#675a94"/><circle cx="373.5" cy="676.5" r="0.82" fill="#675a94"/><circle cx="379.9" cy="670.6" r="0.73" fill="#5c5088"/><circle cx="313.5" cy="656.5" r="0.73" fill="#8a6a80"/><circle cx="344.4" cy="661.9" r="0.84" fill="#675a94"/><circle cx="357.9" cy="664.0" r="0.57" fill="#8a80b0"/><circle cx="386.3" cy="668.1" r="0.68" fill="#675a94"/><circle cx="392.5" cy="673.5" r="0.58" fill="#6b5f98"/><circle cx="357.3" cy="663.0" r="0.98" fill="#8a80b0"/><circle cx="374.3" cy="669.9" r="0.77" fill="#5c5088"/><circle cx="301.0" cy="658.6" r="0.98" fill="#8a80b0"/><circle cx="360.9" cy="677.8" r="0.84" fill="#5c5088"/><circle cx="396.8" cy="674.3" r="0.77" fill="#8a6a80"/><circle cx="328.6" cy="665.9" r="0.65" fill="#54487e"/><circle cx="337.4" cy="667.7" r="0.71" fill="#7a6ea6"/><circle cx="297.7" cy="658.9" r="0.56" fill="#8a6a80"/><circle cx="336.0" cy="669.1" r="0.96" fill="#7a6ea6"/><circle cx="298.3" cy="667.1" r="0.54" fill="#5c5088"/><circle cx="371.4" cy="674.8" r="0.76" fill="#5c5088"/><circle cx="321.5" cy="657.2" r="0.59" fill="#8a6a80"/><circle cx="320.8" cy="669.8" r="0.63" fill="#54487e"/><circle cx="365.5" cy="668.7" r="1.00" fill="#6b5f98"/><circle cx="308.2" cy="663.7" r="0.71" fill="#8a6a80"/><circle cx="360.6" cy="668.8" r="0.94" fill="#6b5f98"/><circle cx="318.6" cy="670.3" r="0.81" fill="#54487e"/><circle cx="378.7" cy="675.8" r="0.78" fill="#5c5088"/><circle cx="353.5" cy="663.0" r="0.58" fill="#7a6ea6"/><circle cx="307.8" cy="665.4" r="0.58" fill="#675a94"/><circle cx="307.9" cy="658.8" r="0.77" fill="#6b5f98"/><circle cx="299.5" cy="652.9" r="0.96" fill="#6b5f98"/><circle cx="342.9" cy="665.0" r="0.89" fill="#8a6a80"/><circle cx="388.5" cy="670.8" r="0.74" fill="#6b5f98"/><circle cx="342.4" cy="676.0" r="0.52" fill="#675a94"/><circle cx="342.7" cy="669.3" r="0.59" fill="#6b5f98"/><circle cx="347.8" cy="665.5" r="0.54" fill="#54487e"/><circle cx="304.3" cy="656.5" r="0.76" fill="#8a80b0"/><circle cx="338.5" cy="660.7" r="0.72" fill="#6b5f98"/><circle cx="396.4" cy="673.5" r="0.75" fill="#8a6a80"/><circle cx="339.3" cy="671.7" r="0.64" fill="#6b5f98"/><circle cx="346.4" cy="668.5" r="0.87" fill="#7a6ea6"/><circle cx="378.9" cy="674.9" r="0.72" fill="#54487e"/><circle cx="377.1" cy="678.8" r="0.50" fill="#7a6ea6"/><circle cx="377.3" cy="670.4" r="0.77" fill="#5c5088"/><circle cx="355.6" cy="665.4" r="0.84" fill="#7a6ea6"/><circle cx="302.8" cy="662.8" r="0.72" fill="#7a6ea6"/><circle cx="293.9" cy="659.0" r="1.00" fill="#54487e"/><circle cx="302.3" cy="662.6" r="0.63" fill="#6b5f98"/><circle cx="387.9" cy="671.1" r="0.53" fill="#675a94"/><circle cx="377.9" cy="664.6" r="0.72" fill="#54487e"/><circle cx="311.3" cy="662.1" r="0.99" fill="#6b5f98"/><circle cx="295.6" cy="655.5" r="0.53" fill="#675a94"/><circle cx="355.0" cy="672.7" r="0.68" fill="#54487e"/><circle cx="350.0" cy="667.6" r="0.59" fill="#7a6ea6"/><circle cx="307.4" cy="659.0" r="0.62" fill="#7a6ea6"/><circle cx="367.4" cy="664.4" r="0.69" fill="#54487e"/><circle cx="321.9" cy="654.5" r="0.68" fill="#8a6a80"/><circle cx="375.3" cy="668.9" r="0.95" fill="#8a6a80"/><circle cx="397.3" cy="674.4" r="0.97" fill="#675a94"/><circle cx="329.0" cy="659.0" r="0.86" fill="#7a6ea6"/><circle cx="355.5" cy="670.4" r="0.99" fill="#675a94"/><circle cx="365.6" cy="664.4" r="0.51" fill="#8a80b0"/><circle cx="321.9" cy="658.8" r="0.56" fill="#54487e"/><circle cx="393.0" cy="672.3" r="0.62" fill="#8a6a80"/><circle cx="387.5" cy="668.5" r="0.92" fill="#6b5f98"/><circle cx="359.0" cy="673.8" r="0.61" fill="#8a80b0"/><circle cx="366.4" cy="670.1" r="0.54" fill="#5c5088"/><circle cx="338.7" cy="674.9" r="0.72" fill="#54487e"/><circle cx="363.6" cy="673.8" r="0.64" fill="#6b5f98"/><circle cx="356.9" cy="661.6" r="0.98" fill="#675a94"/><circle cx="369.7" cy="666.7" r="0.67" fill="#6b5f98"/><circle cx="332.7" cy="662.8" r="0.63" fill="#8a80b0"/><circle cx="311.0" cy="667.5" r="0.92" fill="#8a6a80"/><circle cx="381.6" cy="666.1" r="0.58" fill="#54487e"/><circle cx="338.4" cy="663.8" r="0.53" fill="#54487e"/><circle cx="326.9" cy="669.8" r="0.95" fill="#8a80b0"/><circle cx="379.4" cy="676.6" r="0.69" fill="#6b5f98"/><circle cx="317.4" cy="660.6" r="0.70" fill="#675a94"/><circle cx="374.8" cy="670.1" r="0.59" fill="#8a6a80"/><circle cx="313.5" cy="654.4" r="0.66" fill="#7a6ea6"/><circle cx="310.2" cy="655.3" r="0.51" fill="#54487e"/><circle cx="328.5" cy="658.8" r="0.93" fill="#7a6ea6"/><circle cx="330.7" cy="669.3" r="0.94" fill="#6b5f98"/><circle cx="308.0" cy="660.6" r="0.93" fill="#6b5f98"/><circle cx="377.8" cy="667.1" r="0.66" fill="#8a80b0"/><circle cx="346.1" cy="663.5" r="0.67" fill="#8a80b0"/><circle cx="336.7" cy="664.6" r="0.67" fill="#7a6ea6"/><circle cx="389.6" cy="672.3" r="0.78" fill="#5c5088"/><circle cx="358.6" cy="673.5" r="0.73" fill="#6b5f98"/><circle cx="310.7" cy="660.0" r="0.80" fill="#7a6ea6"/><circle cx="387.6" cy="670.1" r="0.90" fill="#6b5f98"/><circle cx="367.2" cy="675.2" r="0.97" fill="#6b5f98"/><circle cx="359.5" cy="665.0" r="0.50" fill="#6b5f98"/><circle cx="298.3" cy="650.4" r="0.71" fill="#8a80b0"/><circle cx="372.9" cy="669.1" r="0.68" fill="#54487e"/><circle cx="322.4" cy="663.1" r="0.56" fill="#5c5088"/><circle cx="326.0" cy="661.5" r="0.92" fill="#675a94"/><circle cx="354.5" cy="662.1" r="0.98" fill="#5c5088"/><circle cx="301.1" cy="667.6" r="0.82" fill="#7a6ea6"/><circle cx="366.1" cy="664.2" r="0.58" fill="#6b5f98"/><circle cx="352.8" cy="660.5" r="1.00" fill="#7a6ea6"/><circle cx="383.3" cy="667.9" r="0.59" fill="#54487e"/><circle cx="378.8" cy="679.1" r="0.91" fill="#6b5f98"/><circle cx="301.6" cy="666.0" r="0.66" fill="#8a80b0"/><circle cx="306.0" cy="659.5" r="0.60" fill="#7a6ea6"/><circle cx="309.6" cy="663.8" r="0.63" fill="#54487e"/><circle cx="336.5" cy="670.7" r="0.83" fill="#8a6a80"/><circle cx="353.6" cy="669.7" r="0.86" fill="#54487e"/><circle cx="296.2" cy="655.3" r="0.84" fill="#675a94"/><circle cx="335.8" cy="670.0" r="0.66" fill="#7a6ea6"/><circle cx="359.7" cy="670.8" r="0.58" fill="#6b5f98"/><circle cx="294.0" cy="660.4" r="0.80" fill="#54487e"/><circle cx="325.3" cy="669.3" r="0.59" fill="#8a6a80"/><circle cx="291.5" cy="664.6" r="0.72" fill="#8a6a80"/><circle cx="387.3" cy="678.2" r="0.60" fill="#54487e"/><circle cx="363.9" cy="664.2" r="0.69" fill="#6b5f98"/><circle cx="310.4" cy="654.1" r="0.58" fill="#5c5088"/><circle cx="353.5" cy="673.2" r="0.54" fill="#7a6ea6"/><circle cx="388.9" cy="680.0" r="0.78" fill="#6b5f98"/><circle cx="313.2" cy="656.3" r="0.55" fill="#54487e"/><circle cx="389.1" cy="678.2" r="0.57" fill="#54487e"/><circle cx="383.7" cy="677.2" r="0.91" fill="#7a6ea6"/><circle cx="352.1" cy="676.7" r="0.76" fill="#7a6ea6"/><circle cx="357.5" cy="664.9" r="0.61" fill="#8a6a80"/><circle cx="359.2" cy="667.3" r="0.74" fill="#675a94"/><circle cx="357.8" cy="663.9" r="0.75" fill="#54487e"/><circle cx="378.6" cy="676.5" r="0.71" fill="#7a6ea6"/><circle cx="397.3" cy="667.1" r="0.97" fill="#54487e"/><circle cx="327.6" cy="669.3" r="0.55" fill="#5c5088"/><circle cx="364.1" cy="670.2" r="0.69" fill="#675a94"/><circle cx="326.7" cy="669.0" r="0.94" fill="#5c5088"/><circle cx="369.6" cy="665.1" r="0.78" fill="#675a94"/><circle cx="338.8" cy="660.7" r="0.84" fill="#6b5f98"/><circle cx="393.7" cy="670.9" r="0.84" fill="#8a80b0"/><circle cx="342.6" cy="661.4" r="0.59" fill="#7a6ea6"/><circle cx="350.8" cy="675.1" r="0.69" fill="#7a6ea6"/><circle cx="296.9" cy="660.0" r="0.59" fill="#8a80b0"/><circle cx="331.0" cy="664.7" r="0.92" fill="#6b5f98"/><circle cx="329.6" cy="671.1" r="0.82" fill="#6b5f98"/><circle cx="380.0" cy="676.8" r="0.65" fill="#54487e"/><circle cx="344.8" cy="662.2" r="0.67" fill="#6b5f98"/><circle cx="393.6" cy="680.2" r="0.58" fill="#5c5088"/><circle cx="325.1" cy="668.7" r="0.90" fill="#6b5f98"/><circle cx="298.2" cy="653.8" r="0.63" fill="#8a6a80"/><circle cx="300.1" cy="653.7" r="0.50" fill="#8a80b0"/><circle cx="328.1" cy="669.0" r="0.86" fill="#6b5f98"/><circle cx="343.1" cy="660.8" r="0.87" fill="#8a80b0"/><circle cx="392.9" cy="680.4" r="0.60" fill="#6b5f98"/><circle cx="367.9" cy="669.5" r="0.97" fill="#8a80b0"/><circle cx="329.5" cy="656.8" r="0.97" fill="#675a94"/><circle cx="390.6" cy="673.4" r="0.77" fill="#8a6a80"/><circle cx="381.3" cy="677.6" r="0.95" fill="#8a6a80"/><circle cx="379.9" cy="664.3" r="0.61" fill="#675a94"/><circle cx="344.8" cy="668.1" r="0.56" fill="#54487e"/><circle cx="372.1" cy="670.4" r="0.50" fill="#5c5088"/><circle cx="389.5" cy="677.8" r="0.73" fill="#7a6ea6"/><circle cx="357.7" cy="672.0" r="0.97" fill="#7a6ea6"/><circle cx="390.1" cy="674.7" r="0.51" fill="#8a80b0"/><circle cx="361.2" cy="665.6" r="0.53" fill="#6b5f98"/><circle cx="299.3" cy="664.0" r="0.65" fill="#675a94"/><circle cx="322.0" cy="666.5" r="0.53" fill="#5c5088"/><circle cx="312.8" cy="668.1" r="0.85" fill="#675a94"/><circle cx="389.6" cy="676.1" r="0.95" fill="#6b5f98"/><circle cx="381.9" cy="679.9" r="0.69" fill="#8a80b0"/><circle cx="330.7" cy="659.3" r="0.74" fill="#54487e"/><circle cx="384.0" cy="676.3" r="0.64" fill="#6b5f98"/><circle cx="310.8" cy="656.6" r="0.96" fill="#7a6ea6"/><circle cx="384.0" cy="673.9" r="0.68" fill="#675a94"/><circle cx="328.9" cy="671.8" r="0.95" fill="#7a6ea6"/><circle cx="307.9" cy="658.8" r="0.52" fill="#8a80b0"/><circle cx="372.5" cy="670.6" r="0.88" fill="#6b5f98"/><circle cx="303.3" cy="659.7" r="0.91" fill="#8a6a80"/><circle cx="383.4" cy="677.1" r="0.54" fill="#6b5f98"/><circle cx="332.0" cy="667.3" r="0.91" fill="#675a94"/><circle cx="336.8" cy="658.5" r="0.64" fill="#8a80b0"/><circle cx="380.8" cy="667.6" r="0.92" fill="#6b5f98"/><circle cx="306.8" cy="662.8" r="0.65" fill="#6b5f98"/><circle cx="295.9" cy="651.1" r="0.85" fill="#675a94"/><circle cx="365.8" cy="667.2" r="0.79" fill="#6b5f98"/><circle cx="359.1" cy="666.9" r="0.78" fill="#54487e"/><circle cx="294.6" cy="658.7" r="0.67" fill="#5c5088"/><circle cx="300.1" cy="664.9" r="0.65" fill="#5c5088"/><circle cx="351.5" cy="676.0" r="0.76" fill="#675a94"/><circle cx="343.0" cy="675.3" r="0.63" fill="#8a6a80"/><circle cx="323.2" cy="663.6" r="0.56" fill="#8a6a80"/><circle cx="293.4" cy="664.4" r="0.59" fill="#5c5088"/><circle cx="331.3" cy="659.0" r="0.83" fill="#5c5088"/><circle cx="296.8" cy="661.1" r="0.76" fill="#8a80b0"/><circle cx="316.0" cy="669.3" r="0.70" fill="#54487e"/><circle cx="379.5" cy="674.8" r="0.78" fill="#54487e"/><circle cx="356.9" cy="670.8" r="0.76" fill="#7a6ea6"/><circle cx="396.8" cy="679.9" r="0.89" fill="#675a94"/><circle cx="375.8" cy="664.9" r="0.84" fill="#6b5f98"/><circle cx="339.3" cy="673.3" r="0.63" fill="#8a6a80"/><circle cx="385.9" cy="668.8" r="0.68" fill="#8a6a80"/><circle cx="340.4" cy="669.9" r="0.59" fill="#7a6ea6"/><circle cx="330.5" cy="670.9" r="0.76" fill="#7a6ea6"/><circle cx="343.2" cy="673.0" r="0.99" fill="#5c5088"/><circle cx="348.1" cy="663.4" r="0.96" fill="#8a80b0"/><circle cx="331.4" cy="656.2" r="0.93" fill="#8a80b0"/><circle cx="293.6" cy="665.9" r="0.70" fill="#7a6ea6"/><circle cx="308.7" cy="659.7" r="0.71" fill="#54487e"/><circle cx="299.4" cy="655.4" r="0.99" fill="#5c5088"/><circle cx="317.7" cy="655.2" r="0.92" fill="#6b5f98"/><circle cx="387.6" cy="677.3" r="0.58" fill="#675a94"/><circle cx="381.1" cy="670.3" r="0.60" fill="#54487e"/><circle cx="362.0" cy="677.5" r="0.91" fill="#675a94"/><circle cx="346.4" cy="668.2" r="0.75" fill="#6b5f98"/><circle cx="352.1" cy="673.1" r="0.97" fill="#5c5088"/><circle cx="372.5" cy="676.4" r="0.72" fill="#8a80b0"/><circle cx="392.5" cy="668.9" r="0.55" fill="#675a94"/><circle cx="341.2" cy="662.7" r="0.84" fill="#54487e"/><circle cx="326.4" cy="658.4" r="0.83" fill="#7a6ea6"/><circle cx="375.0" cy="671.1" r="0.90" fill="#54487e"/><circle cx="342.1" cy="659.6" r="0.72" fill="#6b5f98"/><circle cx="375.7" cy="678.5" r="0.87" fill="#675a94"/><circle cx="302.7" cy="665.5" r="0.89" fill="#675a94"/><circle cx="380.5" cy="668.7" r="0.75" fill="#8a80b0"/><circle cx="310.1" cy="660.7" r="0.66" fill="#675a94"/><circle cx="379.7" cy="669.2" r="0.51" fill="#6b5f98"/><circle cx="315.0" cy="667.4" r="0.74" fill="#8a80b0"/><circle cx="369.9" cy="672.8" r="0.79" fill="#6b5f98"/><circle cx="389.4" cy="670.5" r="0.98" fill="#8a80b0"/><circle cx="377.4" cy="665.2" r="0.83" fill="#8a80b0"/><circle cx="393.4" cy="673.7" r="0.56" fill="#675a94"/><circle cx="395.0" cy="680.3" r="0.88" fill="#6b5f98"/><circle cx="390.3" cy="668.2" r="0.96" fill="#8a6a80"/><circle cx="395.6" cy="667.7" r="0.79" fill="#8a80b0"/><circle cx="299.7" cy="663.6" r="0.81" fill="#5c5088"/><circle cx="360.3" cy="677.4" r="0.78" fill="#675a94"/><circle cx="303.1" cy="666.2" r="0.82" fill="#675a94"/><circle cx="335.7" cy="665.4" r="0.82" fill="#675a94"/><circle cx="310.7" cy="668.3" r="0.51" fill="#5c5088"/><circle cx="314.0" cy="656.8" r="0.96" fill="#7a6ea6"/><circle cx="352.4" cy="667.0" r="0.61" fill="#54487e"/><circle cx="364.2" cy="664.4" r="0.90" fill="#8a6a80"/><circle cx="298.9" cy="659.3" r="0.69" fill="#5c5088"/><circle cx="341.4" cy="661.4" r="0.78" fill="#8a6a80"/><circle cx="374.1" cy="663.6" r="0.64" fill="#8a80b0"/><circle cx="319.0" cy="656.1" r="0.92" fill="#8a80b0"/><circle cx="302.2" cy="652.1" r="0.69" fill="#5c5088"/><circle cx="309.2" cy="654.0" r="0.90" fill="#675a94"/><circle cx="330.8" cy="670.5" r="0.56" fill="#7a6ea6"/><circle cx="353.0" cy="660.5" r="0.93" fill="#8a6a80"/><circle cx="347.3" cy="672.9" r="0.89" fill="#54487e"/><circle cx="375.2" cy="665.7" r="0.59" fill="#54487e"/><circle cx="390.7" cy="677.9" r="0.78" fill="#5c5088"/><circle cx="363.9" cy="665.1" r="0.81" fill="#5c5088"/><circle cx="325.3" cy="666.7" r="0.84" fill="#6b5f98"/><circle cx="338.4" cy="671.1" r="0.65" fill="#6b5f98"/><circle cx="372.2" cy="674.7" r="0.90" fill="#675a94"/><circle cx="332.7" cy="657.9" r="0.70" fill="#7a6ea6"/><circle cx="323.5" cy="670.4" r="0.50" fill="#54487e"/><circle cx="376.9" cy="667.7" r="0.83" fill="#8a6a80"/><circle cx="389.4" cy="665.5" r="0.70" fill="#7a6ea6"/><circle cx="334.9" cy="664.5" r="0.67" fill="#8a80b0"/><circle cx="366.8" cy="664.5" r="0.69" fill="#5c5088"/><circle cx="381.5" cy="676.1" r="0.61" fill="#5c5088"/><circle cx="381.5" cy="678.2" r="0.82" fill="#8a80b0"/><circle cx="355.4" cy="676.6" r="0.97" fill="#8a80b0"/><circle cx="307.0" cy="666.4" r="0.63" fill="#5c5088"/><circle cx="377.4" cy="672.0" r="0.88" fill="#7a6ea6"/><circle cx="379.4" cy="663.6" r="0.94" fill="#8a6a80"/><circle cx="357.1" cy="663.2" r="0.82" fill="#54487e"/><circle cx="317.5" cy="664.4" r="0.65" fill="#675a94"/><circle cx="327.4" cy="662.8" r="0.73" fill="#8a6a80"/><circle cx="389.1" cy="674.1" r="0.59" fill="#5c5088"/><circle cx="302.4" cy="667.9" r="0.51" fill="#8a6a80"/><circle cx="383.6" cy="677.6" r="0.61" fill="#8a6a80"/><circle cx="305.3" cy="658.4" r="0.60" fill="#8a6a80"/><circle cx="293.3" cy="666.4" r="0.61" fill="#8a80b0"/><circle cx="330.1" cy="665.8" r="0.95" fill="#8a80b0"/><circle cx="383.4" cy="665.3" r="0.53" fill="#675a94"/><circle cx="308.5" cy="659.4" r="0.99" fill="#8a80b0"/><circle cx="361.8" cy="672.5" r="0.62" fill="#54487e"/><circle cx="382.6" cy="670.1" r="1.00" fill="#54487e"/><circle cx="375.9" cy="672.0" r="0.76" fill="#54487e"/><circle cx="315.8" cy="653.8" r="0.65" fill="#6b5f98"/><circle cx="324.8" cy="668.1" r="0.72" fill="#675a94"/><circle cx="387.3" cy="664.2" r="0.53" fill="#54487e"/><circle cx="337.7" cy="664.2" r="0.96" fill="#8a6a80"/><circle cx="356.6" cy="663.4" r="0.66" fill="#8a80b0"/><circle cx="324.8" cy="655.8" r="0.66" fill="#8a6a80"/><circle cx="389.4" cy="668.2" r="0.72" fill="#7a6ea6"/><circle cx="351.3" cy="663.4" r="0.91" fill="#8a80b0"/><circle cx="368.6" cy="664.9" r="0.86" fill="#8a6a80"/><circle cx="392.5" cy="664.6" r="0.65" fill="#5c5088"/><circle cx="360.7" cy="672.5" r="0.55" fill="#5c5088"/><circle cx="380.3" cy="677.8" r="0.51" fill="#8a80b0"/><circle cx="393.0" cy="675.7" r="0.65" fill="#7a6ea6"/><circle cx="326.6" cy="667.5" r="0.67" fill="#8a6a80"/><circle cx="388.2" cy="677.4" r="0.99" fill="#8a80b0"/><circle cx="320.8" cy="653.7" r="0.94" fill="#6b5f98"/><circle cx="389.5" cy="674.5" r="0.75" fill="#8a80b0"/><circle cx="334.1" cy="657.3" r="0.89" fill="#7a6ea6"/><circle cx="360.3" cy="661.5" r="0.63" fill="#54487e"/><circle cx="336.1" cy="664.9" r="0.87" fill="#54487e"/><circle cx="327.2" cy="663.6" r="0.59" fill="#7a6ea6"/><circle cx="358.0" cy="661.5" r="0.65" fill="#54487e"/><circle cx="335.7" cy="660.1" r="0.87" fill="#6b5f98"/><circle cx="368.3" cy="665.1" r="0.55" fill="#5c5088"/><circle cx="381.2" cy="678.5" r="0.97" fill="#5c5088"/><circle cx="351.6" cy="676.6" r="0.98" fill="#6b5f98"/><circle cx="329.0" cy="661.0" r="0.60" fill="#8a80b0"/><circle cx="373.0" cy="663.6" r="0.92" fill="#5c5088"/><circle cx="344.5" cy="674.8" r="0.64" fill="#7a6ea6"/><circle cx="348.8" cy="666.2" r="0.56" fill="#7a6ea6"/><circle cx="380.8" cy="673.3" r="0.72" fill="#5c5088"/><circle cx="360.2" cy="674.7" r="0.86" fill="#5c5088"/><circle cx="396.1" cy="677.0" r="0.78" fill="#8a80b0"/><circle cx="382.6" cy="665.8" r="0.94" fill="#675a94"/><circle cx="299.2" cy="654.7" r="0.62" fill="#7a6ea6"/><circle cx="322.6" cy="665.8" r="0.75" fill="#8a6a80"/><circle cx="383.6" cy="664.5" r="0.83" fill="#7a6ea6"/><circle cx="386.9" cy="671.6" r="0.52" fill="#5c5088"/><circle cx="294.8" cy="655.8" r="0.74" fill="#675a94"/><circle cx="343.3" cy="669.9" r="0.76" fill="#7a6ea6"/><circle cx="377.9" cy="667.2" r="0.88" fill="#8a80b0"/><circle cx="318.5" cy="659.0" r="0.70" fill="#8a6a80"/><circle cx="345.6" cy="667.9" r="0.74" fill="#7a6ea6"/><circle cx="311.4" cy="660.1" r="0.98" fill="#7a6ea6"/><circle cx="302.3" cy="653.5" r="0.60" fill="#675a94"/><circle cx="356.8" cy="662.3" r="0.55" fill="#675a94"/><circle cx="300.0" cy="661.3" r="0.90" fill="#8a80b0"/><circle cx="381.2" cy="669.3" r="0.91" fill="#8a6a80"/><circle cx="298.0" cy="653.3" r="0.60" fill="#5c5088"/><circle cx="379.3" cy="675.9" r="0.53" fill="#54487e"/><circle cx="306.0" cy="665.9" r="0.52" fill="#7a6ea6"/><circle cx="306.8" cy="659.9" r="0.97" fill="#54487e"/><circle cx="354.3" cy="661.2" r="0.96" fill="#5c5088"/><circle cx="299.7" cy="658.4" r="0.60" fill="#8a6a80"/><circle cx="328.0" cy="655.7" r="0.82" fill="#54487e"/><circle cx="349.1" cy="667.1" r="0.97" fill="#6b5f98"/><circle cx="384.6" cy="664.5" r="1.00" fill="#6b5f98"/><circle cx="396.9" cy="677.8" r="0.87" fill="#6b5f98"/><circle cx="391.0" cy="671.9" r="0.75" fill="#7a6ea6"/><circle cx="393.4" cy="665.7" r="0.94" fill="#8a80b0"/><circle cx="353.6" cy="664.7" r="0.73" fill="#54487e"/><circle cx="361.2" cy="676.9" r="0.76" fill="#675a94"/><circle cx="345.9" cy="663.2" r="0.51" fill="#5c5088"/><circle cx="329.3" cy="657.7" r="0.71" fill="#6b5f98"/><circle cx="317.8" cy="661.4" r="0.94" fill="#54487e"/><circle cx="339.8" cy="663.3" r="0.86" fill="#7a6ea6"/><circle cx="333.5" cy="666.9" r="0.89" fill="#7a6ea6"/><circle cx="300.9" cy="664.8" r="0.90" fill="#6b5f98"/><circle cx="332.5" cy="658.3" r="0.87" fill="#5c5088"/><circle cx="342.4" cy="670.0" r="0.83" fill="#675a94"/><circle cx="305.2" cy="664.3" r="0.79" fill="#7a6ea6"/><circle cx="358.0" cy="668.4" r="0.72" fill="#675a94"/><circle cx="361.3" cy="664.1" r="0.63" fill="#5c5088"/><circle cx="304.8" cy="656.8" r="0.56" fill="#8a80b0"/><circle cx="379.0" cy="665.5" r="0.52" fill="#675a94"/><circle cx="297.3" cy="651.1" r="0.85" fill="#8a6a80"/><circle cx="390.5" cy="679.0" r="0.95" fill="#7a6ea6"/><circle cx="329.9" cy="670.1" r="0.94" fill="#8a80b0"/><circle cx="383.9" cy="667.5" r="0.90" fill="#8a6a80"/><circle cx="348.2" cy="670.0" r="0.99" fill="#54487e"/><circle cx="396.0" cy="680.0" r="0.71" fill="#7a6ea6"/><circle cx="312.4" cy="660.0" r="0.79" fill="#8a6a80"/><circle cx="322.1" cy="664.1" r="0.71" fill="#7a6ea6"/><circle cx="308.6" cy="659.3" r="0.61" fill="#5c5088"/><circle cx="303.6" cy="665.0" r="0.59" fill="#54487e"/><circle cx="373.5" cy="675.7" r="0.53" fill="#8a6a80"/><circle cx="295.3" cy="656.9" r="0.81" fill="#54487e"/><circle cx="370.4" cy="670.5" r="0.66" fill="#7a6ea6"/><circle cx="341.4" cy="667.8" r="0.57" fill="#675a94"/><circle cx="352.4" cy="670.5" r="0.64" fill="#8a6a80"/><circle cx="326.5" cy="667.1" r="0.61" fill="#675a94"/><circle cx="334.9" cy="664.6" r="0.94" fill="#54487e"/><circle cx="349.5" cy="674.1" r="0.65" fill="#8a6a80"/><circle cx="397.6" cy="666.1" r="0.68" fill="#6b5f98"/></g>
<g opacity="0.45"><circle cx="308.2" cy="696.7" r="0.53" fill="#675a94"/><circle cx="306.0" cy="685.3" r="0.89" fill="#7a6ea6"/><circle cx="310.3" cy="691.6" r="0.47" fill="#54487e"/><circle cx="306.1" cy="692.9" r="0.67" fill="#6b5f98"/><circle cx="314.2" cy="694.0" r="0.49" fill="#5c5088"/><circle cx="305.1" cy="690.0" r="0.70" fill="#5c5088"/><circle cx="317.8" cy="694.6" r="0.74" fill="#54487e"/><circle cx="316.9" cy="693.2" r="0.84" fill="#54487e"/><circle cx="313.8" cy="691.2" r="0.41" fill="#675a94"/><circle cx="304.2" cy="690.5" r="0.81" fill="#675a94"/><circle cx="318.8" cy="685.1" r="0.64" fill="#675a94"/><circle cx="316.1" cy="687.5" r="0.42" fill="#5c5088"/><circle cx="304.1" cy="695.6" r="0.46" fill="#54487e"/><circle cx="316.7" cy="694.5" r="0.68" fill="#54487e"/><circle cx="313.4" cy="692.9" r="0.54" fill="#5c5088"/><circle cx="312.6" cy="685.7" r="0.79" fill="#6b5f98"/><circle cx="312.7" cy="687.6" r="0.49" fill="#8a80b0"/><circle cx="306.2" cy="686.3" r="0.71" fill="#54487e"/><circle cx="321.1" cy="690.3" r="0.55" fill="#675a94"/><circle cx="302.2" cy="685.9" r="0.66" fill="#8a80b0"/><circle cx="308.1" cy="691.3" r="0.48" fill="#5c5088"/><circle cx="305.6" cy="684.3" r="0.70" fill="#7a6ea6"/><circle cx="301.1" cy="686.7" r="0.83" fill="#54487e"/><circle cx="321.2" cy="690.1" r="0.48" fill="#8a80b0"/><circle cx="313.6" cy="690.7" r="0.55" fill="#7a6ea6"/></g>
</g></g>
<clipPath id="cg4"><rect x="406.9" y="617.5" width="104.30000000000001" height="86.29999999999995"/></clipPath>
<rect x="406.9" y="617.5" width="104.30000000000001" height="86.29999999999995" fill="#ebe8ec"/>
<g clip-path="url(#cg4)"><g filter="url(#blur06)">
<g opacity="0.5"><circle cx="417.7" cy="629.8" r="0.56" fill="#b8aecb"/><circle cx="436.3" cy="627.2" r="0.53" fill="#b8aecb"/><circle cx="447.4" cy="687.0" r="0.44" fill="#c4bccf"/><circle cx="469.7" cy="656.1" r="0.70" fill="#b8aecb"/><circle cx="487.2" cy="663.2" r="0.72" fill="#aea4c4"/><circle cx="498.5" cy="666.1" r="0.64" fill="#b8aecb"/><circle cx="499.3" cy="644.0" r="0.56" fill="#aea4c4"/><circle cx="506.1" cy="652.9" r="0.78" fill="#c4bccf"/><circle cx="437.9" cy="628.1" r="0.70" fill="#aea4c4"/><circle cx="416.7" cy="646.3" r="0.66" fill="#c4bccf"/><circle cx="453.7" cy="688.1" r="0.54" fill="#c4bccf"/><circle cx="481.0" cy="624.1" r="0.53" fill="#b8aecb"/><circle cx="441.9" cy="677.4" r="0.56" fill="#c4bccf"/><circle cx="486.6" cy="665.0" r="0.55" fill="#c4bccf"/><circle cx="498.5" cy="671.6" r="0.68" fill="#aea4c4"/><circle cx="492.1" cy="662.6" r="0.62" fill="#aea4c4"/><circle cx="462.2" cy="627.0" r="0.50" fill="#aea4c4"/><circle cx="418.3" cy="675.5" r="0.66" fill="#aea4c4"/><circle cx="427.8" cy="680.1" r="0.70" fill="#b8aecb"/><circle cx="444.5" cy="694.2" r="0.46" fill="#aea4c4"/><circle cx="497.4" cy="683.3" r="0.63" fill="#c4bccf"/><circle cx="495.0" cy="635.9" r="0.53" fill="#aea4c4"/><circle cx="483.5" cy="658.8" r="0.72" fill="#c4bccf"/><circle cx="451.0" cy="626.4" r="0.65" fill="#b8aecb"/><circle cx="464.9" cy="687.4" r="0.61" fill="#aea4c4"/><circle cx="481.6" cy="659.0" r="0.74" fill="#b8aecb"/><circle cx="404.0" cy="658.0" r="0.73" fill="#c4bccf"/><circle cx="474.3" cy="619.1" r="0.45" fill="#b8aecb"/><circle cx="412.7" cy="651.0" r="0.49" fill="#aea4c4"/><circle cx="452.2" cy="622.0" r="0.76" fill="#aea4c4"/><circle cx="505.5" cy="667.2" r="0.61" fill="#aea4c4"/><circle cx="441.1" cy="702.8" r="0.78" fill="#aea4c4"/><circle cx="426.9" cy="653.8" r="0.57" fill="#aea4c4"/><circle cx="441.0" cy="626.4" r="0.57" fill="#aea4c4"/><circle cx="427.4" cy="635.0" r="0.41" fill="#c4bccf"/><circle cx="449.0" cy="697.8" r="0.72" fill="#c4bccf"/><circle cx="468.7" cy="642.0" r="0.69" fill="#aea4c4"/><circle cx="472.4" cy="630.3" r="0.58" fill="#c4bccf"/><circle cx="447.1" cy="623.8" r="0.78" fill="#c4bccf"/><circle cx="423.5" cy="692.4" r="0.75" fill="#aea4c4"/><circle cx="492.8" cy="659.0" r="0.47" fill="#c4bccf"/><circle cx="443.6" cy="670.0" r="0.64" fill="#c4bccf"/><circle cx="441.4" cy="668.8" r="0.44" fill="#c4bccf"/><circle cx="439.3" cy="679.6" r="0.73" fill="#b8aecb"/><circle cx="467.8" cy="689.3" r="0.43" fill="#aea4c4"/><circle cx="427.2" cy="660.2" r="0.40" fill="#b8aecb"/><circle cx="512.9" cy="663.1" r="0.78" fill="#c4bccf"/><circle cx="461.8" cy="621.8" r="0.61" fill="#aea4c4"/><circle cx="464.7" cy="647.5" r="0.63" fill="#aea4c4"/><circle cx="431.2" cy="688.9" r="0.41" fill="#c4bccf"/><circle cx="409.5" cy="664.7" r="0.61" fill="#c4bccf"/><circle cx="410.9" cy="677.7" r="0.54" fill="#b8aecb"/><circle cx="489.2" cy="691.3" r="0.58" fill="#b8aecb"/><circle cx="461.6" cy="639.7" r="0.61" fill="#aea4c4"/><circle cx="455.2" cy="685.2" r="0.50" fill="#aea4c4"/><circle cx="464.5" cy="691.4" r="0.48" fill="#b8aecb"/><circle cx="462.7" cy="692.1" r="0.42" fill="#c4bccf"/><circle cx="440.8" cy="651.7" r="0.74" fill="#c4bccf"/><circle cx="413.2" cy="679.2" r="0.45" fill="#c4bccf"/><circle cx="451.7" cy="668.3" r="0.67" fill="#aea4c4"/></g>
<ellipse cx="436" cy="631" rx="29" ry="13" fill="#dcd4e8" opacity="0.7" transform="rotate(0 436 631)" filter="url(#blur2)"/>
<ellipse cx="492" cy="626" rx="14" ry="9" fill="#dcd4e8" opacity="0.6" transform="rotate(0 492 626)" filter="url(#blur2)"/>
<ellipse cx="486" cy="648" rx="13" ry="7" fill="#dcd4e8" opacity="0.7" transform="rotate(0 486 648)" filter="url(#blur2)"/>
<polyline points="409,667 440,670 470,672 511,676" fill="none" stroke="#dcd4e8" stroke-width="22" stroke-linecap="round" opacity="0.7" filter="url(#blur2)"/>
<g opacity="0.72"><circle cx="450.2" cy="633.6" r="0.70" fill="#6b5f98"/><circle cx="411.4" cy="624.9" r="0.63" fill="#6b5f98"/><circle cx="412.2" cy="636.1" r="0.56" fill="#7a6ea6"/><circle cx="413.5" cy="633.2" r="0.56" fill="#8a80b0"/><circle cx="425.7" cy="630.4" r="0.59" fill="#8a80b0"/><circle cx="434.4" cy="622.1" r="0.71" fill="#8a80b0"/><circle cx="443.1" cy="629.8" r="1.00" fill="#6b5f98"/><circle cx="412.1" cy="624.3" r="0.94" fill="#7a6ea6"/><circle cx="412.7" cy="635.6" r="0.73" fill="#8a80b0"/><circle cx="429.1" cy="621.6" r="0.98" fill="#8a80b0"/><circle cx="418.4" cy="630.1" r="0.80" fill="#675a94"/><circle cx="463.7" cy="632.5" r="0.68" fill="#7a6ea6"/><circle cx="441.4" cy="639.2" r="0.63" fill="#8a80b0"/><circle cx="429.9" cy="642.4" r="0.74" fill="#54487e"/><circle cx="452.1" cy="621.7" r="0.63" fill="#5c5088"/><circle cx="411.7" cy="626.0" r="0.76" fill="#54487e"/><circle cx="433.9" cy="643.2" r="0.98" fill="#8a80b0"/><circle cx="410.0" cy="629.2" r="0.51" fill="#675a94"/><circle cx="450.3" cy="626.9" r="0.68" fill="#7a6ea6"/><circle cx="428.0" cy="634.1" r="0.80" fill="#5c5088"/><circle cx="449.7" cy="640.0" r="0.53" fill="#54487e"/><circle cx="424.7" cy="633.8" r="0.94" fill="#6b5f98"/><circle cx="449.8" cy="627.3" r="0.96" fill="#6b5f98"/><circle cx="459.4" cy="637.1" r="0.89" fill="#7a6ea6"/><circle cx="440.9" cy="622.1" r="0.96" fill="#54487e"/><circle cx="443.3" cy="626.1" r="0.65" fill="#675a94"/><circle cx="434.2" cy="625.5" r="0.99" fill="#6b5f98"/><circle cx="414.2" cy="636.9" r="0.95" fill="#6b5f98"/><circle cx="452.3" cy="621.1" r="0.51" fill="#6b5f98"/><circle cx="457.1" cy="631.8" r="0.85" fill="#7a6ea6"/><circle cx="430.2" cy="623.8" r="0.88" fill="#675a94"/><circle cx="431.2" cy="638.0" r="0.94" fill="#675a94"/><circle cx="417.3" cy="631.8" r="0.85" fill="#54487e"/><circle cx="450.0" cy="623.9" r="0.68" fill="#5c5088"/><circle cx="429.9" cy="640.4" r="0.69" fill="#54487e"/><circle cx="435.8" cy="636.2" r="0.79" fill="#7a6ea6"/><circle cx="426.8" cy="628.7" r="0.91" fill="#54487e"/><circle cx="410.3" cy="626.8" r="0.71" fill="#7a6ea6"/><circle cx="430.9" cy="632.7" r="0.54" fill="#6b5f98"/><circle cx="413.9" cy="632.1" r="0.77" fill="#54487e"/><circle cx="412.9" cy="636.0" r="0.52" fill="#6b5f98"/><circle cx="448.4" cy="639.5" r="0.84" fill="#7a6ea6"/><circle cx="442.8" cy="628.9" r="0.63" fill="#5c5088"/><circle cx="443.4" cy="642.2" r="0.59" fill="#5c5088"/><circle cx="461.9" cy="630.1" r="0.97" fill="#7a6ea6"/><circle cx="438.2" cy="630.5" r="1.00" fill="#675a94"/><circle cx="445.2" cy="633.1" r="0.93" fill="#675a94"/><circle cx="420.4" cy="635.1" r="0.57" fill="#6b5f98"/><circle cx="417.0" cy="622.2" r="0.80" fill="#5c5088"/><circle cx="429.4" cy="623.3" r="0.50" fill="#5c5088"/><circle cx="446.4" cy="640.3" r="0.57" fill="#5c5088"/><circle cx="428.2" cy="626.4" r="0.51" fill="#5c5088"/><circle cx="449.3" cy="630.8" r="0.50" fill="#7a6ea6"/><circle cx="412.5" cy="630.3" r="0.86" fill="#8a80b0"/><circle cx="436.1" cy="632.6" r="0.56" fill="#5c5088"/><circle cx="418.3" cy="632.1" r="0.60" fill="#675a94"/><circle cx="442.7" cy="627.8" r="0.54" fill="#6b5f98"/><circle cx="419.0" cy="632.9" r="0.96" fill="#5c5088"/><circle cx="417.6" cy="627.0" r="0.61" fill="#8a80b0"/><circle cx="423.6" cy="623.1" r="0.72" fill="#6b5f98"/><circle cx="445.7" cy="624.1" r="0.71" fill="#6b5f98"/><circle cx="431.8" cy="631.8" r="0.59" fill="#5c5088"/><circle cx="416.4" cy="635.2" r="0.58" fill="#54487e"/><circle cx="450.1" cy="623.5" r="0.79" fill="#7a6ea6"/><circle cx="419.6" cy="622.8" r="0.71" fill="#8a80b0"/><circle cx="427.6" cy="641.0" r="0.86" fill="#6b5f98"/><circle cx="445.7" cy="632.9" r="1.03" fill="#6b5f98"/><circle cx="413.9" cy="627.6" r="1.01" fill="#8a80b0"/><circle cx="437.7" cy="626.8" r="1.02" fill="#8a80b0"/><circle cx="439.7" cy="632.6" r="1.05" fill="#54487e"/><circle cx="438.2" cy="636.6" r="0.85" fill="#6b5f98"/><circle cx="420.1" cy="632.8" r="0.74" fill="#7a6ea6"/><circle cx="432.1" cy="630.2" r="0.90" fill="#6b5f98"/><circle cx="435.4" cy="629.1" r="0.89" fill="#54487e"/><circle cx="432.5" cy="637.2" r="0.89" fill="#8a80b0"/><circle cx="447.0" cy="619.1" r="0.77" fill="#675a94"/><circle cx="409.4" cy="630.2" r="0.79" fill="#5c5088"/><circle cx="424.7" cy="630.7" r="0.54" fill="#7a6ea6"/><circle cx="432.6" cy="643.2" r="0.76" fill="#5c5088"/><circle cx="437.7" cy="628.1" r="0.57" fill="#6b5f98"/><circle cx="443.1" cy="620.2" r="0.70" fill="#7a6ea6"/><circle cx="427.7" cy="626.3" r="0.91" fill="#8a80b0"/><circle cx="441.9" cy="639.3" r="0.58" fill="#7a6ea6"/><circle cx="458.7" cy="623.8" r="0.68" fill="#7a6ea6"/><circle cx="462.1" cy="629.4" r="0.82" fill="#6b5f98"/><circle cx="443.9" cy="633.5" r="0.96" fill="#5c5088"/><circle cx="446.6" cy="636.7" r="0.58" fill="#675a94"/><circle cx="439.6" cy="641.4" r="0.67" fill="#8a80b0"/><circle cx="444.0" cy="625.4" r="1.00" fill="#5c5088"/><circle cx="419.3" cy="631.4" r="0.63" fill="#8a80b0"/><circle cx="423.2" cy="630.7" r="1.04" fill="#6b5f98"/><circle cx="461.0" cy="630.2" r="0.98" fill="#8a80b0"/><circle cx="436.3" cy="635.9" r="0.64" fill="#6b5f98"/><circle cx="428.0" cy="639.2" r="0.76" fill="#8a80b0"/><circle cx="428.6" cy="640.2" r="1.00" fill="#7a6ea6"/><circle cx="457.0" cy="632.9" r="0.97" fill="#7a6ea6"/><circle cx="420.6" cy="624.9" r="0.50" fill="#8a80b0"/><circle cx="422.8" cy="642.0" r="0.90" fill="#675a94"/><circle cx="455.5" cy="625.4" r="0.56" fill="#5c5088"/><circle cx="441.3" cy="619.3" r="0.98" fill="#7a6ea6"/><circle cx="459.1" cy="634.8" r="0.84" fill="#675a94"/><circle cx="452.1" cy="627.0" r="0.66" fill="#6b5f98"/><circle cx="411.9" cy="628.1" r="0.75" fill="#5c5088"/><circle cx="451.7" cy="640.7" r="0.56" fill="#7a6ea6"/><circle cx="436.3" cy="643.2" r="0.99" fill="#8a80b0"/><circle cx="417.4" cy="626.2" r="0.68" fill="#8a80b0"/><circle cx="452.0" cy="622.8" r="0.65" fill="#8a80b0"/><circle cx="413.3" cy="637.5" r="0.73" fill="#7a6ea6"/><circle cx="420.5" cy="640.8" r="0.63" fill="#6b5f98"/><circle cx="426.1" cy="635.0" r="0.92" fill="#675a94"/><circle cx="427.9" cy="636.6" r="0.52" fill="#675a94"/><circle cx="415.0" cy="631.2" r="0.76" fill="#54487e"/><circle cx="433.0" cy="626.5" r="0.96" fill="#54487e"/><circle cx="412.8" cy="628.4" r="0.69" fill="#7a6ea6"/><circle cx="422.8" cy="634.6" r="1.03" fill="#5c5088"/><circle cx="452.3" cy="637.8" r="0.76" fill="#7a6ea6"/><circle cx="441.5" cy="621.1" r="0.62" fill="#7a6ea6"/><circle cx="451.0" cy="635.9" r="1.03" fill="#6b5f98"/><circle cx="422.8" cy="640.5" r="0.56" fill="#5c5088"/><circle cx="458.2" cy="632.6" r="0.83" fill="#6b5f98"/><circle cx="418.2" cy="623.1" r="0.73" fill="#675a94"/><circle cx="437.0" cy="621.0" r="0.62" fill="#54487e"/><circle cx="424.2" cy="637.0" r="0.71" fill="#8a80b0"/><circle cx="428.0" cy="643.1" r="0.82" fill="#7a6ea6"/><circle cx="411.9" cy="629.7" r="0.53" fill="#54487e"/><circle cx="432.3" cy="633.0" r="1.04" fill="#54487e"/><circle cx="431.7" cy="619.4" r="0.96" fill="#675a94"/><circle cx="434.5" cy="636.5" r="0.51" fill="#675a94"/><circle cx="422.6" cy="631.9" r="0.77" fill="#8a80b0"/><circle cx="429.6" cy="639.1" r="0.63" fill="#5c5088"/><circle cx="422.2" cy="639.8" r="1.00" fill="#5c5088"/><circle cx="421.9" cy="619.9" r="0.85" fill="#6b5f98"/><circle cx="424.8" cy="634.0" r="0.64" fill="#5c5088"/><circle cx="417.0" cy="627.5" r="0.93" fill="#54487e"/><circle cx="433.8" cy="638.4" r="0.56" fill="#675a94"/><circle cx="443.8" cy="632.9" r="1.01" fill="#675a94"/><circle cx="447.3" cy="628.9" r="0.51" fill="#5c5088"/><circle cx="423.8" cy="630.1" r="1.02" fill="#8a80b0"/><circle cx="430.0" cy="626.4" r="1.03" fill="#6b5f98"/><circle cx="442.9" cy="631.2" r="0.76" fill="#7a6ea6"/><circle cx="450.7" cy="620.3" r="0.52" fill="#54487e"/><circle cx="429.3" cy="620.6" r="0.84" fill="#6b5f98"/><circle cx="410.0" cy="629.7" r="0.96" fill="#675a94"/><circle cx="416.2" cy="627.0" r="0.87" fill="#6b5f98"/><circle cx="438.5" cy="622.3" r="0.89" fill="#54487e"/><circle cx="431.1" cy="635.5" r="0.60" fill="#675a94"/><circle cx="411.6" cy="632.5" r="1.02" fill="#675a94"/><circle cx="432.7" cy="642.5" r="0.83" fill="#5c5088"/><circle cx="418.2" cy="626.6" r="0.58" fill="#8a80b0"/><circle cx="447.8" cy="641.3" r="0.97" fill="#7a6ea6"/><circle cx="458.7" cy="638.0" r="0.54" fill="#675a94"/><circle cx="438.4" cy="642.3" r="0.77" fill="#6b5f98"/><circle cx="426.0" cy="641.6" r="0.93" fill="#675a94"/><circle cx="448.9" cy="621.7" r="0.80" fill="#5c5088"/><circle cx="445.1" cy="636.5" r="0.75" fill="#5c5088"/><circle cx="459.4" cy="626.0" r="0.80" fill="#7a6ea6"/><circle cx="416.8" cy="630.6" r="0.86" fill="#6b5f98"/><circle cx="450.7" cy="630.4" r="0.53" fill="#54487e"/><circle cx="425.1" cy="620.2" r="0.77" fill="#5c5088"/><circle cx="410.7" cy="636.3" r="0.84" fill="#8a80b0"/><circle cx="452.9" cy="623.4" r="0.82" fill="#6b5f98"/><circle cx="446.9" cy="621.4" r="0.67" fill="#6b5f98"/><circle cx="439.8" cy="631.3" r="0.89" fill="#8a80b0"/><circle cx="444.7" cy="635.6" r="0.71" fill="#5c5088"/><circle cx="444.6" cy="622.1" r="0.97" fill="#5c5088"/><circle cx="432.6" cy="621.0" r="0.59" fill="#54487e"/><circle cx="444.6" cy="625.7" r="0.95" fill="#7a6ea6"/><circle cx="422.3" cy="628.7" r="0.70" fill="#6b5f98"/><circle cx="450.8" cy="632.9" r="0.65" fill="#8a80b0"/><circle cx="438.5" cy="640.9" r="0.54" fill="#5c5088"/><circle cx="411.5" cy="635.4" r="0.96" fill="#54487e"/><circle cx="443.0" cy="636.2" r="0.69" fill="#675a94"/><circle cx="436.8" cy="620.7" r="0.70" fill="#6b5f98"/><circle cx="438.3" cy="621.2" r="0.76" fill="#7a6ea6"/><circle cx="428.4" cy="625.2" r="1.01" fill="#6b5f98"/><circle cx="448.3" cy="633.6" r="0.63" fill="#54487e"/><circle cx="461.3" cy="634.8" r="0.71" fill="#8a80b0"/><circle cx="425.4" cy="627.6" r="0.93" fill="#5c5088"/><circle cx="458.1" cy="626.5" r="0.50" fill="#675a94"/><circle cx="444.3" cy="635.0" r="0.54" fill="#6b5f98"/><circle cx="418.6" cy="636.7" r="0.78" fill="#6b5f98"/><circle cx="418.9" cy="634.5" r="0.53" fill="#675a94"/><circle cx="436.8" cy="631.5" r="0.57" fill="#5c5088"/><circle cx="454.3" cy="638.6" r="1.02" fill="#54487e"/><circle cx="418.5" cy="630.1" r="0.98" fill="#54487e"/><circle cx="452.3" cy="632.5" r="0.98" fill="#6b5f98"/><circle cx="426.2" cy="640.3" r="0.93" fill="#5c5088"/><circle cx="435.0" cy="632.0" r="0.53" fill="#8a80b0"/><circle cx="426.4" cy="620.0" r="1.02" fill="#5c5088"/><circle cx="457.7" cy="632.2" r="0.95" fill="#675a94"/><circle cx="423.5" cy="631.7" r="0.76" fill="#7a6ea6"/><circle cx="419.5" cy="631.8" r="0.55" fill="#8a80b0"/><circle cx="432.2" cy="619.5" r="1.01" fill="#7a6ea6"/><circle cx="456.0" cy="636.3" r="1.04" fill="#675a94"/><circle cx="416.2" cy="624.8" r="0.73" fill="#8a80b0"/><circle cx="432.4" cy="628.9" r="0.72" fill="#675a94"/><circle cx="436.8" cy="636.3" r="0.93" fill="#5c5088"/><circle cx="418.8" cy="627.0" r="0.69" fill="#5c5088"/><circle cx="438.0" cy="621.1" r="0.99" fill="#8a80b0"/><circle cx="431.1" cy="636.4" r="0.66" fill="#8a80b0"/></g>
<g opacity="0.72"><circle cx="494.3" cy="623.4" r="0.84" fill="#8a80b0"/><circle cx="489.8" cy="622.3" r="0.76" fill="#5c5088"/><circle cx="483.1" cy="620.3" r="0.86" fill="#5c5088"/><circle cx="484.5" cy="632.2" r="0.94" fill="#7a6ea6"/><circle cx="491.0" cy="629.6" r="0.91" fill="#5c5088"/><circle cx="491.8" cy="632.6" r="0.92" fill="#675a94"/><circle cx="490.3" cy="618.6" r="0.70" fill="#5c5088"/><circle cx="489.2" cy="618.1" r="1.00" fill="#5c5088"/><circle cx="488.4" cy="626.2" r="0.64" fill="#7a6ea6"/><circle cx="502.7" cy="621.3" r="0.71" fill="#8a80b0"/><circle cx="495.2" cy="628.2" r="0.74" fill="#8a80b0"/><circle cx="494.3" cy="629.0" r="0.77" fill="#7a6ea6"/><circle cx="494.1" cy="632.8" r="0.66" fill="#675a94"/><circle cx="496.2" cy="617.8" r="0.54" fill="#54487e"/><circle cx="482.4" cy="630.9" r="0.53" fill="#7a6ea6"/><circle cx="491.6" cy="626.4" r="0.95" fill="#7a6ea6"/><circle cx="488.5" cy="626.2" r="0.61" fill="#6b5f98"/><circle cx="484.5" cy="628.4" r="0.52" fill="#6b5f98"/><circle cx="505.5" cy="626.8" r="0.70" fill="#675a94"/><circle cx="491.2" cy="633.9" r="0.72" fill="#675a94"/><circle cx="493.4" cy="624.0" r="0.89" fill="#5c5088"/><circle cx="499.6" cy="628.8" r="0.92" fill="#675a94"/><circle cx="479.5" cy="629.0" r="0.80" fill="#7a6ea6"/><circle cx="498.6" cy="619.9" r="0.81" fill="#6b5f98"/><circle cx="488.9" cy="632.0" r="0.62" fill="#675a94"/><circle cx="481.2" cy="627.1" r="0.74" fill="#7a6ea6"/><circle cx="491.7" cy="632.4" r="0.52" fill="#8a80b0"/><circle cx="500.2" cy="627.6" r="0.76" fill="#6b5f98"/><circle cx="497.6" cy="620.1" r="0.88" fill="#675a94"/><circle cx="480.3" cy="624.7" r="0.82" fill="#8a80b0"/><circle cx="497.1" cy="624.2" r="0.99" fill="#675a94"/><circle cx="499.4" cy="627.8" r="0.64" fill="#6b5f98"/><circle cx="487.5" cy="631.8" r="0.87" fill="#675a94"/><circle cx="500.5" cy="625.2" r="0.72" fill="#8a80b0"/><circle cx="496.3" cy="626.7" r="0.98" fill="#6b5f98"/><circle cx="494.9" cy="626.5" r="0.57" fill="#6b5f98"/><circle cx="502.7" cy="621.1" r="0.57" fill="#54487e"/><circle cx="478.7" cy="623.5" r="0.90" fill="#6b5f98"/><circle cx="493.1" cy="625.3" r="0.73" fill="#54487e"/><circle cx="497.9" cy="631.0" r="0.74" fill="#54487e"/><circle cx="499.3" cy="626.8" r="0.69" fill="#6b5f98"/><circle cx="495.1" cy="626.5" r="0.91" fill="#54487e"/><circle cx="502.3" cy="620.3" r="0.91" fill="#7a6ea6"/><circle cx="491.4" cy="632.4" r="0.60" fill="#5c5088"/><circle cx="495.1" cy="634.6" r="0.63" fill="#8a80b0"/><circle cx="486.5" cy="632.6" r="0.72" fill="#8a80b0"/><circle cx="489.2" cy="632.8" r="0.74" fill="#8a80b0"/><circle cx="488.1" cy="628.9" r="0.77" fill="#6b5f98"/><circle cx="484.0" cy="623.3" r="0.93" fill="#5c5088"/><circle cx="482.3" cy="632.3" r="0.78" fill="#6b5f98"/><circle cx="496.6" cy="633.5" r="0.68" fill="#54487e"/><circle cx="486.6" cy="633.3" r="0.74" fill="#7a6ea6"/><circle cx="494.8" cy="631.5" r="0.74" fill="#675a94"/><circle cx="498.9" cy="628.1" r="1.00" fill="#675a94"/><circle cx="492.8" cy="624.4" r="0.55" fill="#54487e"/><circle cx="489.7" cy="622.1" r="0.76" fill="#675a94"/><circle cx="493.7" cy="630.4" r="0.92" fill="#5c5088"/><circle cx="485.4" cy="618.4" r="0.89" fill="#7a6ea6"/><circle cx="482.7" cy="632.1" r="0.59" fill="#5c5088"/><circle cx="498.4" cy="630.0" r="0.85" fill="#675a94"/><circle cx="499.3" cy="619.9" r="0.91" fill="#6b5f98"/><circle cx="497.5" cy="620.8" r="0.67" fill="#675a94"/><circle cx="491.2" cy="623.2" r="0.91" fill="#8a80b0"/><circle cx="499.8" cy="626.2" r="0.54" fill="#8a80b0"/><circle cx="493.8" cy="626.5" r="0.59" fill="#5c5088"/></g>
<g opacity="0.7"><circle cx="476.2" cy="651.1" r="0.67" fill="#6b5f98"/><circle cx="481.4" cy="651.7" r="0.79" fill="#5c5088"/><circle cx="486.2" cy="649.8" r="0.62" fill="#54487e"/><circle cx="497.5" cy="649.3" r="0.98" fill="#5c5088"/><circle cx="476.6" cy="645.2" r="0.88" fill="#6b5f98"/><circle cx="476.9" cy="652.4" r="0.63" fill="#6b5f98"/><circle cx="481.6" cy="647.7" r="0.74" fill="#54487e"/><circle cx="491.2" cy="647.8" r="0.58" fill="#8a80b0"/><circle cx="496.3" cy="646.1" r="0.94" fill="#54487e"/><circle cx="492.0" cy="652.7" r="0.85" fill="#8a80b0"/><circle cx="485.2" cy="651.7" r="0.75" fill="#675a94"/><circle cx="489.2" cy="642.0" r="0.91" fill="#7a6ea6"/><circle cx="480.9" cy="651.0" r="0.93" fill="#6b5f98"/><circle cx="479.5" cy="652.2" r="0.84" fill="#8a80b0"/><circle cx="483.3" cy="654.2" r="0.96" fill="#5c5088"/><circle cx="487.9" cy="651.3" r="0.84" fill="#8a80b0"/><circle cx="489.1" cy="648.2" r="0.77" fill="#5c5088"/><circle cx="485.9" cy="643.2" r="0.67" fill="#5c5088"/><circle cx="490.9" cy="648.1" r="0.79" fill="#54487e"/><circle cx="486.5" cy="653.8" r="0.65" fill="#8a80b0"/><circle cx="478.3" cy="647.5" r="0.54" fill="#5c5088"/><circle cx="484.8" cy="643.1" r="0.65" fill="#675a94"/><circle cx="493.7" cy="653.2" r="0.63" fill="#8a80b0"/><circle cx="482.7" cy="647.3" r="0.98" fill="#675a94"/><circle cx="475.3" cy="651.1" r="0.71" fill="#6b5f98"/><circle cx="494.4" cy="644.5" r="0.98" fill="#54487e"/><circle cx="493.5" cy="651.6" r="0.86" fill="#675a94"/><circle cx="496.5" cy="651.2" r="0.52" fill="#6b5f98"/><circle cx="488.1" cy="650.7" r="0.67" fill="#7a6ea6"/><circle cx="495.5" cy="652.3" r="0.72" fill="#7a6ea6"/><circle cx="476.5" cy="644.4" r="0.74" fill="#6b5f98"/><circle cx="487.5" cy="642.6" r="0.83" fill="#5c5088"/><circle cx="492.5" cy="652.1" r="0.66" fill="#675a94"/><circle cx="488.0" cy="641.7" r="0.77" fill="#675a94"/><circle cx="497.8" cy="645.3" r="0.71" fill="#5c5088"/><circle cx="492.7" cy="642.7" r="0.84" fill="#54487e"/><circle cx="488.3" cy="654.5" r="0.93" fill="#5c5088"/><circle cx="488.6" cy="652.0" r="0.89" fill="#54487e"/><circle cx="493.0" cy="642.5" r="0.94" fill="#675a94"/><circle cx="488.8" cy="646.6" r="0.73" fill="#675a94"/><circle cx="494.1" cy="650.6" r="0.72" fill="#5c5088"/><circle cx="480.1" cy="643.6" r="0.56" fill="#6b5f98"/><circle cx="482.4" cy="653.7" r="0.93" fill="#5c5088"/><circle cx="486.1" cy="641.2" r="0.63" fill="#8a80b0"/><circle cx="487.7" cy="651.7" r="0.91" fill="#675a94"/><circle cx="481.6" cy="642.3" r="0.56" fill="#6b5f98"/><circle cx="488.5" cy="649.4" r="0.75" fill="#7a6ea6"/><circle cx="489.9" cy="645.2" r="0.91" fill="#6b5f98"/><circle cx="485.3" cy="642.7" r="0.68" fill="#7a6ea6"/><circle cx="496.8" cy="651.6" r="0.52" fill="#6b5f98"/><circle cx="484.0" cy="652.1" r="0.88" fill="#5c5088"/><circle cx="490.5" cy="644.2" r="0.74" fill="#7a6ea6"/><circle cx="490.0" cy="652.5" r="0.59" fill="#5c5088"/><circle cx="496.0" cy="651.9" r="0.76" fill="#675a94"/><circle cx="488.5" cy="651.4" r="0.78" fill="#5c5088"/><circle cx="480.2" cy="648.2" r="0.61" fill="#6b5f98"/><circle cx="483.2" cy="650.3" r="0.91" fill="#7a6ea6"/><circle cx="478.4" cy="648.1" r="0.79" fill="#675a94"/><circle cx="497.9" cy="647.4" r="0.50" fill="#6b5f98"/><circle cx="493.4" cy="650.5" r="0.56" fill="#5c5088"/><circle cx="483.7" cy="645.0" r="0.61" fill="#5c5088"/><circle cx="485.1" cy="644.4" r="0.66" fill="#675a94"/><circle cx="491.2" cy="653.9" r="0.58" fill="#54487e"/><circle cx="480.6" cy="652.6" r="0.76" fill="#6b5f98"/><circle cx="493.9" cy="645.5" r="0.57" fill="#675a94"/><circle cx="483.8" cy="645.9" r="0.73" fill="#54487e"/><circle cx="483.8" cy="646.5" r="0.75" fill="#5c5088"/><circle cx="477.6" cy="646.2" r="0.50" fill="#7a6ea6"/><circle cx="481.2" cy="653.8" r="0.83" fill="#8a80b0"/><circle cx="476.4" cy="650.1" r="0.71" fill="#7a6ea6"/><circle cx="480.2" cy="652.6" r="0.60" fill="#54487e"/><circle cx="495.8" cy="645.1" r="0.63" fill="#54487e"/><circle cx="479.0" cy="642.1" r="0.93" fill="#54487e"/><circle cx="488.4" cy="642.1" r="0.99" fill="#54487e"/><circle cx="477.1" cy="644.5" r="0.54" fill="#675a94"/><circle cx="491.8" cy="644.0" r="0.93" fill="#6b5f98"/><circle cx="477.1" cy="643.0" r="0.69" fill="#5c5088"/><circle cx="475.6" cy="652.0" r="0.77" fill="#5c5088"/><circle cx="487.3" cy="642.8" r="0.87" fill="#7a6ea6"/><circle cx="482.8" cy="650.6" r="0.90" fill="#54487e"/><circle cx="491.3" cy="643.2" r="0.86" fill="#6b5f98"/><circle cx="488.4" cy="651.2" r="0.58" fill="#675a94"/><circle cx="491.7" cy="650.6" r="0.60" fill="#6b5f98"/><circle cx="485.3" cy="646.1" r="0.73" fill="#7a6ea6"/><circle cx="482.4" cy="648.3" r="0.83" fill="#54487e"/><circle cx="492.3" cy="647.4" r="1.00" fill="#6b5f98"/><circle cx="477.9" cy="647.9" r="0.60" fill="#8a80b0"/><circle cx="493.7" cy="644.0" r="0.84" fill="#7a6ea6"/><circle cx="486.4" cy="651.4" r="0.89" fill="#8a80b0"/><circle cx="484.8" cy="653.8" r="0.85" fill="#8a80b0"/></g>
<g opacity="0.74"><circle cx="473.1" cy="679.9" r="0.52" fill="#7a6ea6"/><circle cx="465.7" cy="667.4" r="0.58" fill="#675a94"/><circle cx="493.7" cy="676.4" r="0.95" fill="#7a6ea6"/><circle cx="494.2" cy="666.2" r="1.01" fill="#5c5088"/><circle cx="501.3" cy="681.0" r="0.83" fill="#8a80b0"/><circle cx="458.6" cy="680.3" r="0.55" fill="#6b5f98"/><circle cx="439.0" cy="665.9" r="1.00" fill="#5c5088"/><circle cx="462.3" cy="662.3" r="0.95" fill="#675a94"/><circle cx="503.4" cy="666.8" r="0.99" fill="#675a94"/><circle cx="455.4" cy="677.8" r="0.60" fill="#8a80b0"/><circle cx="429.5" cy="678.7" r="0.81" fill="#8a80b0"/><circle cx="461.7" cy="677.7" r="0.54" fill="#6b5f98"/><circle cx="410.0" cy="676.8" r="0.60" fill="#5c5088"/><circle cx="491.5" cy="674.7" r="0.52" fill="#6b5f98"/><circle cx="429.5" cy="666.9" r="0.55" fill="#8a80b0"/><circle cx="484.2" cy="684.4" r="0.53" fill="#7a6ea6"/><circle cx="409.4" cy="668.3" r="1.03" fill="#8a80b0"/><circle cx="414.9" cy="668.1" r="1.01" fill="#5c5088"/><circle cx="471.1" cy="671.4" r="0.89" fill="#5c5088"/><circle cx="493.6" cy="664.5" r="0.72" fill="#8a80b0"/><circle cx="439.8" cy="667.8" r="0.78" fill="#5c5088"/><circle cx="462.3" cy="668.9" r="0.89" fill="#7a6ea6"/><circle cx="428.3" cy="658.2" r="0.61" fill="#7a6ea6"/><circle cx="450.2" cy="675.9" r="0.51" fill="#6b5f98"/><circle cx="437.5" cy="679.7" r="0.84" fill="#6b5f98"/><circle cx="487.6" cy="681.6" r="0.52" fill="#54487e"/><circle cx="483.8" cy="669.4" r="0.51" fill="#6b5f98"/><circle cx="486.2" cy="674.1" r="0.73" fill="#675a94"/><circle cx="469.4" cy="666.5" r="0.95" fill="#54487e"/><circle cx="467.7" cy="681.8" r="0.84" fill="#7a6ea6"/><circle cx="425.3" cy="674.9" r="1.01" fill="#8a80b0"/><circle cx="456.5" cy="670.7" r="0.89" fill="#54487e"/><circle cx="455.5" cy="660.1" r="0.99" fill="#7a6ea6"/><circle cx="419.3" cy="678.1" r="0.64" fill="#54487e"/><circle cx="475.3" cy="680.7" r="0.79" fill="#8a80b0"/><circle cx="509.1" cy="676.4" r="0.81" fill="#7a6ea6"/><circle cx="449.7" cy="676.3" r="0.73" fill="#5c5088"/><circle cx="472.1" cy="665.8" r="0.82" fill="#54487e"/><circle cx="409.1" cy="676.6" r="1.01" fill="#54487e"/><circle cx="435.4" cy="666.5" r="0.95" fill="#5c5088"/><circle cx="427.0" cy="663.0" r="0.68" fill="#6b5f98"/><circle cx="499.1" cy="676.7" r="0.77" fill="#8a80b0"/><circle cx="440.6" cy="666.8" r="0.79" fill="#5c5088"/><circle cx="440.1" cy="666.5" r="0.97" fill="#7a6ea6"/><circle cx="454.8" cy="671.0" r="0.96" fill="#6b5f98"/><circle cx="447.5" cy="659.8" r="0.77" fill="#8a80b0"/><circle cx="508.3" cy="685.3" r="0.72" fill="#8a80b0"/><circle cx="410.0" cy="672.9" r="0.79" fill="#7a6ea6"/><circle cx="506.9" cy="665.5" r="0.61" fill="#8a80b0"/><circle cx="470.4" cy="664.1" r="0.65" fill="#5c5088"/><circle cx="458.2" cy="667.4" r="1.04" fill="#6b5f98"/><circle cx="460.6" cy="667.5" r="0.61" fill="#675a94"/><circle cx="434.5" cy="659.6" r="0.77" fill="#7a6ea6"/><circle cx="411.5" cy="661.7" r="0.90" fill="#675a94"/><circle cx="475.8" cy="667.8" r="0.54" fill="#8a80b0"/><circle cx="437.8" cy="680.4" r="0.61" fill="#5c5088"/><circle cx="417.1" cy="667.2" r="1.02" fill="#7a6ea6"/><circle cx="471.1" cy="681.8" r="1.02" fill="#6b5f98"/><circle cx="437.0" cy="661.0" r="0.84" fill="#7a6ea6"/><circle cx="441.4" cy="660.4" r="0.64" fill="#7a6ea6"/><circle cx="508.4" cy="675.6" r="1.05" fill="#5c5088"/><circle cx="442.5" cy="679.5" r="0.54" fill="#54487e"/><circle cx="427.9" cy="678.8" r="0.83" fill="#54487e"/><circle cx="427.2" cy="662.7" r="0.54" fill="#54487e"/><circle cx="454.1" cy="662.7" r="0.81" fill="#5c5088"/><circle cx="447.3" cy="678.8" r="0.84" fill="#54487e"/><circle cx="488.0" cy="672.7" r="0.74" fill="#5c5088"/><circle cx="462.8" cy="680.0" r="0.66" fill="#54487e"/><circle cx="479.9" cy="662.1" r="0.88" fill="#7a6ea6"/><circle cx="454.5" cy="661.3" r="0.89" fill="#54487e"/><circle cx="505.4" cy="667.5" r="1.00" fill="#8a80b0"/><circle cx="459.3" cy="674.8" r="0.58" fill="#675a94"/><circle cx="442.7" cy="675.9" r="0.81" fill="#54487e"/><circle cx="419.4" cy="676.0" r="0.51" fill="#7a6ea6"/><circle cx="415.7" cy="662.7" r="0.59" fill="#675a94"/><circle cx="440.8" cy="659.8" r="1.03" fill="#6b5f98"/><circle cx="459.7" cy="671.5" r="0.80" fill="#54487e"/><circle cx="428.7" cy="678.1" r="0.56" fill="#6b5f98"/><circle cx="448.2" cy="668.7" r="1.04" fill="#54487e"/><circle cx="486.0" cy="674.1" r="0.93" fill="#6b5f98"/><circle cx="456.1" cy="672.6" r="0.89" fill="#5c5088"/><circle cx="494.3" cy="679.6" r="0.71" fill="#54487e"/><circle cx="507.3" cy="672.8" r="0.79" fill="#8a80b0"/><circle cx="465.5" cy="666.6" r="0.66" fill="#8a80b0"/><circle cx="497.5" cy="667.0" r="1.04" fill="#675a94"/><circle cx="431.3" cy="667.3" r="0.52" fill="#8a80b0"/><circle cx="494.3" cy="665.3" r="1.04" fill="#675a94"/><circle cx="450.1" cy="661.2" r="0.88" fill="#54487e"/><circle cx="412.8" cy="667.2" r="0.65" fill="#675a94"/><circle cx="460.6" cy="671.8" r="0.91" fill="#675a94"/><circle cx="473.1" cy="675.8" r="0.77" fill="#5c5088"/><circle cx="450.0" cy="678.4" r="0.63" fill="#54487e"/><circle cx="469.5" cy="679.1" r="0.75" fill="#8a80b0"/><circle cx="490.7" cy="671.2" r="0.63" fill="#54487e"/><circle cx="428.6" cy="659.1" r="0.65" fill="#675a94"/><circle cx="454.9" cy="661.5" r="0.52" fill="#675a94"/><circle cx="440.2" cy="661.8" r="0.62" fill="#7a6ea6"/><circle cx="488.7" cy="669.0" r="0.87" fill="#6b5f98"/><circle cx="471.9" cy="663.6" r="0.67" fill="#7a6ea6"/><circle cx="421.5" cy="665.3" r="0.90" fill="#54487e"/><circle cx="420.6" cy="671.4" r="0.57" fill="#675a94"/><circle cx="435.4" cy="678.1" r="0.58" fill="#7a6ea6"/><circle cx="436.4" cy="674.0" r="0.92" fill="#6b5f98"/><circle cx="496.4" cy="664.0" r="0.91" fill="#5c5088"/><circle cx="439.7" cy="675.1" r="1.05" fill="#675a94"/><circle cx="451.2" cy="667.0" r="0.95" fill="#8a80b0"/><circle cx="464.2" cy="665.0" r="0.89" fill="#675a94"/><circle cx="453.7" cy="677.7" r="0.58" fill="#8a80b0"/><circle cx="435.4" cy="667.4" r="0.73" fill="#5c5088"/><circle cx="460.7" cy="678.6" r="1.01" fill="#54487e"/><circle cx="510.0" cy="668.8" r="0.69" fill="#5c5088"/><circle cx="463.8" cy="664.0" r="0.52" fill="#8a80b0"/><circle cx="440.7" cy="667.0" r="0.93" fill="#54487e"/><circle cx="483.3" cy="680.0" r="0.59" fill="#675a94"/><circle cx="489.5" cy="675.3" r="0.94" fill="#8a80b0"/><circle cx="454.3" cy="670.6" r="0.90" fill="#54487e"/><circle cx="449.6" cy="676.7" r="0.71" fill="#54487e"/><circle cx="439.9" cy="674.3" r="0.91" fill="#6b5f98"/><circle cx="468.0" cy="679.8" r="0.99" fill="#675a94"/><circle cx="432.4" cy="664.5" r="0.78" fill="#675a94"/><circle cx="439.5" cy="674.9" r="0.90" fill="#8a80b0"/><circle cx="459.0" cy="664.5" r="0.80" fill="#7a6ea6"/><circle cx="505.2" cy="677.8" r="0.75" fill="#5c5088"/><circle cx="464.2" cy="670.0" r="0.77" fill="#7a6ea6"/><circle cx="507.9" cy="668.6" r="0.92" fill="#8a80b0"/><circle cx="494.4" cy="675.8" r="0.91" fill="#5c5088"/><circle cx="498.1" cy="671.9" r="0.93" fill="#8a80b0"/><circle cx="495.3" cy="685.4" r="0.65" fill="#6b5f98"/><circle cx="466.8" cy="672.3" r="0.86" fill="#54487e"/><circle cx="454.8" cy="668.6" r="0.75" fill="#7a6ea6"/><circle cx="464.5" cy="667.0" r="1.01" fill="#7a6ea6"/><circle cx="445.9" cy="674.1" r="0.60" fill="#6b5f98"/><circle cx="490.7" cy="675.2" r="1.02" fill="#7a6ea6"/><circle cx="466.7" cy="678.1" r="0.92" fill="#6b5f98"/><circle cx="496.4" cy="673.4" r="0.85" fill="#7a6ea6"/><circle cx="431.6" cy="673.7" r="0.65" fill="#6b5f98"/><circle cx="471.7" cy="677.0" r="0.83" fill="#5c5088"/><circle cx="477.5" cy="675.9" r="0.61" fill="#675a94"/><circle cx="425.0" cy="670.4" r="0.88" fill="#675a94"/><circle cx="508.2" cy="664.9" r="1.03" fill="#675a94"/><circle cx="485.8" cy="682.5" r="0.99" fill="#675a94"/><circle cx="407.1" cy="669.7" r="0.73" fill="#675a94"/><circle cx="423.4" cy="662.2" r="0.61" fill="#6b5f98"/><circle cx="433.6" cy="665.1" r="0.67" fill="#54487e"/><circle cx="422.8" cy="658.8" r="0.54" fill="#5c5088"/><circle cx="463.6" cy="672.3" r="0.66" fill="#8a80b0"/><circle cx="491.3" cy="665.3" r="0.97" fill="#5c5088"/><circle cx="484.2" cy="668.4" r="0.59" fill="#6b5f98"/><circle cx="419.9" cy="672.9" r="1.01" fill="#5c5088"/><circle cx="436.5" cy="675.3" r="0.85" fill="#675a94"/><circle cx="455.1" cy="674.4" r="0.77" fill="#8a80b0"/><circle cx="466.7" cy="673.2" r="0.79" fill="#5c5088"/><circle cx="449.5" cy="678.8" r="1.00" fill="#6b5f98"/><circle cx="467.1" cy="676.8" r="0.86" fill="#7a6ea6"/><circle cx="443.1" cy="672.3" r="0.63" fill="#675a94"/><circle cx="459.7" cy="665.6" r="0.85" fill="#7a6ea6"/><circle cx="447.2" cy="666.1" r="0.68" fill="#5c5088"/><circle cx="467.6" cy="676.7" r="0.90" fill="#54487e"/><circle cx="442.9" cy="667.9" r="0.61" fill="#54487e"/><circle cx="455.6" cy="672.8" r="0.60" fill="#54487e"/><circle cx="485.3" cy="684.1" r="0.77" fill="#5c5088"/><circle cx="447.4" cy="672.6" r="0.53" fill="#54487e"/><circle cx="423.6" cy="665.4" r="0.54" fill="#675a94"/><circle cx="411.7" cy="658.6" r="0.88" fill="#8a80b0"/><circle cx="451.6" cy="681.4" r="0.98" fill="#5c5088"/><circle cx="424.5" cy="670.5" r="0.75" fill="#54487e"/><circle cx="434.5" cy="664.0" r="0.78" fill="#675a94"/><circle cx="495.0" cy="663.7" r="0.95" fill="#8a80b0"/><circle cx="410.7" cy="659.0" r="0.83" fill="#6b5f98"/><circle cx="478.3" cy="677.6" r="0.83" fill="#6b5f98"/><circle cx="467.3" cy="675.9" r="0.71" fill="#6b5f98"/><circle cx="412.1" cy="660.3" r="0.80" fill="#8a80b0"/><circle cx="454.7" cy="660.2" r="0.79" fill="#5c5088"/><circle cx="443.4" cy="660.5" r="0.58" fill="#8a80b0"/><circle cx="439.4" cy="676.7" r="0.56" fill="#675a94"/><circle cx="458.1" cy="680.6" r="1.02" fill="#7a6ea6"/><circle cx="503.9" cy="679.2" r="1.03" fill="#7a6ea6"/><circle cx="498.7" cy="683.8" r="0.99" fill="#8a80b0"/><circle cx="423.2" cy="676.2" r="0.71" fill="#5c5088"/><circle cx="408.6" cy="660.6" r="0.58" fill="#7a6ea6"/><circle cx="446.1" cy="673.9" r="0.63" fill="#6b5f98"/><circle cx="455.2" cy="676.4" r="0.66" fill="#7a6ea6"/><circle cx="467.6" cy="671.9" r="0.83" fill="#54487e"/><circle cx="441.8" cy="676.5" r="0.83" fill="#5c5088"/><circle cx="465.1" cy="670.1" r="1.04" fill="#675a94"/><circle cx="467.7" cy="681.3" r="0.71" fill="#54487e"/><circle cx="430.7" cy="672.6" r="0.51" fill="#54487e"/><circle cx="463.3" cy="664.8" r="0.55" fill="#6b5f98"/><circle cx="456.9" cy="662.4" r="0.97" fill="#8a80b0"/><circle cx="439.4" cy="675.1" r="0.74" fill="#7a6ea6"/><circle cx="467.7" cy="673.1" r="0.69" fill="#675a94"/><circle cx="440.7" cy="680.4" r="0.66" fill="#6b5f98"/><circle cx="495.8" cy="684.4" r="0.59" fill="#5c5088"/><circle cx="424.0" cy="673.0" r="0.94" fill="#5c5088"/><circle cx="436.3" cy="660.6" r="0.99" fill="#675a94"/><circle cx="452.1" cy="672.9" r="0.75" fill="#6b5f98"/><circle cx="463.4" cy="679.6" r="0.76" fill="#5c5088"/><circle cx="431.6" cy="670.2" r="0.52" fill="#7a6ea6"/><circle cx="429.2" cy="660.6" r="0.85" fill="#5c5088"/><circle cx="419.1" cy="675.2" r="0.96" fill="#54487e"/><circle cx="421.7" cy="669.1" r="1.04" fill="#675a94"/><circle cx="425.1" cy="674.4" r="0.90" fill="#54487e"/><circle cx="484.3" cy="679.0" r="0.75" fill="#6b5f98"/><circle cx="410.7" cy="677.5" r="0.87" fill="#54487e"/><circle cx="453.7" cy="678.1" r="1.02" fill="#54487e"/><circle cx="473.7" cy="669.5" r="0.89" fill="#5c5088"/><circle cx="412.6" cy="666.5" r="0.58" fill="#8a80b0"/><circle cx="473.6" cy="677.4" r="0.62" fill="#54487e"/><circle cx="411.8" cy="668.0" r="0.61" fill="#54487e"/><circle cx="492.3" cy="676.7" r="0.60" fill="#8a80b0"/><circle cx="464.9" cy="674.3" r="0.63" fill="#5c5088"/><circle cx="467.0" cy="661.9" r="0.76" fill="#675a94"/><circle cx="469.0" cy="681.4" r="0.84" fill="#8a80b0"/><circle cx="482.1" cy="672.1" r="0.53" fill="#6b5f98"/><circle cx="463.2" cy="664.9" r="0.67" fill="#6b5f98"/><circle cx="449.5" cy="671.1" r="0.91" fill="#675a94"/><circle cx="434.0" cy="680.5" r="0.81" fill="#6b5f98"/><circle cx="475.1" cy="676.3" r="0.57" fill="#6b5f98"/><circle cx="471.2" cy="683.1" r="0.72" fill="#675a94"/><circle cx="495.3" cy="666.0" r="0.68" fill="#5c5088"/><circle cx="461.7" cy="677.7" r="0.88" fill="#7a6ea6"/><circle cx="464.2" cy="666.2" r="0.58" fill="#675a94"/><circle cx="470.6" cy="676.3" r="0.75" fill="#675a94"/><circle cx="435.9" cy="668.0" r="0.73" fill="#675a94"/><circle cx="488.3" cy="681.8" r="0.92" fill="#54487e"/><circle cx="492.6" cy="679.6" r="1.02" fill="#7a6ea6"/><circle cx="497.6" cy="681.5" r="0.65" fill="#5c5088"/><circle cx="509.0" cy="677.6" r="1.04" fill="#54487e"/><circle cx="485.3" cy="672.6" r="0.82" fill="#8a80b0"/><circle cx="437.2" cy="663.5" r="0.79" fill="#7a6ea6"/><circle cx="413.8" cy="656.9" r="0.94" fill="#675a94"/><circle cx="451.4" cy="677.3" r="0.80" fill="#54487e"/><circle cx="421.7" cy="678.1" r="0.93" fill="#675a94"/><circle cx="443.9" cy="672.4" r="0.71" fill="#54487e"/><circle cx="465.7" cy="679.0" r="1.03" fill="#7a6ea6"/><circle cx="450.6" cy="670.4" r="0.71" fill="#5c5088"/><circle cx="492.5" cy="670.0" r="0.64" fill="#675a94"/><circle cx="475.5" cy="661.7" r="0.87" fill="#675a94"/><circle cx="469.0" cy="670.7" r="0.55" fill="#675a94"/><circle cx="438.7" cy="666.3" r="0.67" fill="#7a6ea6"/><circle cx="420.9" cy="662.2" r="0.51" fill="#8a80b0"/><circle cx="427.7" cy="659.0" r="0.51" fill="#5c5088"/><circle cx="435.6" cy="675.1" r="0.64" fill="#8a80b0"/><circle cx="420.3" cy="672.8" r="0.66" fill="#5c5088"/><circle cx="455.5" cy="665.2" r="0.74" fill="#54487e"/><circle cx="491.6" cy="664.3" r="0.69" fill="#675a94"/><circle cx="414.9" cy="665.2" r="0.81" fill="#5c5088"/><circle cx="412.3" cy="675.8" r="0.54" fill="#7a6ea6"/><circle cx="432.7" cy="679.4" r="0.61" fill="#54487e"/><circle cx="436.5" cy="665.7" r="0.53" fill="#7a6ea6"/><circle cx="435.8" cy="671.8" r="0.91" fill="#8a80b0"/><circle cx="449.4" cy="674.8" r="0.81" fill="#5c5088"/><circle cx="419.8" cy="672.0" r="0.90" fill="#54487e"/><circle cx="455.3" cy="670.0" r="0.95" fill="#54487e"/><circle cx="454.9" cy="661.5" r="0.77" fill="#8a80b0"/><circle cx="455.9" cy="668.8" r="0.76" fill="#8a80b0"/><circle cx="460.6" cy="667.9" r="0.60" fill="#54487e"/><circle cx="488.1" cy="672.5" r="0.97" fill="#7a6ea6"/><circle cx="431.8" cy="668.4" r="0.98" fill="#675a94"/><circle cx="511.4" cy="665.0" r="0.72" fill="#675a94"/><circle cx="441.1" cy="678.3" r="0.58" fill="#675a94"/><circle cx="455.2" cy="676.4" r="0.97" fill="#8a80b0"/><circle cx="420.9" cy="675.6" r="0.92" fill="#6b5f98"/><circle cx="443.6" cy="664.1" r="0.65" fill="#5c5088"/><circle cx="489.2" cy="682.8" r="0.56" fill="#675a94"/><circle cx="428.1" cy="663.6" r="0.70" fill="#8a80b0"/><circle cx="466.2" cy="677.9" r="0.76" fill="#6b5f98"/><circle cx="418.2" cy="675.0" r="0.74" fill="#8a80b0"/><circle cx="497.2" cy="664.5" r="0.86" fill="#54487e"/><circle cx="474.8" cy="670.6" r="0.97" fill="#5c5088"/><circle cx="424.8" cy="665.2" r="0.80" fill="#8a80b0"/><circle cx="449.7" cy="680.0" r="0.88" fill="#8a80b0"/><circle cx="445.1" cy="670.4" r="0.79" fill="#54487e"/><circle cx="460.0" cy="674.8" r="0.74" fill="#8a80b0"/><circle cx="469.4" cy="677.9" r="0.78" fill="#7a6ea6"/><circle cx="486.1" cy="667.0" r="0.55" fill="#54487e"/><circle cx="434.1" cy="670.9" r="0.84" fill="#7a6ea6"/><circle cx="434.2" cy="672.6" r="0.86" fill="#5c5088"/><circle cx="462.9" cy="672.1" r="0.68" fill="#675a94"/><circle cx="474.4" cy="678.5" r="0.53" fill="#5c5088"/><circle cx="436.5" cy="673.5" r="0.74" fill="#675a94"/><circle cx="440.8" cy="678.6" r="0.96" fill="#675a94"/><circle cx="488.5" cy="680.5" r="0.51" fill="#8a80b0"/><circle cx="452.8" cy="673.4" r="0.66" fill="#54487e"/><circle cx="452.9" cy="662.4" r="0.51" fill="#8a80b0"/><circle cx="459.2" cy="666.7" r="1.01" fill="#54487e"/><circle cx="422.3" cy="674.1" r="0.77" fill="#54487e"/><circle cx="441.8" cy="670.5" r="0.91" fill="#5c5088"/><circle cx="479.9" cy="671.5" r="1.05" fill="#54487e"/><circle cx="421.9" cy="662.5" r="0.96" fill="#54487e"/><circle cx="447.9" cy="675.9" r="0.95" fill="#6b5f98"/><circle cx="493.3" cy="682.0" r="0.85" fill="#675a94"/><circle cx="486.8" cy="680.8" r="0.79" fill="#5c5088"/><circle cx="454.9" cy="670.4" r="0.60" fill="#54487e"/><circle cx="434.2" cy="672.9" r="0.51" fill="#8a80b0"/><circle cx="463.5" cy="663.4" r="0.78" fill="#54487e"/><circle cx="488.3" cy="666.0" r="0.97" fill="#7a6ea6"/><circle cx="437.0" cy="659.6" r="0.66" fill="#54487e"/><circle cx="424.6" cy="658.3" r="0.68" fill="#7a6ea6"/><circle cx="493.0" cy="666.9" r="0.55" fill="#7a6ea6"/><circle cx="464.3" cy="678.1" r="0.56" fill="#6b5f98"/><circle cx="503.1" cy="680.4" r="0.70" fill="#54487e"/><circle cx="412.5" cy="659.2" r="0.82" fill="#7a6ea6"/><circle cx="422.1" cy="661.8" r="0.90" fill="#54487e"/><circle cx="473.4" cy="666.2" r="0.57" fill="#54487e"/><circle cx="412.1" cy="662.3" r="0.74" fill="#6b5f98"/><circle cx="459.2" cy="678.5" r="0.78" fill="#5c5088"/><circle cx="472.1" cy="676.7" r="0.87" fill="#54487e"/><circle cx="491.1" cy="673.1" r="1.01" fill="#8a80b0"/><circle cx="410.7" cy="677.3" r="0.92" fill="#5c5088"/><circle cx="488.6" cy="666.2" r="0.77" fill="#8a80b0"/><circle cx="468.5" cy="667.2" r="0.74" fill="#7a6ea6"/><circle cx="415.7" cy="675.1" r="0.63" fill="#54487e"/><circle cx="455.4" cy="667.9" r="1.03" fill="#5c5088"/><circle cx="507.7" cy="685.1" r="0.59" fill="#6b5f98"/><circle cx="487.5" cy="679.0" r="0.80" fill="#675a94"/><circle cx="430.0" cy="663.8" r="0.72" fill="#6b5f98"/><circle cx="452.6" cy="667.5" r="1.01" fill="#675a94"/><circle cx="466.7" cy="675.0" r="0.56" fill="#8a80b0"/><circle cx="446.4" cy="677.3" r="0.73" fill="#8a80b0"/><circle cx="416.9" cy="666.8" r="1.04" fill="#5c5088"/><circle cx="491.8" cy="677.4" r="0.68" fill="#54487e"/><circle cx="452.2" cy="678.1" r="0.81" fill="#54487e"/><circle cx="493.1" cy="678.6" r="0.71" fill="#7a6ea6"/><circle cx="451.2" cy="666.9" r="0.51" fill="#8a80b0"/><circle cx="509.9" cy="669.2" r="0.51" fill="#675a94"/><circle cx="425.6" cy="669.5" r="0.90" fill="#8a80b0"/><circle cx="488.0" cy="669.7" r="0.60" fill="#8a80b0"/><circle cx="456.1" cy="668.1" r="0.62" fill="#54487e"/><circle cx="492.2" cy="663.6" r="0.70" fill="#5c5088"/><circle cx="491.1" cy="683.9" r="0.63" fill="#8a80b0"/><circle cx="496.9" cy="675.1" r="0.90" fill="#54487e"/><circle cx="432.7" cy="663.5" r="0.86" fill="#5c5088"/><circle cx="457.5" cy="677.2" r="0.52" fill="#7a6ea6"/><circle cx="495.0" cy="670.2" r="0.95" fill="#7a6ea6"/><circle cx="491.0" cy="672.1" r="0.60" fill="#54487e"/><circle cx="451.7" cy="676.6" r="0.90" fill="#5c5088"/><circle cx="494.9" cy="666.6" r="0.84" fill="#54487e"/><circle cx="446.9" cy="674.1" r="0.58" fill="#675a94"/><circle cx="476.5" cy="672.7" r="0.76" fill="#7a6ea6"/><circle cx="477.9" cy="680.8" r="0.56" fill="#675a94"/><circle cx="496.6" cy="679.3" r="0.93" fill="#5c5088"/><circle cx="443.6" cy="664.3" r="0.79" fill="#8a80b0"/><circle cx="425.2" cy="661.6" r="0.74" fill="#5c5088"/><circle cx="407.5" cy="671.5" r="0.74" fill="#7a6ea6"/><circle cx="469.7" cy="669.9" r="0.72" fill="#8a80b0"/><circle cx="412.5" cy="658.7" r="0.68" fill="#5c5088"/><circle cx="451.0" cy="671.6" r="0.58" fill="#8a80b0"/><circle cx="503.1" cy="682.3" r="1.00" fill="#7a6ea6"/><circle cx="409.5" cy="659.1" r="0.86" fill="#675a94"/><circle cx="484.7" cy="678.1" r="0.62" fill="#675a94"/><circle cx="453.0" cy="662.9" r="0.93" fill="#7a6ea6"/><circle cx="502.3" cy="680.9" r="0.74" fill="#8a80b0"/><circle cx="414.5" cy="659.7" r="0.88" fill="#5c5088"/><circle cx="425.8" cy="665.8" r="0.65" fill="#7a6ea6"/><circle cx="432.3" cy="667.8" r="0.58" fill="#7a6ea6"/><circle cx="447.4" cy="662.9" r="0.81" fill="#7a6ea6"/><circle cx="412.7" cy="672.3" r="0.80" fill="#8a80b0"/><circle cx="462.5" cy="667.8" r="0.59" fill="#54487e"/><circle cx="415.6" cy="676.6" r="0.96" fill="#54487e"/><circle cx="436.2" cy="662.6" r="0.92" fill="#5c5088"/><circle cx="423.5" cy="668.8" r="0.90" fill="#6b5f98"/><circle cx="420.2" cy="674.8" r="0.64" fill="#6b5f98"/><circle cx="466.3" cy="670.0" r="0.57" fill="#675a94"/><circle cx="483.0" cy="664.5" r="0.89" fill="#675a94"/><circle cx="448.5" cy="665.0" r="0.90" fill="#6b5f98"/><circle cx="458.1" cy="674.6" r="1.03" fill="#675a94"/><circle cx="416.9" cy="670.2" r="0.80" fill="#6b5f98"/><circle cx="418.8" cy="675.8" r="0.89" fill="#8a80b0"/><circle cx="507.7" cy="671.1" r="0.68" fill="#8a80b0"/><circle cx="410.7" cy="669.1" r="0.83" fill="#8a80b0"/><circle cx="456.6" cy="669.7" r="0.59" fill="#8a80b0"/><circle cx="430.0" cy="675.6" r="0.99" fill="#675a94"/><circle cx="451.9" cy="660.2" r="0.73" fill="#675a94"/><circle cx="463.6" cy="665.7" r="0.51" fill="#54487e"/><circle cx="477.1" cy="680.5" r="0.81" fill="#7a6ea6"/><circle cx="455.2" cy="677.0" r="0.62" fill="#8a80b0"/><circle cx="421.3" cy="662.7" r="0.91" fill="#8a80b0"/><circle cx="476.7" cy="679.0" r="0.89" fill="#5c5088"/><circle cx="501.9" cy="678.3" r="0.82" fill="#5c5088"/><circle cx="457.3" cy="673.1" r="0.70" fill="#8a80b0"/><circle cx="454.8" cy="660.6" r="0.74" fill="#54487e"/><circle cx="419.8" cy="659.7" r="0.83" fill="#5c5088"/><circle cx="492.2" cy="677.6" r="0.50" fill="#6b5f98"/><circle cx="464.0" cy="679.7" r="0.55" fill="#7a6ea6"/><circle cx="486.8" cy="681.0" r="0.67" fill="#8a80b0"/><circle cx="437.8" cy="658.9" r="1.00" fill="#54487e"/><circle cx="461.0" cy="680.5" r="0.69" fill="#675a94"/><circle cx="415.5" cy="673.8" r="1.00" fill="#7a6ea6"/><circle cx="453.4" cy="677.3" r="0.69" fill="#8a80b0"/><circle cx="453.9" cy="663.6" r="0.65" fill="#5c5088"/><circle cx="444.8" cy="677.9" r="0.54" fill="#8a80b0"/><circle cx="449.5" cy="671.5" r="0.83" fill="#8a80b0"/><circle cx="469.2" cy="667.1" r="1.02" fill="#8a80b0"/><circle cx="484.2" cy="682.4" r="0.95" fill="#54487e"/><circle cx="449.2" cy="661.9" r="0.60" fill="#5c5088"/><circle cx="477.7" cy="674.3" r="0.67" fill="#7a6ea6"/><circle cx="455.8" cy="677.8" r="0.84" fill="#6b5f98"/><circle cx="426.3" cy="658.3" r="0.76" fill="#675a94"/><circle cx="425.4" cy="662.4" r="0.96" fill="#7a6ea6"/><circle cx="436.8" cy="680.1" r="0.70" fill="#675a94"/><circle cx="420.1" cy="674.5" r="0.59" fill="#7a6ea6"/><circle cx="453.5" cy="671.9" r="1.04" fill="#5c5088"/><circle cx="440.3" cy="667.5" r="0.98" fill="#6b5f98"/><circle cx="477.8" cy="682.3" r="0.65" fill="#675a94"/><circle cx="486.2" cy="665.8" r="1.02" fill="#8a80b0"/><circle cx="464.3" cy="667.6" r="0.70" fill="#8a80b0"/><circle cx="478.7" cy="663.4" r="0.73" fill="#5c5088"/><circle cx="424.9" cy="659.2" r="0.52" fill="#5c5088"/><circle cx="449.0" cy="661.0" r="0.79" fill="#8a80b0"/><circle cx="510.1" cy="677.3" r="0.51" fill="#8a80b0"/><circle cx="491.4" cy="674.4" r="0.69" fill="#7a6ea6"/><circle cx="479.6" cy="663.9" r="0.66" fill="#6b5f98"/><circle cx="486.9" cy="675.3" r="0.56" fill="#675a94"/><circle cx="449.4" cy="660.1" r="1.02" fill="#5c5088"/><circle cx="494.7" cy="682.9" r="0.93" fill="#7a6ea6"/><circle cx="485.0" cy="682.4" r="0.70" fill="#54487e"/><circle cx="443.9" cy="664.8" r="1.01" fill="#6b5f98"/><circle cx="449.4" cy="666.6" r="0.88" fill="#7a6ea6"/><circle cx="450.2" cy="661.5" r="0.62" fill="#6b5f98"/><circle cx="480.8" cy="675.7" r="0.99" fill="#6b5f98"/><circle cx="415.1" cy="676.3" r="0.82" fill="#8a80b0"/><circle cx="473.9" cy="662.6" r="0.62" fill="#675a94"/><circle cx="472.4" cy="672.3" r="0.95" fill="#6b5f98"/><circle cx="448.8" cy="668.7" r="0.84" fill="#54487e"/><circle cx="490.5" cy="667.8" r="0.55" fill="#5c5088"/><circle cx="459.0" cy="672.4" r="0.54" fill="#8a80b0"/><circle cx="483.8" cy="684.3" r="0.97" fill="#675a94"/><circle cx="440.3" cy="665.7" r="0.77" fill="#7a6ea6"/><circle cx="509.1" cy="671.3" r="0.85" fill="#8a80b0"/><circle cx="421.8" cy="663.0" r="0.76" fill="#675a94"/><circle cx="410.1" cy="670.8" r="0.89" fill="#7a6ea6"/><circle cx="409.5" cy="660.0" r="0.52" fill="#675a94"/><circle cx="441.3" cy="660.6" r="1.02" fill="#7a6ea6"/><circle cx="433.5" cy="670.8" r="0.69" fill="#675a94"/><circle cx="461.2" cy="667.8" r="0.79" fill="#54487e"/><circle cx="487.0" cy="664.5" r="0.65" fill="#54487e"/><circle cx="463.3" cy="669.4" r="0.99" fill="#8a80b0"/><circle cx="408.4" cy="660.6" r="0.99" fill="#54487e"/><circle cx="410.3" cy="662.6" r="0.72" fill="#8a80b0"/><circle cx="440.1" cy="679.3" r="0.79" fill="#5c5088"/><circle cx="407.9" cy="668.7" r="1.01" fill="#54487e"/><circle cx="505.5" cy="679.1" r="0.53" fill="#5c5088"/><circle cx="426.4" cy="666.9" r="0.62" fill="#6b5f98"/><circle cx="435.2" cy="673.3" r="0.66" fill="#8a80b0"/><circle cx="506.5" cy="667.7" r="0.85" fill="#7a6ea6"/><circle cx="506.5" cy="682.2" r="1.02" fill="#8a80b0"/><circle cx="478.4" cy="670.3" r="1.02" fill="#8a80b0"/><circle cx="507.3" cy="675.4" r="0.86" fill="#8a80b0"/><circle cx="436.7" cy="676.3" r="0.66" fill="#5c5088"/><circle cx="511.4" cy="669.8" r="0.93" fill="#6b5f98"/><circle cx="428.8" cy="664.4" r="0.78" fill="#5c5088"/><circle cx="476.7" cy="675.7" r="0.96" fill="#8a80b0"/><circle cx="491.3" cy="671.1" r="1.03" fill="#7a6ea6"/><circle cx="466.6" cy="667.6" r="0.59" fill="#8a80b0"/><circle cx="501.1" cy="684.6" r="0.93" fill="#7a6ea6"/><circle cx="422.4" cy="675.8" r="0.94" fill="#7a6ea6"/><circle cx="461.3" cy="680.1" r="0.78" fill="#8a80b0"/><circle cx="495.7" cy="675.5" r="0.65" fill="#7a6ea6"/><circle cx="507.9" cy="669.5" r="0.52" fill="#8a80b0"/><circle cx="452.7" cy="676.8" r="0.96" fill="#54487e"/><circle cx="463.6" cy="681.9" r="0.52" fill="#8a80b0"/><circle cx="501.1" cy="666.2" r="0.82" fill="#6b5f98"/><circle cx="500.3" cy="671.4" r="0.71" fill="#5c5088"/><circle cx="502.9" cy="678.3" r="0.66" fill="#54487e"/><circle cx="433.2" cy="670.1" r="0.56" fill="#5c5088"/><circle cx="481.7" cy="672.1" r="0.79" fill="#8a80b0"/><circle cx="509.7" cy="683.9" r="0.58" fill="#54487e"/><circle cx="502.5" cy="685.5" r="0.88" fill="#675a94"/><circle cx="451.5" cy="675.3" r="0.86" fill="#6b5f98"/><circle cx="481.2" cy="676.0" r="0.99" fill="#5c5088"/><circle cx="441.2" cy="662.5" r="0.79" fill="#6b5f98"/><circle cx="443.1" cy="666.1" r="0.98" fill="#8a80b0"/><circle cx="477.4" cy="664.6" r="0.98" fill="#675a94"/><circle cx="489.8" cy="667.5" r="0.56" fill="#6b5f98"/><circle cx="443.8" cy="668.4" r="0.56" fill="#8a80b0"/><circle cx="503.5" cy="669.0" r="0.76" fill="#7a6ea6"/><circle cx="458.1" cy="668.9" r="0.71" fill="#7a6ea6"/><circle cx="446.0" cy="674.6" r="0.67" fill="#6b5f98"/><circle cx="485.9" cy="672.5" r="1.04" fill="#8a80b0"/><circle cx="485.5" cy="683.9" r="0.90" fill="#8a80b0"/><circle cx="446.4" cy="674.3" r="0.75" fill="#7a6ea6"/><circle cx="489.9" cy="684.8" r="0.56" fill="#675a94"/><circle cx="491.2" cy="668.7" r="0.55" fill="#675a94"/><circle cx="449.7" cy="673.1" r="0.75" fill="#675a94"/><circle cx="464.7" cy="663.7" r="1.04" fill="#8a80b0"/><circle cx="452.5" cy="674.4" r="0.80" fill="#54487e"/><circle cx="468.7" cy="671.1" r="0.84" fill="#8a80b0"/><circle cx="489.4" cy="663.1" r="0.72" fill="#675a94"/><circle cx="409.3" cy="670.9" r="0.78" fill="#8a80b0"/><circle cx="460.2" cy="669.6" r="1.04" fill="#7a6ea6"/><circle cx="407.1" cy="668.5" r="0.88" fill="#8a80b0"/><circle cx="452.2" cy="667.3" r="0.63" fill="#5c5088"/><circle cx="416.1" cy="669.3" r="0.75" fill="#7a6ea6"/><circle cx="500.0" cy="675.6" r="1.04" fill="#8a80b0"/><circle cx="450.6" cy="666.9" r="0.55" fill="#54487e"/><circle cx="476.8" cy="677.2" r="0.53" fill="#6b5f98"/><circle cx="435.6" cy="669.9" r="0.75" fill="#675a94"/><circle cx="412.3" cy="659.1" r="0.55" fill="#675a94"/><circle cx="463.1" cy="668.6" r="0.69" fill="#7a6ea6"/><circle cx="466.4" cy="669.1" r="0.81" fill="#54487e"/><circle cx="475.5" cy="682.5" r="1.01" fill="#8a80b0"/><circle cx="458.9" cy="663.6" r="0.90" fill="#6b5f98"/><circle cx="459.7" cy="663.5" r="0.87" fill="#6b5f98"/><circle cx="439.7" cy="666.5" r="1.00" fill="#6b5f98"/><circle cx="409.9" cy="667.3" r="0.74" fill="#6b5f98"/><circle cx="488.1" cy="672.2" r="0.53" fill="#675a94"/><circle cx="486.2" cy="678.4" r="0.63" fill="#5c5088"/><circle cx="416.6" cy="666.8" r="0.99" fill="#8a80b0"/><circle cx="449.1" cy="671.4" r="0.86" fill="#5c5088"/><circle cx="496.8" cy="666.7" r="0.52" fill="#54487e"/><circle cx="417.1" cy="660.6" r="0.63" fill="#5c5088"/><circle cx="493.4" cy="677.7" r="0.66" fill="#675a94"/><circle cx="449.9" cy="672.4" r="0.56" fill="#675a94"/><circle cx="432.8" cy="677.4" r="0.71" fill="#5c5088"/><circle cx="425.1" cy="657.7" r="1.01" fill="#7a6ea6"/><circle cx="433.9" cy="679.9" r="0.75" fill="#675a94"/><circle cx="450.9" cy="666.1" r="0.78" fill="#6b5f98"/><circle cx="501.0" cy="671.1" r="0.83" fill="#5c5088"/><circle cx="499.5" cy="674.8" r="0.67" fill="#8a80b0"/></g>
<g opacity="0.7"><circle cx="429.9" cy="674.1" r="0.54" fill="#7a6ea6"/><circle cx="411.6" cy="665.0" r="0.83" fill="#6b5f98"/><circle cx="428.1" cy="671.4" r="0.67" fill="#8a80b0"/><circle cx="428.4" cy="665.5" r="0.59" fill="#675a94"/><circle cx="431.6" cy="668.8" r="0.86" fill="#7a6ea6"/><circle cx="422.1" cy="667.2" r="0.52" fill="#6b5f98"/><circle cx="412.3" cy="668.3" r="0.63" fill="#7a6ea6"/><circle cx="430.5" cy="659.5" r="0.95" fill="#54487e"/><circle cx="428.4" cy="668.3" r="0.94" fill="#6b5f98"/><circle cx="422.0" cy="668.1" r="0.84" fill="#54487e"/><circle cx="416.5" cy="662.4" r="0.96" fill="#54487e"/><circle cx="434.4" cy="672.1" r="0.53" fill="#54487e"/><circle cx="413.8" cy="671.4" r="0.61" fill="#5c5088"/><circle cx="435.2" cy="662.8" r="0.90" fill="#675a94"/><circle cx="416.9" cy="661.6" r="0.97" fill="#7a6ea6"/><circle cx="432.0" cy="661.9" r="0.71" fill="#54487e"/><circle cx="421.0" cy="661.3" r="0.76" fill="#54487e"/><circle cx="417.1" cy="666.7" r="0.99" fill="#6b5f98"/><circle cx="436.8" cy="668.7" r="0.79" fill="#675a94"/><circle cx="420.8" cy="675.0" r="0.84" fill="#6b5f98"/><circle cx="434.2" cy="674.7" r="0.99" fill="#675a94"/><circle cx="431.1" cy="676.2" r="0.65" fill="#675a94"/><circle cx="433.3" cy="668.1" r="0.99" fill="#675a94"/><circle cx="418.8" cy="666.5" r="0.60" fill="#8a80b0"/><circle cx="428.2" cy="674.7" r="0.67" fill="#8a80b0"/><circle cx="423.7" cy="669.6" r="0.92" fill="#675a94"/><circle cx="436.1" cy="670.0" r="0.74" fill="#6b5f98"/><circle cx="424.7" cy="664.9" r="0.61" fill="#6b5f98"/><circle cx="435.9" cy="672.9" r="0.98" fill="#54487e"/><circle cx="437.4" cy="671.0" r="0.63" fill="#6b5f98"/><circle cx="420.6" cy="665.8" r="0.85" fill="#8a80b0"/><circle cx="422.8" cy="660.5" r="0.55" fill="#675a94"/><circle cx="414.4" cy="666.3" r="0.65" fill="#5c5088"/><circle cx="420.4" cy="667.1" r="0.54" fill="#675a94"/><circle cx="421.0" cy="664.6" r="0.84" fill="#675a94"/><circle cx="429.2" cy="658.7" r="0.57" fill="#6b5f98"/><circle cx="418.9" cy="665.2" r="0.68" fill="#54487e"/><circle cx="413.6" cy="670.5" r="0.90" fill="#8a80b0"/><circle cx="412.4" cy="663.9" r="0.87" fill="#6b5f98"/><circle cx="431.5" cy="659.8" r="0.74" fill="#7a6ea6"/><circle cx="432.9" cy="667.4" r="0.82" fill="#5c5088"/><circle cx="439.3" cy="662.6" r="0.98" fill="#8a80b0"/><circle cx="433.5" cy="669.8" r="0.97" fill="#6b5f98"/><circle cx="432.6" cy="673.1" r="0.57" fill="#5c5088"/><circle cx="430.4" cy="676.1" r="0.75" fill="#54487e"/><circle cx="419.6" cy="660.4" r="0.83" fill="#6b5f98"/><circle cx="426.3" cy="667.1" r="0.88" fill="#54487e"/><circle cx="414.3" cy="669.4" r="0.52" fill="#6b5f98"/><circle cx="438.0" cy="669.3" r="0.82" fill="#6b5f98"/><circle cx="432.9" cy="669.7" r="0.52" fill="#6b5f98"/><circle cx="411.9" cy="668.0" r="0.97" fill="#6b5f98"/><circle cx="415.7" cy="665.8" r="0.92" fill="#5c5088"/><circle cx="413.2" cy="661.0" r="0.60" fill="#54487e"/><circle cx="423.4" cy="674.2" r="0.56" fill="#5c5088"/><circle cx="415.2" cy="665.3" r="0.57" fill="#675a94"/><circle cx="409.7" cy="665.3" r="0.69" fill="#6b5f98"/><circle cx="437.5" cy="668.6" r="0.86" fill="#5c5088"/><circle cx="422.5" cy="674.5" r="0.95" fill="#675a94"/><circle cx="432.2" cy="668.3" r="0.76" fill="#54487e"/><circle cx="428.2" cy="671.5" r="0.60" fill="#8a80b0"/><circle cx="415.2" cy="672.2" r="0.74" fill="#675a94"/><circle cx="427.5" cy="676.4" r="0.62" fill="#8a80b0"/><circle cx="430.0" cy="675.4" r="0.65" fill="#54487e"/><circle cx="429.5" cy="663.5" r="0.55" fill="#6b5f98"/><circle cx="435.9" cy="669.7" r="0.78" fill="#7a6ea6"/><circle cx="433.4" cy="663.6" r="0.63" fill="#5c5088"/><circle cx="410.3" cy="663.1" r="0.62" fill="#7a6ea6"/><circle cx="424.3" cy="665.0" r="0.85" fill="#5c5088"/><circle cx="413.0" cy="668.6" r="0.64" fill="#8a80b0"/><circle cx="411.1" cy="670.5" r="0.63" fill="#5c5088"/><circle cx="426.7" cy="672.5" r="0.62" fill="#675a94"/><circle cx="429.3" cy="675.3" r="0.87" fill="#6b5f98"/><circle cx="425.5" cy="665.9" r="0.85" fill="#6b5f98"/><circle cx="437.5" cy="670.3" r="0.67" fill="#6b5f98"/><circle cx="437.6" cy="665.3" r="0.93" fill="#5c5088"/><circle cx="432.9" cy="662.3" r="0.99" fill="#5c5088"/><circle cx="420.3" cy="670.2" r="0.58" fill="#8a80b0"/><circle cx="428.4" cy="659.8" r="0.91" fill="#675a94"/><circle cx="426.0" cy="660.7" r="0.54" fill="#5c5088"/><circle cx="426.9" cy="675.3" r="0.99" fill="#54487e"/></g>
<g opacity="0.75"><circle cx="445.8" cy="634.9" r="0.65" fill="#6b5f98"/><circle cx="438.3" cy="629.5" r="0.84" fill="#8a80b0"/><circle cx="442.8" cy="624.4" r="0.99" fill="#54487e"/><circle cx="441.0" cy="628.7" r="0.99" fill="#54487e"/><circle cx="438.2" cy="630.9" r="0.96" fill="#54487e"/><circle cx="431.4" cy="632.2" r="0.57" fill="#8a80b0"/><circle cx="441.1" cy="626.2" r="0.99" fill="#8a80b0"/><circle cx="445.9" cy="628.7" r="0.97" fill="#5c5088"/><circle cx="445.0" cy="626.5" r="0.51" fill="#7a6ea6"/><circle cx="435.7" cy="629.9" r="0.86" fill="#7a6ea6"/><circle cx="444.1" cy="636.7" r="0.79" fill="#675a94"/><circle cx="443.5" cy="634.0" r="0.90" fill="#7a6ea6"/><circle cx="448.1" cy="634.4" r="0.86" fill="#675a94"/><circle cx="442.0" cy="627.6" r="0.90" fill="#7a6ea6"/><circle cx="438.8" cy="628.2" r="0.50" fill="#675a94"/><circle cx="443.3" cy="629.6" r="0.52" fill="#6b5f98"/><circle cx="432.4" cy="634.6" r="0.54" fill="#5c5088"/><circle cx="446.8" cy="632.3" r="0.77" fill="#7a6ea6"/><circle cx="436.5" cy="632.4" r="0.78" fill="#675a94"/><circle cx="437.8" cy="628.1" r="0.78" fill="#5c5088"/><circle cx="435.4" cy="636.5" r="0.92" fill="#7a6ea6"/><circle cx="439.4" cy="627.9" r="0.91" fill="#54487e"/><circle cx="446.1" cy="636.1" r="0.93" fill="#6b5f98"/><circle cx="434.1" cy="634.6" r="0.54" fill="#7a6ea6"/><circle cx="440.6" cy="628.6" r="0.58" fill="#6b5f98"/><circle cx="442.3" cy="628.6" r="0.52" fill="#5c5088"/><circle cx="440.0" cy="627.7" r="0.56" fill="#8a80b0"/><circle cx="440.9" cy="631.5" r="0.95" fill="#54487e"/><circle cx="436.9" cy="637.0" r="0.89" fill="#5c5088"/><circle cx="436.0" cy="630.8" r="0.73" fill="#5c5088"/><circle cx="442.4" cy="631.7" r="0.76" fill="#675a94"/><circle cx="437.1" cy="625.8" r="0.59" fill="#7a6ea6"/><circle cx="444.4" cy="633.8" r="0.70" fill="#5c5088"/><circle cx="446.0" cy="630.4" r="0.76" fill="#7a6ea6"/><circle cx="443.3" cy="625.7" r="0.76" fill="#7a6ea6"/><circle cx="444.8" cy="636.2" r="1.00" fill="#8a80b0"/><circle cx="446.5" cy="632.1" r="0.76" fill="#7a6ea6"/><circle cx="436.0" cy="624.8" r="0.97" fill="#7a6ea6"/><circle cx="445.5" cy="628.9" r="0.81" fill="#5c5088"/><circle cx="436.6" cy="636.6" r="0.85" fill="#7a6ea6"/><circle cx="439.0" cy="626.1" r="0.94" fill="#5c5088"/><circle cx="435.1" cy="629.6" r="0.85" fill="#54487e"/><circle cx="435.0" cy="627.5" r="0.51" fill="#5c5088"/><circle cx="435.0" cy="625.7" r="0.66" fill="#6b5f98"/><circle cx="432.7" cy="626.6" r="0.68" fill="#5c5088"/><circle cx="434.9" cy="634.8" r="0.60" fill="#5c5088"/><circle cx="435.5" cy="628.6" r="0.63" fill="#675a94"/><circle cx="441.4" cy="634.0" r="0.61" fill="#7a6ea6"/><circle cx="447.7" cy="631.7" r="0.97" fill="#6b5f98"/><circle cx="442.7" cy="633.6" r="0.82" fill="#675a94"/><circle cx="438.6" cy="626.3" r="0.95" fill="#675a94"/><circle cx="438.1" cy="635.3" r="0.56" fill="#675a94"/><circle cx="439.3" cy="624.4" r="0.88" fill="#8a80b0"/><circle cx="438.1" cy="636.1" r="0.58" fill="#54487e"/><circle cx="438.7" cy="635.1" r="0.70" fill="#5c5088"/><circle cx="432.7" cy="634.2" r="0.79" fill="#675a94"/><circle cx="431.8" cy="629.6" r="0.62" fill="#54487e"/><circle cx="449.4" cy="628.9" r="0.65" fill="#5c5088"/><circle cx="438.7" cy="629.8" r="0.97" fill="#7a6ea6"/><circle cx="432.9" cy="627.5" r="0.63" fill="#8a80b0"/></g>
<g opacity="0.45"><circle cx="422.5" cy="693.4" r="0.63" fill="#6b5f98"/><circle cx="434.7" cy="692.5" r="0.46" fill="#8a80b0"/><circle cx="424.4" cy="700.7" r="0.73" fill="#8a80b0"/><circle cx="424.8" cy="688.3" r="0.43" fill="#675a94"/><circle cx="420.9" cy="699.0" r="0.54" fill="#8a80b0"/><circle cx="432.8" cy="695.5" r="0.63" fill="#7a6ea6"/><circle cx="428.2" cy="690.3" r="0.73" fill="#6b5f98"/><circle cx="434.9" cy="692.5" r="0.61" fill="#5c5088"/><circle cx="436.6" cy="691.8" r="0.63" fill="#8a80b0"/><circle cx="425.9" cy="695.9" r="0.45" fill="#6b5f98"/><circle cx="429.6" cy="688.4" r="0.57" fill="#54487e"/><circle cx="421.6" cy="688.7" r="0.47" fill="#675a94"/><circle cx="429.9" cy="692.2" r="0.48" fill="#54487e"/><circle cx="420.8" cy="698.9" r="0.52" fill="#675a94"/><circle cx="430.7" cy="695.4" r="0.90" fill="#7a6ea6"/><circle cx="426.3" cy="696.9" r="0.52" fill="#8a80b0"/><circle cx="411.1" cy="694.2" r="0.48" fill="#8a80b0"/><circle cx="418.0" cy="693.9" r="0.48" fill="#6b5f98"/><circle cx="419.7" cy="694.6" r="0.51" fill="#5c5088"/><circle cx="411.5" cy="694.7" r="0.84" fill="#675a94"/><circle cx="432.2" cy="699.2" r="0.67" fill="#675a94"/><circle cx="419.6" cy="688.8" r="0.48" fill="#7a6ea6"/><circle cx="425.7" cy="693.8" r="0.59" fill="#675a94"/><circle cx="424.4" cy="698.5" r="0.74" fill="#675a94"/><circle cx="433.4" cy="694.3" r="0.51" fill="#6b5f98"/><circle cx="414.8" cy="693.1" r="0.75" fill="#5c5088"/><circle cx="436.7" cy="694.6" r="0.82" fill="#8a80b0"/><circle cx="417.4" cy="691.2" r="0.84" fill="#7a6ea6"/><circle cx="438.0" cy="691.8" r="0.44" fill="#8a80b0"/><circle cx="431.2" cy="691.1" r="0.42" fill="#6b5f98"/><circle cx="416.2" cy="695.5" r="0.71" fill="#7a6ea6"/><circle cx="415.4" cy="691.8" r="0.90" fill="#5c5088"/><circle cx="434.9" cy="694.2" r="0.49" fill="#8a80b0"/><circle cx="436.9" cy="693.1" r="0.52" fill="#675a94"/><circle cx="426.3" cy="690.5" r="0.63" fill="#54487e"/></g>
</g></g>
</svg>
</body></html>
